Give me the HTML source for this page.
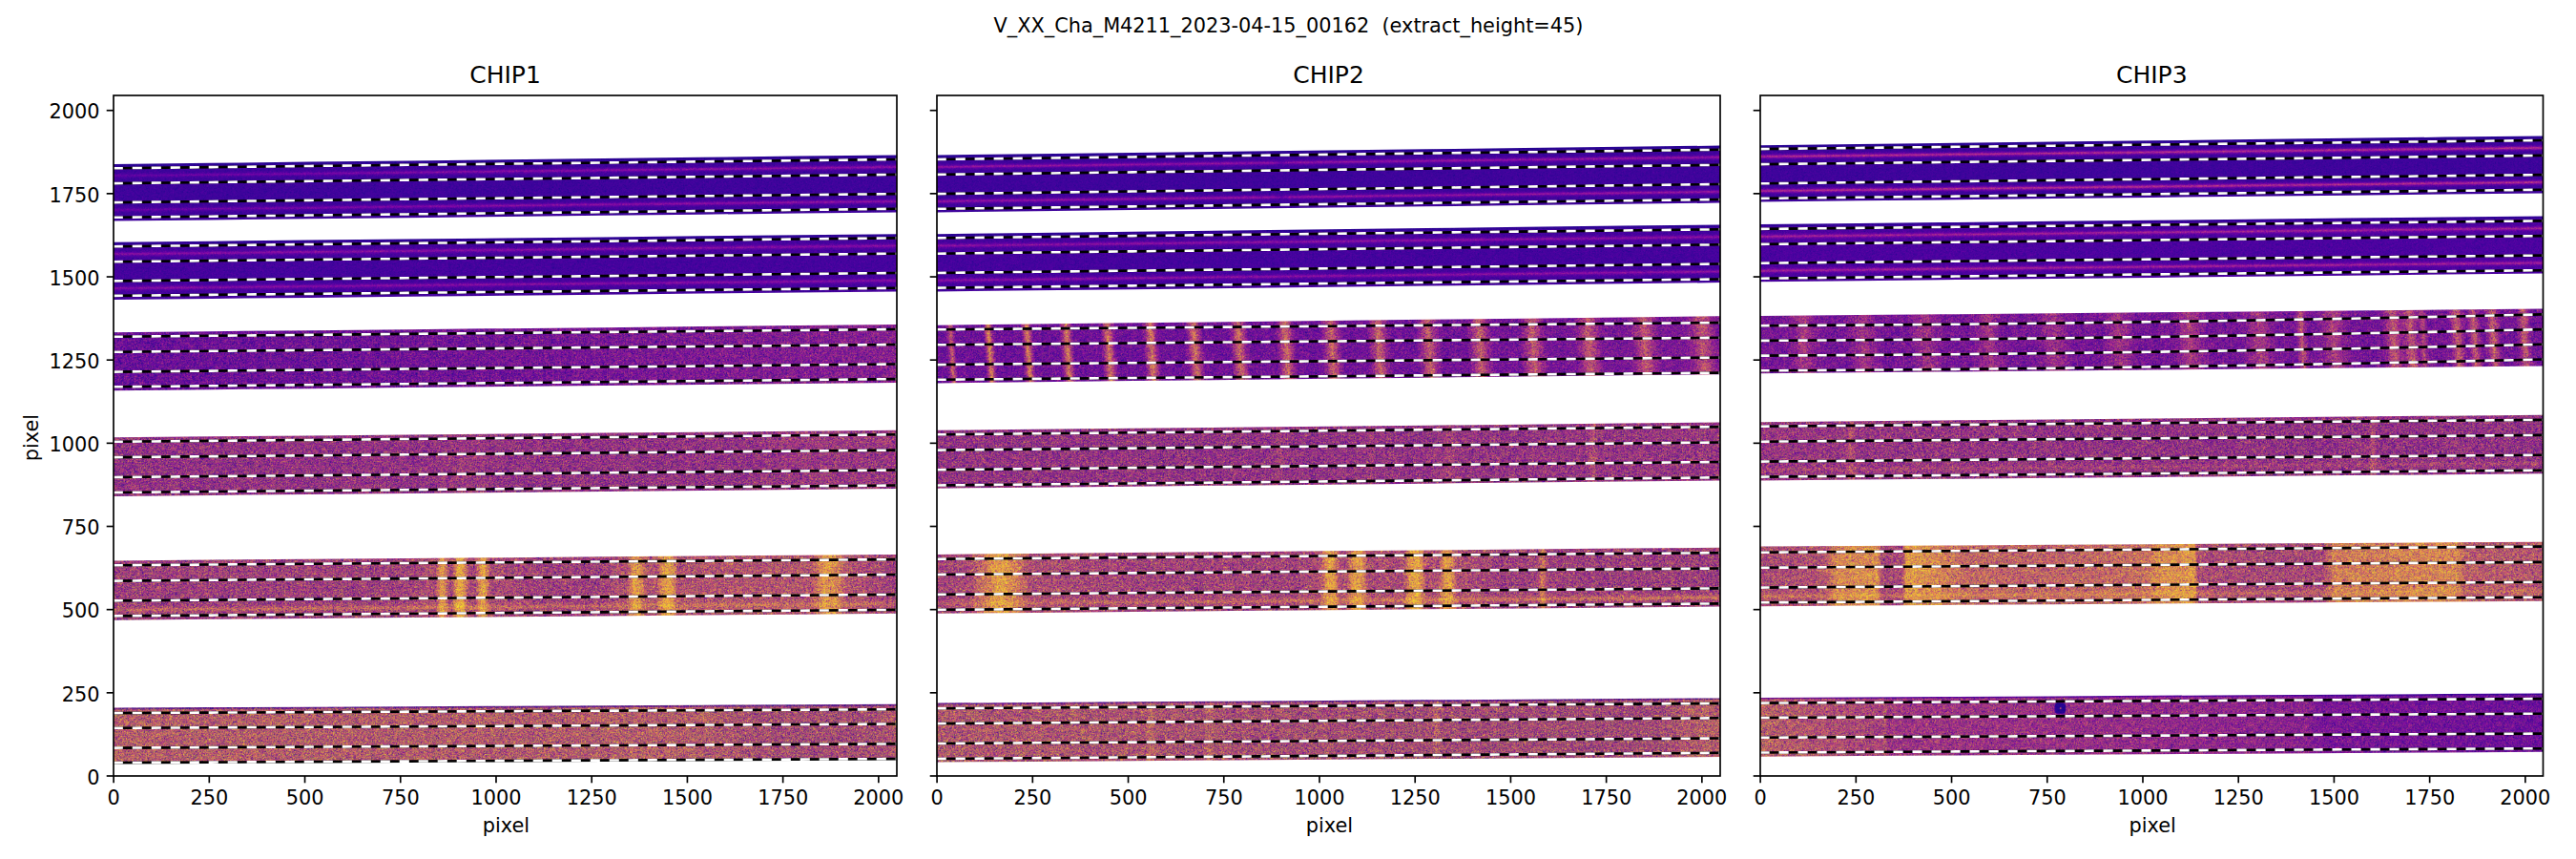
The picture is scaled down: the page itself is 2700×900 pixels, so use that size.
<!DOCTYPE html>
<html><head><meta charset="utf-8"><title>V_XX_Cha_M4211_2023-04-15_00162</title>
<style>html,body{margin:0;padding:0;background:#fff}svg{display:block}text{font-family:"DejaVu Sans","Liberation Sans",sans-serif;fill:#000}</style></head><body>
<svg width="2700" height="900" viewBox="0 0 2700 900">
<rect width="2700" height="900" fill="#fff"/>
<defs>
<linearGradient id="sg" x1="0" y1="0" x2="1" y2="0"><stop offset="0" stop-color="#fff" stop-opacity="0"/><stop offset="0.2" stop-color="#fff" stop-opacity="0.3"/><stop offset="0.5" stop-color="#fff" stop-opacity="1"/><stop offset="0.8" stop-color="#fff" stop-opacity="0.3"/><stop offset="1" stop-color="#fff" stop-opacity="0"/></linearGradient>
<clipPath id="ca0"><rect x="119.0" y="100.0" width="821.0" height="713.0"/></clipPath>
<clipPath id="ca1"><rect x="982.0" y="100.0" width="821.0" height="713.0"/></clipPath>
<clipPath id="ca2"><rect x="1845.0" y="100.0" width="820.5" height="713.0"/></clipPath>
</defs>
<g clip-path="url(#ca0)">
<clipPath id="cb00"><path d="M119.0,172.00 L221.6,170.80 L324.2,169.60 L426.9,168.40 L529.5,167.20 L632.1,166.00 L734.8,164.80 L837.4,163.60 L940.0,162.40 L940.0,222.40 L837.4,223.55 L734.8,224.70 L632.1,225.85 L529.5,227.00 L426.9,228.15 L324.2,229.30 L221.6,230.45 L119.0,231.60Z"/></clipPath>
<filter id="f00" filterUnits="userSpaceOnUse" x="117.0" y="159.4" width="825.0" height="75.2" color-interpolation-filters="sRGB">
<feTurbulence type="fractalNoise" baseFrequency="2.37 2.71" numOctaves="1" seed="3" result="t0"/>
<feTurbulence type="fractalNoise" baseFrequency="2.53 2.29" numOctaves="1" seed="14" result="t1"/>
<feColorMatrix in="t0" type="matrix" values="1 0 0 0 0 1 0 0 0 0 1 0 0 0 0 0 0 0 0 1" result="n0"/>
<feComposite in="SourceGraphic" in2="n0" operator="arithmetic" k1="2.3364" k2="-0.1682" k3="0.2056" k4="-0.1028" result="v0"/>
<feComponentTransfer in="v0" result="c0"><feFuncR type="table" tableValues="0.050 0.132 0.193 0.248 0.300 0.350 0.399 0.448 0.495 0.541 0.584 0.626 0.665 0.702 0.736 0.768 0.798 0.827 0.853 0.878 0.902 0.923 0.943 0.959 0.973 0.984 0.991 0.994 0.993 0.987 0.974 0.957 0.940"/><feFuncG type="table" tableValues="0.030 0.022 0.018 0.014 0.010 0.004 0.001 0.002 0.012 0.035 0.069 0.103 0.139 0.174 0.209 0.245 0.280 0.316 0.352 0.388 0.425 0.463 0.503 0.543 0.586 0.630 0.675 0.723 0.772 0.822 0.875 0.928 0.975"/><feFuncB type="table" tableValues="0.528 0.563 0.590 0.613 0.632 0.646 0.656 0.660 0.658 0.649 0.633 0.611 0.586 0.557 0.528 0.498 0.470 0.441 0.414 0.387 0.360 0.333 0.306 0.279 0.252 0.225 0.198 0.174 0.155 0.144 0.144 0.152 0.131"/><feFuncA type="linear" slope="0" intercept="1"/></feComponentTransfer>
<feColorMatrix in="t0" type="matrix" values="0 1 0 0 0 0 1 0 0 0 0 1 0 0 0 0 0 0 0 1" result="n1"/>
<feComposite in="SourceGraphic" in2="n1" operator="arithmetic" k1="2.3364" k2="-0.1682" k3="0.2056" k4="-0.1028" result="v1"/>
<feComponentTransfer in="v1" result="c1"><feFuncR type="table" tableValues="0.050 0.132 0.193 0.248 0.300 0.350 0.399 0.448 0.495 0.541 0.584 0.626 0.665 0.702 0.736 0.768 0.798 0.827 0.853 0.878 0.902 0.923 0.943 0.959 0.973 0.984 0.991 0.994 0.993 0.987 0.974 0.957 0.940"/><feFuncG type="table" tableValues="0.030 0.022 0.018 0.014 0.010 0.004 0.001 0.002 0.012 0.035 0.069 0.103 0.139 0.174 0.209 0.245 0.280 0.316 0.352 0.388 0.425 0.463 0.503 0.543 0.586 0.630 0.675 0.723 0.772 0.822 0.875 0.928 0.975"/><feFuncB type="table" tableValues="0.528 0.563 0.590 0.613 0.632 0.646 0.656 0.660 0.658 0.649 0.633 0.611 0.586 0.557 0.528 0.498 0.470 0.441 0.414 0.387 0.360 0.333 0.306 0.279 0.252 0.225 0.198 0.174 0.155 0.144 0.144 0.152 0.131"/><feFuncA type="linear" slope="0" intercept="1"/></feComponentTransfer>
<feColorMatrix in="t0" type="matrix" values="0 0 1 0 0 0 0 1 0 0 0 0 1 0 0 0 0 0 0 1" result="n2"/>
<feComposite in="SourceGraphic" in2="n2" operator="arithmetic" k1="2.3364" k2="-0.1682" k3="0.2056" k4="-0.1028" result="v2"/>
<feComponentTransfer in="v2" result="c2"><feFuncR type="table" tableValues="0.050 0.132 0.193 0.248 0.300 0.350 0.399 0.448 0.495 0.541 0.584 0.626 0.665 0.702 0.736 0.768 0.798 0.827 0.853 0.878 0.902 0.923 0.943 0.959 0.973 0.984 0.991 0.994 0.993 0.987 0.974 0.957 0.940"/><feFuncG type="table" tableValues="0.030 0.022 0.018 0.014 0.010 0.004 0.001 0.002 0.012 0.035 0.069 0.103 0.139 0.174 0.209 0.245 0.280 0.316 0.352 0.388 0.425 0.463 0.503 0.543 0.586 0.630 0.675 0.723 0.772 0.822 0.875 0.928 0.975"/><feFuncB type="table" tableValues="0.528 0.563 0.590 0.613 0.632 0.646 0.656 0.660 0.658 0.649 0.633 0.611 0.586 0.557 0.528 0.498 0.470 0.441 0.414 0.387 0.360 0.333 0.306 0.279 0.252 0.225 0.198 0.174 0.155 0.144 0.144 0.152 0.131"/><feFuncA type="linear" slope="0" intercept="1"/></feComponentTransfer>
<feColorMatrix in="t1" type="matrix" values="1 0 0 0 0 1 0 0 0 0 1 0 0 0 0 0 0 0 0 1" result="n3"/>
<feComposite in="SourceGraphic" in2="n3" operator="arithmetic" k1="2.3364" k2="-0.1682" k3="0.2056" k4="-0.1028" result="v3"/>
<feComponentTransfer in="v3" result="c3"><feFuncR type="table" tableValues="0.050 0.132 0.193 0.248 0.300 0.350 0.399 0.448 0.495 0.541 0.584 0.626 0.665 0.702 0.736 0.768 0.798 0.827 0.853 0.878 0.902 0.923 0.943 0.959 0.973 0.984 0.991 0.994 0.993 0.987 0.974 0.957 0.940"/><feFuncG type="table" tableValues="0.030 0.022 0.018 0.014 0.010 0.004 0.001 0.002 0.012 0.035 0.069 0.103 0.139 0.174 0.209 0.245 0.280 0.316 0.352 0.388 0.425 0.463 0.503 0.543 0.586 0.630 0.675 0.723 0.772 0.822 0.875 0.928 0.975"/><feFuncB type="table" tableValues="0.528 0.563 0.590 0.613 0.632 0.646 0.656 0.660 0.658 0.649 0.633 0.611 0.586 0.557 0.528 0.498 0.470 0.441 0.414 0.387 0.360 0.333 0.306 0.279 0.252 0.225 0.198 0.174 0.155 0.144 0.144 0.152 0.131"/><feFuncA type="linear" slope="0" intercept="1"/></feComponentTransfer>
<feColorMatrix in="t1" type="matrix" values="0 1 0 0 0 0 1 0 0 0 0 1 0 0 0 0 0 0 0 1" result="n4"/>
<feComposite in="SourceGraphic" in2="n4" operator="arithmetic" k1="2.3364" k2="-0.1682" k3="0.2056" k4="-0.1028" result="v4"/>
<feComponentTransfer in="v4" result="c4"><feFuncR type="table" tableValues="0.050 0.132 0.193 0.248 0.300 0.350 0.399 0.448 0.495 0.541 0.584 0.626 0.665 0.702 0.736 0.768 0.798 0.827 0.853 0.878 0.902 0.923 0.943 0.959 0.973 0.984 0.991 0.994 0.993 0.987 0.974 0.957 0.940"/><feFuncG type="table" tableValues="0.030 0.022 0.018 0.014 0.010 0.004 0.001 0.002 0.012 0.035 0.069 0.103 0.139 0.174 0.209 0.245 0.280 0.316 0.352 0.388 0.425 0.463 0.503 0.543 0.586 0.630 0.675 0.723 0.772 0.822 0.875 0.928 0.975"/><feFuncB type="table" tableValues="0.528 0.563 0.590 0.613 0.632 0.646 0.656 0.660 0.658 0.649 0.633 0.611 0.586 0.557 0.528 0.498 0.470 0.441 0.414 0.387 0.360 0.333 0.306 0.279 0.252 0.225 0.198 0.174 0.155 0.144 0.144 0.152 0.131"/><feFuncA type="linear" slope="0" intercept="1"/></feComponentTransfer>
<feColorMatrix in="t1" type="matrix" values="0 0 1 0 0 0 0 1 0 0 0 0 1 0 0 0 0 0 0 1" result="n5"/>
<feComposite in="SourceGraphic" in2="n5" operator="arithmetic" k1="2.3364" k2="-0.1682" k3="0.2056" k4="-0.1028" result="v5"/>
<feComponentTransfer in="v5" result="c5"><feFuncR type="table" tableValues="0.050 0.132 0.193 0.248 0.300 0.350 0.399 0.448 0.495 0.541 0.584 0.626 0.665 0.702 0.736 0.768 0.798 0.827 0.853 0.878 0.902 0.923 0.943 0.959 0.973 0.984 0.991 0.994 0.993 0.987 0.974 0.957 0.940"/><feFuncG type="table" tableValues="0.030 0.022 0.018 0.014 0.010 0.004 0.001 0.002 0.012 0.035 0.069 0.103 0.139 0.174 0.209 0.245 0.280 0.316 0.352 0.388 0.425 0.463 0.503 0.543 0.586 0.630 0.675 0.723 0.772 0.822 0.875 0.928 0.975"/><feFuncB type="table" tableValues="0.528 0.563 0.590 0.613 0.632 0.646 0.656 0.660 0.658 0.649 0.633 0.611 0.586 0.557 0.528 0.498 0.470 0.441 0.414 0.387 0.360 0.333 0.306 0.279 0.252 0.225 0.198 0.174 0.155 0.144 0.144 0.152 0.131"/><feFuncA type="linear" slope="0" intercept="1"/></feComponentTransfer>
<feComposite in="c0" in2="c1" operator="arithmetic" k2="0.5" k3="0.5" result="m0"/>
<feComposite in="m0" in2="c2" operator="arithmetic" k2="0.6667" k3="0.3333" result="ma"/>
<feComposite in="c3" in2="c4" operator="arithmetic" k2="0.5" k3="0.5" result="m1"/>
<feComposite in="m1" in2="c5" operator="arithmetic" k2="0.6667" k3="0.3333" result="mb"/>
<feComposite in="ma" in2="mb" operator="arithmetic" k2="0.5" k3="0.5" result="m"/>
<feConvolveMatrix in="m" order="3" kernelMatrix="0.00903 0.07695 0.00903 0.07695 0.65610 0.07695 0.00903 0.07695 0.00903" divisor="1" edgeMode="duplicate" preserveAlpha="true" result="bl"/>

<feComposite in="bl" in2="SourceGraphic" operator="in"/>
</filter>
<g clip-path="url(#cb00)" filter="url(#f00)">
<linearGradient id="g00" gradientUnits="userSpaceOnUse" x1="119.0" y1="0" x2="940.0" y2="0"><stop offset="0" stop-color="rgb(24,24,24)"/><stop offset="1" stop-color="rgb(24,24,24)"/></linearGradient>
<rect x="117.0" y="159.4" width="825.0" height="75.2" fill="url(#g00)"/>
<linearGradient id="ht00_12_50" gradientUnits="userSpaceOnUse" x1="119.0" y1="0" x2="940.0" y2="0"><stop offset="0.000" stop-color="#fff" stop-opacity="0.100"/><stop offset="0.250" stop-color="#fff" stop-opacity="0.160"/><stop offset="0.500" stop-color="#fff" stop-opacity="0.220"/><stop offset="1.000" stop-color="#fff" stop-opacity="0.240"/></linearGradient><path d="M119.0,184.20 L221.6,183.04 L324.2,181.89 L426.9,180.73 L529.5,179.57 L632.1,178.42 L734.8,177.26 L837.4,176.11 L940.0,174.95" fill="none" stroke="url(#ht00_12_50)" stroke-width="6.72" stroke-opacity="0.12"/><path d="M119.0,184.20 L221.6,183.04 L324.2,181.89 L426.9,180.73 L529.5,179.57 L632.1,178.42 L734.8,177.26 L837.4,176.11 L940.0,174.95" fill="none" stroke="url(#ht00_12_50)" stroke-width="4.20" stroke-opacity="0.2"/><path d="M119.0,184.20 L221.6,183.04 L324.2,181.89 L426.9,180.73 L529.5,179.57 L632.1,178.42 L734.8,177.26 L837.4,176.11 L940.0,174.95" fill="none" stroke="url(#ht00_12_50)" stroke-width="2.52" stroke-opacity="0.3"/><path d="M119.0,184.20 L221.6,183.04 L324.2,181.89 L426.9,180.73 L529.5,179.57 L632.1,178.42 L734.8,177.26 L837.4,176.11 L940.0,174.95" fill="none" stroke="url(#ht00_12_50)" stroke-width="1.40" stroke-opacity="0.38"/>
<linearGradient id="ht00_34_50" gradientUnits="userSpaceOnUse" x1="119.0" y1="0" x2="940.0" y2="0"><stop offset="0.000" stop-color="#fff" stop-opacity="0.100"/><stop offset="0.250" stop-color="#fff" stop-opacity="0.160"/><stop offset="0.500" stop-color="#fff" stop-opacity="0.220"/><stop offset="1.000" stop-color="#fff" stop-opacity="0.240"/></linearGradient><path d="M119.0,219.95 L221.6,218.82 L324.2,217.70 L426.9,216.57 L529.5,215.45 L632.1,214.32 L734.8,213.20 L837.4,212.07 L940.0,210.95" fill="none" stroke="url(#ht00_34_50)" stroke-width="6.72" stroke-opacity="0.12"/><path d="M119.0,219.95 L221.6,218.82 L324.2,217.70 L426.9,216.57 L529.5,215.45 L632.1,214.32 L734.8,213.20 L837.4,212.07 L940.0,210.95" fill="none" stroke="url(#ht00_34_50)" stroke-width="4.20" stroke-opacity="0.2"/><path d="M119.0,219.95 L221.6,218.82 L324.2,217.70 L426.9,216.57 L529.5,215.45 L632.1,214.32 L734.8,213.20 L837.4,212.07 L940.0,210.95" fill="none" stroke="url(#ht00_34_50)" stroke-width="2.52" stroke-opacity="0.3"/><path d="M119.0,219.95 L221.6,218.82 L324.2,217.70 L426.9,216.57 L529.5,215.45 L632.1,214.32 L734.8,213.20 L837.4,212.07 L940.0,210.95" fill="none" stroke="url(#ht00_34_50)" stroke-width="1.40" stroke-opacity="0.38"/>
<path d="M119.0,173.00 L221.6,171.80 L324.2,170.60 L426.9,169.40 L529.5,168.20 L632.1,167.00 L734.8,165.80 L837.4,164.60 L940.0,163.40" fill="none" stroke="#000" stroke-width="3.0" stroke-opacity="0.45"/>
</g>
<clipPath id="cb01"><path d="M119.0,253.70 L221.6,252.64 L324.2,251.57 L426.9,250.51 L529.5,249.45 L632.1,248.39 L734.8,247.32 L837.4,246.26 L940.0,245.20 L940.0,305.50 L837.4,306.56 L734.8,307.62 L632.1,308.69 L529.5,309.75 L426.9,310.81 L324.2,311.88 L221.6,312.94 L119.0,314.00Z"/></clipPath>
<filter id="f01" filterUnits="userSpaceOnUse" x="117.0" y="242.2" width="825.0" height="74.8" color-interpolation-filters="sRGB">
<feTurbulence type="fractalNoise" baseFrequency="2.37 2.71" numOctaves="1" seed="16" result="t0"/>
<feTurbulence type="fractalNoise" baseFrequency="2.53 2.29" numOctaves="1" seed="27" result="t1"/>
<feColorMatrix in="t0" type="matrix" values="1 0 0 0 0 1 0 0 0 0 1 0 0 0 0 0 0 0 0 1" result="n0"/>
<feComposite in="SourceGraphic" in2="n0" operator="arithmetic" k1="2.3364" k2="-0.1682" k3="0.2617" k4="-0.1308" result="v0"/>
<feComponentTransfer in="v0" result="c0"><feFuncR type="table" tableValues="0.050 0.132 0.193 0.248 0.300 0.350 0.399 0.448 0.495 0.541 0.584 0.626 0.665 0.702 0.736 0.768 0.798 0.827 0.853 0.878 0.902 0.923 0.943 0.959 0.973 0.984 0.991 0.994 0.993 0.987 0.974 0.957 0.940"/><feFuncG type="table" tableValues="0.030 0.022 0.018 0.014 0.010 0.004 0.001 0.002 0.012 0.035 0.069 0.103 0.139 0.174 0.209 0.245 0.280 0.316 0.352 0.388 0.425 0.463 0.503 0.543 0.586 0.630 0.675 0.723 0.772 0.822 0.875 0.928 0.975"/><feFuncB type="table" tableValues="0.528 0.563 0.590 0.613 0.632 0.646 0.656 0.660 0.658 0.649 0.633 0.611 0.586 0.557 0.528 0.498 0.470 0.441 0.414 0.387 0.360 0.333 0.306 0.279 0.252 0.225 0.198 0.174 0.155 0.144 0.144 0.152 0.131"/><feFuncA type="linear" slope="0" intercept="1"/></feComponentTransfer>
<feColorMatrix in="t0" type="matrix" values="0 1 0 0 0 0 1 0 0 0 0 1 0 0 0 0 0 0 0 1" result="n1"/>
<feComposite in="SourceGraphic" in2="n1" operator="arithmetic" k1="2.3364" k2="-0.1682" k3="0.2617" k4="-0.1308" result="v1"/>
<feComponentTransfer in="v1" result="c1"><feFuncR type="table" tableValues="0.050 0.132 0.193 0.248 0.300 0.350 0.399 0.448 0.495 0.541 0.584 0.626 0.665 0.702 0.736 0.768 0.798 0.827 0.853 0.878 0.902 0.923 0.943 0.959 0.973 0.984 0.991 0.994 0.993 0.987 0.974 0.957 0.940"/><feFuncG type="table" tableValues="0.030 0.022 0.018 0.014 0.010 0.004 0.001 0.002 0.012 0.035 0.069 0.103 0.139 0.174 0.209 0.245 0.280 0.316 0.352 0.388 0.425 0.463 0.503 0.543 0.586 0.630 0.675 0.723 0.772 0.822 0.875 0.928 0.975"/><feFuncB type="table" tableValues="0.528 0.563 0.590 0.613 0.632 0.646 0.656 0.660 0.658 0.649 0.633 0.611 0.586 0.557 0.528 0.498 0.470 0.441 0.414 0.387 0.360 0.333 0.306 0.279 0.252 0.225 0.198 0.174 0.155 0.144 0.144 0.152 0.131"/><feFuncA type="linear" slope="0" intercept="1"/></feComponentTransfer>
<feColorMatrix in="t0" type="matrix" values="0 0 1 0 0 0 0 1 0 0 0 0 1 0 0 0 0 0 0 1" result="n2"/>
<feComposite in="SourceGraphic" in2="n2" operator="arithmetic" k1="2.3364" k2="-0.1682" k3="0.2617" k4="-0.1308" result="v2"/>
<feComponentTransfer in="v2" result="c2"><feFuncR type="table" tableValues="0.050 0.132 0.193 0.248 0.300 0.350 0.399 0.448 0.495 0.541 0.584 0.626 0.665 0.702 0.736 0.768 0.798 0.827 0.853 0.878 0.902 0.923 0.943 0.959 0.973 0.984 0.991 0.994 0.993 0.987 0.974 0.957 0.940"/><feFuncG type="table" tableValues="0.030 0.022 0.018 0.014 0.010 0.004 0.001 0.002 0.012 0.035 0.069 0.103 0.139 0.174 0.209 0.245 0.280 0.316 0.352 0.388 0.425 0.463 0.503 0.543 0.586 0.630 0.675 0.723 0.772 0.822 0.875 0.928 0.975"/><feFuncB type="table" tableValues="0.528 0.563 0.590 0.613 0.632 0.646 0.656 0.660 0.658 0.649 0.633 0.611 0.586 0.557 0.528 0.498 0.470 0.441 0.414 0.387 0.360 0.333 0.306 0.279 0.252 0.225 0.198 0.174 0.155 0.144 0.144 0.152 0.131"/><feFuncA type="linear" slope="0" intercept="1"/></feComponentTransfer>
<feColorMatrix in="t1" type="matrix" values="1 0 0 0 0 1 0 0 0 0 1 0 0 0 0 0 0 0 0 1" result="n3"/>
<feComposite in="SourceGraphic" in2="n3" operator="arithmetic" k1="2.3364" k2="-0.1682" k3="0.2617" k4="-0.1308" result="v3"/>
<feComponentTransfer in="v3" result="c3"><feFuncR type="table" tableValues="0.050 0.132 0.193 0.248 0.300 0.350 0.399 0.448 0.495 0.541 0.584 0.626 0.665 0.702 0.736 0.768 0.798 0.827 0.853 0.878 0.902 0.923 0.943 0.959 0.973 0.984 0.991 0.994 0.993 0.987 0.974 0.957 0.940"/><feFuncG type="table" tableValues="0.030 0.022 0.018 0.014 0.010 0.004 0.001 0.002 0.012 0.035 0.069 0.103 0.139 0.174 0.209 0.245 0.280 0.316 0.352 0.388 0.425 0.463 0.503 0.543 0.586 0.630 0.675 0.723 0.772 0.822 0.875 0.928 0.975"/><feFuncB type="table" tableValues="0.528 0.563 0.590 0.613 0.632 0.646 0.656 0.660 0.658 0.649 0.633 0.611 0.586 0.557 0.528 0.498 0.470 0.441 0.414 0.387 0.360 0.333 0.306 0.279 0.252 0.225 0.198 0.174 0.155 0.144 0.144 0.152 0.131"/><feFuncA type="linear" slope="0" intercept="1"/></feComponentTransfer>
<feColorMatrix in="t1" type="matrix" values="0 1 0 0 0 0 1 0 0 0 0 1 0 0 0 0 0 0 0 1" result="n4"/>
<feComposite in="SourceGraphic" in2="n4" operator="arithmetic" k1="2.3364" k2="-0.1682" k3="0.2617" k4="-0.1308" result="v4"/>
<feComponentTransfer in="v4" result="c4"><feFuncR type="table" tableValues="0.050 0.132 0.193 0.248 0.300 0.350 0.399 0.448 0.495 0.541 0.584 0.626 0.665 0.702 0.736 0.768 0.798 0.827 0.853 0.878 0.902 0.923 0.943 0.959 0.973 0.984 0.991 0.994 0.993 0.987 0.974 0.957 0.940"/><feFuncG type="table" tableValues="0.030 0.022 0.018 0.014 0.010 0.004 0.001 0.002 0.012 0.035 0.069 0.103 0.139 0.174 0.209 0.245 0.280 0.316 0.352 0.388 0.425 0.463 0.503 0.543 0.586 0.630 0.675 0.723 0.772 0.822 0.875 0.928 0.975"/><feFuncB type="table" tableValues="0.528 0.563 0.590 0.613 0.632 0.646 0.656 0.660 0.658 0.649 0.633 0.611 0.586 0.557 0.528 0.498 0.470 0.441 0.414 0.387 0.360 0.333 0.306 0.279 0.252 0.225 0.198 0.174 0.155 0.144 0.144 0.152 0.131"/><feFuncA type="linear" slope="0" intercept="1"/></feComponentTransfer>
<feColorMatrix in="t1" type="matrix" values="0 0 1 0 0 0 0 1 0 0 0 0 1 0 0 0 0 0 0 1" result="n5"/>
<feComposite in="SourceGraphic" in2="n5" operator="arithmetic" k1="2.3364" k2="-0.1682" k3="0.2617" k4="-0.1308" result="v5"/>
<feComponentTransfer in="v5" result="c5"><feFuncR type="table" tableValues="0.050 0.132 0.193 0.248 0.300 0.350 0.399 0.448 0.495 0.541 0.584 0.626 0.665 0.702 0.736 0.768 0.798 0.827 0.853 0.878 0.902 0.923 0.943 0.959 0.973 0.984 0.991 0.994 0.993 0.987 0.974 0.957 0.940"/><feFuncG type="table" tableValues="0.030 0.022 0.018 0.014 0.010 0.004 0.001 0.002 0.012 0.035 0.069 0.103 0.139 0.174 0.209 0.245 0.280 0.316 0.352 0.388 0.425 0.463 0.503 0.543 0.586 0.630 0.675 0.723 0.772 0.822 0.875 0.928 0.975"/><feFuncB type="table" tableValues="0.528 0.563 0.590 0.613 0.632 0.646 0.656 0.660 0.658 0.649 0.633 0.611 0.586 0.557 0.528 0.498 0.470 0.441 0.414 0.387 0.360 0.333 0.306 0.279 0.252 0.225 0.198 0.174 0.155 0.144 0.144 0.152 0.131"/><feFuncA type="linear" slope="0" intercept="1"/></feComponentTransfer>
<feComposite in="c0" in2="c1" operator="arithmetic" k2="0.5" k3="0.5" result="m0"/>
<feComposite in="m0" in2="c2" operator="arithmetic" k2="0.6667" k3="0.3333" result="ma"/>
<feComposite in="c3" in2="c4" operator="arithmetic" k2="0.5" k3="0.5" result="m1"/>
<feComposite in="m1" in2="c5" operator="arithmetic" k2="0.6667" k3="0.3333" result="mb"/>
<feComposite in="ma" in2="mb" operator="arithmetic" k2="0.5" k3="0.5" result="m"/>
<feConvolveMatrix in="m" order="3" kernelMatrix="0.00903 0.07695 0.00903 0.07695 0.65610 0.07695 0.00903 0.07695 0.00903" divisor="1" edgeMode="duplicate" preserveAlpha="true" result="bl"/>

<feComposite in="bl" in2="SourceGraphic" operator="in"/>
</filter>
<g clip-path="url(#cb01)" filter="url(#f01)">
<linearGradient id="g01" gradientUnits="userSpaceOnUse" x1="119.0" y1="0" x2="940.0" y2="0"><stop offset="0" stop-color="rgb(28,28,28)"/><stop offset="1" stop-color="rgb(28,28,28)"/></linearGradient>
<rect x="117.0" y="242.2" width="825.0" height="74.8" fill="url(#g01)"/>
<linearGradient id="ht01_12_50" gradientUnits="userSpaceOnUse" x1="119.0" y1="0" x2="940.0" y2="0"><stop offset="0.000" stop-color="#fff" stop-opacity="0.200"/><stop offset="1.000" stop-color="#fff" stop-opacity="0.200"/></linearGradient><path d="M119.0,266.20 L221.6,265.12 L324.2,264.04 L426.9,262.96 L529.5,261.88 L632.1,260.79 L734.8,259.71 L837.4,258.63 L940.0,257.55" fill="none" stroke="url(#ht01_12_50)" stroke-width="6.72" stroke-opacity="0.12"/><path d="M119.0,266.20 L221.6,265.12 L324.2,264.04 L426.9,262.96 L529.5,261.88 L632.1,260.79 L734.8,259.71 L837.4,258.63 L940.0,257.55" fill="none" stroke="url(#ht01_12_50)" stroke-width="4.20" stroke-opacity="0.2"/><path d="M119.0,266.20 L221.6,265.12 L324.2,264.04 L426.9,262.96 L529.5,261.88 L632.1,260.79 L734.8,259.71 L837.4,258.63 L940.0,257.55" fill="none" stroke="url(#ht01_12_50)" stroke-width="2.52" stroke-opacity="0.3"/><path d="M119.0,266.20 L221.6,265.12 L324.2,264.04 L426.9,262.96 L529.5,261.88 L632.1,260.79 L734.8,259.71 L837.4,258.63 L940.0,257.55" fill="none" stroke="url(#ht01_12_50)" stroke-width="1.40" stroke-opacity="0.38"/>
<linearGradient id="ht01_34_50" gradientUnits="userSpaceOnUse" x1="119.0" y1="0" x2="940.0" y2="0"><stop offset="0.000" stop-color="#fff" stop-opacity="0.200"/><stop offset="1.000" stop-color="#fff" stop-opacity="0.200"/></linearGradient><path d="M119.0,302.15 L221.6,301.12 L324.2,300.09 L426.9,299.06 L529.5,298.02 L632.1,296.99 L734.8,295.96 L837.4,294.93 L940.0,293.90" fill="none" stroke="url(#ht01_34_50)" stroke-width="6.72" stroke-opacity="0.12"/><path d="M119.0,302.15 L221.6,301.12 L324.2,300.09 L426.9,299.06 L529.5,298.02 L632.1,296.99 L734.8,295.96 L837.4,294.93 L940.0,293.90" fill="none" stroke="url(#ht01_34_50)" stroke-width="4.20" stroke-opacity="0.2"/><path d="M119.0,302.15 L221.6,301.12 L324.2,300.09 L426.9,299.06 L529.5,298.02 L632.1,296.99 L734.8,295.96 L837.4,294.93 L940.0,293.90" fill="none" stroke="url(#ht01_34_50)" stroke-width="2.52" stroke-opacity="0.3"/><path d="M119.0,302.15 L221.6,301.12 L324.2,300.09 L426.9,299.06 L529.5,298.02 L632.1,296.99 L734.8,295.96 L837.4,294.93 L940.0,293.90" fill="none" stroke="url(#ht01_34_50)" stroke-width="1.40" stroke-opacity="0.38"/>
<path d="M119.0,254.70 L221.6,253.64 L324.2,252.57 L426.9,251.51 L529.5,250.45 L632.1,249.39 L734.8,248.32 L837.4,247.26 L940.0,246.20" fill="none" stroke="#000" stroke-width="3.0" stroke-opacity="0.45"/>
</g>
<clipPath id="cb02"><path d="M119.0,348.20 L221.6,347.19 L324.2,346.18 L426.9,345.16 L529.5,344.15 L632.1,343.14 L734.8,342.12 L837.4,341.11 L940.0,340.10 L940.0,401.00 L837.4,402.02 L734.8,403.05 L632.1,404.07 L529.5,405.10 L426.9,406.12 L324.2,407.15 L221.6,408.18 L119.0,409.20Z"/></clipPath>
<filter id="f02" filterUnits="userSpaceOnUse" x="117.0" y="337.1" width="825.0" height="75.1" color-interpolation-filters="sRGB">
<feTurbulence type="fractalNoise" baseFrequency="2.37 2.71" numOctaves="1" seed="29" result="t0"/>
<feTurbulence type="fractalNoise" baseFrequency="2.53 2.29" numOctaves="1" seed="40" result="t1"/>
<feColorMatrix in="t0" type="matrix" values="1 0 0 0 0 1 0 0 0 0 1 0 0 0 0 0 0 0 0 1" result="n0"/>
<feComposite in="SourceGraphic" in2="n0" operator="arithmetic" k1="3.9252" k2="-0.9626" k3="0.9346" k4="-0.4673" result="v0"/>
<feComponentTransfer in="v0" result="c0"><feFuncR type="table" tableValues="0.050 0.132 0.193 0.248 0.300 0.350 0.399 0.448 0.495 0.541 0.584 0.626 0.665 0.702 0.736 0.768 0.798 0.827 0.853 0.878 0.902 0.923 0.943 0.959 0.973 0.984 0.991 0.994 0.993 0.987 0.974 0.957 0.940"/><feFuncG type="table" tableValues="0.030 0.022 0.018 0.014 0.010 0.004 0.001 0.002 0.012 0.035 0.069 0.103 0.139 0.174 0.209 0.245 0.280 0.316 0.352 0.388 0.425 0.463 0.503 0.543 0.586 0.630 0.675 0.723 0.772 0.822 0.875 0.928 0.975"/><feFuncB type="table" tableValues="0.528 0.563 0.590 0.613 0.632 0.646 0.656 0.660 0.658 0.649 0.633 0.611 0.586 0.557 0.528 0.498 0.470 0.441 0.414 0.387 0.360 0.333 0.306 0.279 0.252 0.225 0.198 0.174 0.155 0.144 0.144 0.152 0.131"/><feFuncA type="linear" slope="0" intercept="1"/></feComponentTransfer>
<feColorMatrix in="t0" type="matrix" values="0 1 0 0 0 0 1 0 0 0 0 1 0 0 0 0 0 0 0 1" result="n1"/>
<feComposite in="SourceGraphic" in2="n1" operator="arithmetic" k1="3.9252" k2="-0.9626" k3="0.9346" k4="-0.4673" result="v1"/>
<feComponentTransfer in="v1" result="c1"><feFuncR type="table" tableValues="0.050 0.132 0.193 0.248 0.300 0.350 0.399 0.448 0.495 0.541 0.584 0.626 0.665 0.702 0.736 0.768 0.798 0.827 0.853 0.878 0.902 0.923 0.943 0.959 0.973 0.984 0.991 0.994 0.993 0.987 0.974 0.957 0.940"/><feFuncG type="table" tableValues="0.030 0.022 0.018 0.014 0.010 0.004 0.001 0.002 0.012 0.035 0.069 0.103 0.139 0.174 0.209 0.245 0.280 0.316 0.352 0.388 0.425 0.463 0.503 0.543 0.586 0.630 0.675 0.723 0.772 0.822 0.875 0.928 0.975"/><feFuncB type="table" tableValues="0.528 0.563 0.590 0.613 0.632 0.646 0.656 0.660 0.658 0.649 0.633 0.611 0.586 0.557 0.528 0.498 0.470 0.441 0.414 0.387 0.360 0.333 0.306 0.279 0.252 0.225 0.198 0.174 0.155 0.144 0.144 0.152 0.131"/><feFuncA type="linear" slope="0" intercept="1"/></feComponentTransfer>
<feColorMatrix in="t0" type="matrix" values="0 0 1 0 0 0 0 1 0 0 0 0 1 0 0 0 0 0 0 1" result="n2"/>
<feComposite in="SourceGraphic" in2="n2" operator="arithmetic" k1="3.9252" k2="-0.9626" k3="0.9346" k4="-0.4673" result="v2"/>
<feComponentTransfer in="v2" result="c2"><feFuncR type="table" tableValues="0.050 0.132 0.193 0.248 0.300 0.350 0.399 0.448 0.495 0.541 0.584 0.626 0.665 0.702 0.736 0.768 0.798 0.827 0.853 0.878 0.902 0.923 0.943 0.959 0.973 0.984 0.991 0.994 0.993 0.987 0.974 0.957 0.940"/><feFuncG type="table" tableValues="0.030 0.022 0.018 0.014 0.010 0.004 0.001 0.002 0.012 0.035 0.069 0.103 0.139 0.174 0.209 0.245 0.280 0.316 0.352 0.388 0.425 0.463 0.503 0.543 0.586 0.630 0.675 0.723 0.772 0.822 0.875 0.928 0.975"/><feFuncB type="table" tableValues="0.528 0.563 0.590 0.613 0.632 0.646 0.656 0.660 0.658 0.649 0.633 0.611 0.586 0.557 0.528 0.498 0.470 0.441 0.414 0.387 0.360 0.333 0.306 0.279 0.252 0.225 0.198 0.174 0.155 0.144 0.144 0.152 0.131"/><feFuncA type="linear" slope="0" intercept="1"/></feComponentTransfer>
<feColorMatrix in="t1" type="matrix" values="1 0 0 0 0 1 0 0 0 0 1 0 0 0 0 0 0 0 0 1" result="n3"/>
<feComposite in="SourceGraphic" in2="n3" operator="arithmetic" k1="3.9252" k2="-0.9626" k3="0.9346" k4="-0.4673" result="v3"/>
<feComponentTransfer in="v3" result="c3"><feFuncR type="table" tableValues="0.050 0.132 0.193 0.248 0.300 0.350 0.399 0.448 0.495 0.541 0.584 0.626 0.665 0.702 0.736 0.768 0.798 0.827 0.853 0.878 0.902 0.923 0.943 0.959 0.973 0.984 0.991 0.994 0.993 0.987 0.974 0.957 0.940"/><feFuncG type="table" tableValues="0.030 0.022 0.018 0.014 0.010 0.004 0.001 0.002 0.012 0.035 0.069 0.103 0.139 0.174 0.209 0.245 0.280 0.316 0.352 0.388 0.425 0.463 0.503 0.543 0.586 0.630 0.675 0.723 0.772 0.822 0.875 0.928 0.975"/><feFuncB type="table" tableValues="0.528 0.563 0.590 0.613 0.632 0.646 0.656 0.660 0.658 0.649 0.633 0.611 0.586 0.557 0.528 0.498 0.470 0.441 0.414 0.387 0.360 0.333 0.306 0.279 0.252 0.225 0.198 0.174 0.155 0.144 0.144 0.152 0.131"/><feFuncA type="linear" slope="0" intercept="1"/></feComponentTransfer>
<feColorMatrix in="t1" type="matrix" values="0 1 0 0 0 0 1 0 0 0 0 1 0 0 0 0 0 0 0 1" result="n4"/>
<feComposite in="SourceGraphic" in2="n4" operator="arithmetic" k1="3.9252" k2="-0.9626" k3="0.9346" k4="-0.4673" result="v4"/>
<feComponentTransfer in="v4" result="c4"><feFuncR type="table" tableValues="0.050 0.132 0.193 0.248 0.300 0.350 0.399 0.448 0.495 0.541 0.584 0.626 0.665 0.702 0.736 0.768 0.798 0.827 0.853 0.878 0.902 0.923 0.943 0.959 0.973 0.984 0.991 0.994 0.993 0.987 0.974 0.957 0.940"/><feFuncG type="table" tableValues="0.030 0.022 0.018 0.014 0.010 0.004 0.001 0.002 0.012 0.035 0.069 0.103 0.139 0.174 0.209 0.245 0.280 0.316 0.352 0.388 0.425 0.463 0.503 0.543 0.586 0.630 0.675 0.723 0.772 0.822 0.875 0.928 0.975"/><feFuncB type="table" tableValues="0.528 0.563 0.590 0.613 0.632 0.646 0.656 0.660 0.658 0.649 0.633 0.611 0.586 0.557 0.528 0.498 0.470 0.441 0.414 0.387 0.360 0.333 0.306 0.279 0.252 0.225 0.198 0.174 0.155 0.144 0.144 0.152 0.131"/><feFuncA type="linear" slope="0" intercept="1"/></feComponentTransfer>
<feColorMatrix in="t1" type="matrix" values="0 0 1 0 0 0 0 1 0 0 0 0 1 0 0 0 0 0 0 1" result="n5"/>
<feComposite in="SourceGraphic" in2="n5" operator="arithmetic" k1="3.9252" k2="-0.9626" k3="0.9346" k4="-0.4673" result="v5"/>
<feComponentTransfer in="v5" result="c5"><feFuncR type="table" tableValues="0.050 0.132 0.193 0.248 0.300 0.350 0.399 0.448 0.495 0.541 0.584 0.626 0.665 0.702 0.736 0.768 0.798 0.827 0.853 0.878 0.902 0.923 0.943 0.959 0.973 0.984 0.991 0.994 0.993 0.987 0.974 0.957 0.940"/><feFuncG type="table" tableValues="0.030 0.022 0.018 0.014 0.010 0.004 0.001 0.002 0.012 0.035 0.069 0.103 0.139 0.174 0.209 0.245 0.280 0.316 0.352 0.388 0.425 0.463 0.503 0.543 0.586 0.630 0.675 0.723 0.772 0.822 0.875 0.928 0.975"/><feFuncB type="table" tableValues="0.528 0.563 0.590 0.613 0.632 0.646 0.656 0.660 0.658 0.649 0.633 0.611 0.586 0.557 0.528 0.498 0.470 0.441 0.414 0.387 0.360 0.333 0.306 0.279 0.252 0.225 0.198 0.174 0.155 0.144 0.144 0.152 0.131"/><feFuncA type="linear" slope="0" intercept="1"/></feComponentTransfer>
<feComposite in="c0" in2="c1" operator="arithmetic" k2="0.5" k3="0.5" result="m0"/>
<feComposite in="m0" in2="c2" operator="arithmetic" k2="0.6667" k3="0.3333" result="ma"/>
<feComposite in="c3" in2="c4" operator="arithmetic" k2="0.5" k3="0.5" result="m1"/>
<feComposite in="m1" in2="c5" operator="arithmetic" k2="0.6667" k3="0.3333" result="mb"/>
<feComposite in="ma" in2="mb" operator="arithmetic" k2="0.5" k3="0.5" result="m"/>
<feConvolveMatrix in="m" order="3" kernelMatrix="0.00903 0.07695 0.00903 0.07695 0.65610 0.07695 0.00903 0.07695 0.00903" divisor="1" edgeMode="duplicate" preserveAlpha="true" result="bl"/>

<feComposite in="bl" in2="SourceGraphic" operator="in"/>
</filter>
<g clip-path="url(#cb02)" filter="url(#f02)">
<linearGradient id="g02" gradientUnits="userSpaceOnUse" x1="119.0" y1="0" x2="940.0" y2="0"><stop offset="0" stop-color="rgb(51,51,51)"/><stop offset="0.5" stop-color="rgb(59,59,59)"/><stop offset="1" stop-color="rgb(74,74,74)"/></linearGradient>
<rect x="117.0" y="337.1" width="825.0" height="75.1" fill="url(#g02)"/>
</g>
<clipPath id="cb03"><path d="M119.0,458.30 L221.6,457.36 L324.2,456.43 L426.9,455.49 L529.5,454.55 L632.1,453.61 L734.8,452.68 L837.4,451.74 L940.0,450.80 L940.0,512.10 L837.4,513.08 L734.8,514.05 L632.1,515.02 L529.5,516.00 L426.9,516.98 L324.2,517.95 L221.6,518.92 L119.0,519.90Z"/></clipPath>
<filter id="f03" filterUnits="userSpaceOnUse" x="117.0" y="447.8" width="825.0" height="75.1" color-interpolation-filters="sRGB">
<feTurbulence type="fractalNoise" baseFrequency="2.37 2.71" numOctaves="1" seed="42" result="t0"/>
<feTurbulence type="fractalNoise" baseFrequency="2.53 2.29" numOctaves="1" seed="53" result="t1"/>
<feColorMatrix in="t0" type="matrix" values="1 0 0 0 0 1 0 0 0 0 1 0 0 0 0 0 0 0 0 1" result="n0"/>
<feComposite in="SourceGraphic" in2="n0" operator="arithmetic" k1="0.0000" k2="1.0000" k3="2.8037" k4="-1.4019" result="v0"/>
<feComponentTransfer in="v0" result="c0"><feFuncR type="table" tableValues="0.050 0.132 0.193 0.248 0.300 0.350 0.399 0.448 0.495 0.541 0.584 0.626 0.665 0.702 0.736 0.768 0.798 0.827 0.853 0.878 0.902 0.923 0.943 0.959 0.973 0.984 0.991 0.994 0.993 0.987 0.974 0.957 0.940"/><feFuncG type="table" tableValues="0.030 0.022 0.018 0.014 0.010 0.004 0.001 0.002 0.012 0.035 0.069 0.103 0.139 0.174 0.209 0.245 0.280 0.316 0.352 0.388 0.425 0.463 0.503 0.543 0.586 0.630 0.675 0.723 0.772 0.822 0.875 0.928 0.975"/><feFuncB type="table" tableValues="0.528 0.563 0.590 0.613 0.632 0.646 0.656 0.660 0.658 0.649 0.633 0.611 0.586 0.557 0.528 0.498 0.470 0.441 0.414 0.387 0.360 0.333 0.306 0.279 0.252 0.225 0.198 0.174 0.155 0.144 0.144 0.152 0.131"/><feFuncA type="linear" slope="0" intercept="1"/></feComponentTransfer>
<feColorMatrix in="t0" type="matrix" values="0 1 0 0 0 0 1 0 0 0 0 1 0 0 0 0 0 0 0 1" result="n1"/>
<feComposite in="SourceGraphic" in2="n1" operator="arithmetic" k1="0.0000" k2="1.0000" k3="2.8037" k4="-1.4019" result="v1"/>
<feComponentTransfer in="v1" result="c1"><feFuncR type="table" tableValues="0.050 0.132 0.193 0.248 0.300 0.350 0.399 0.448 0.495 0.541 0.584 0.626 0.665 0.702 0.736 0.768 0.798 0.827 0.853 0.878 0.902 0.923 0.943 0.959 0.973 0.984 0.991 0.994 0.993 0.987 0.974 0.957 0.940"/><feFuncG type="table" tableValues="0.030 0.022 0.018 0.014 0.010 0.004 0.001 0.002 0.012 0.035 0.069 0.103 0.139 0.174 0.209 0.245 0.280 0.316 0.352 0.388 0.425 0.463 0.503 0.543 0.586 0.630 0.675 0.723 0.772 0.822 0.875 0.928 0.975"/><feFuncB type="table" tableValues="0.528 0.563 0.590 0.613 0.632 0.646 0.656 0.660 0.658 0.649 0.633 0.611 0.586 0.557 0.528 0.498 0.470 0.441 0.414 0.387 0.360 0.333 0.306 0.279 0.252 0.225 0.198 0.174 0.155 0.144 0.144 0.152 0.131"/><feFuncA type="linear" slope="0" intercept="1"/></feComponentTransfer>
<feColorMatrix in="t0" type="matrix" values="0 0 1 0 0 0 0 1 0 0 0 0 1 0 0 0 0 0 0 1" result="n2"/>
<feComposite in="SourceGraphic" in2="n2" operator="arithmetic" k1="0.0000" k2="1.0000" k3="2.8037" k4="-1.4019" result="v2"/>
<feComponentTransfer in="v2" result="c2"><feFuncR type="table" tableValues="0.050 0.132 0.193 0.248 0.300 0.350 0.399 0.448 0.495 0.541 0.584 0.626 0.665 0.702 0.736 0.768 0.798 0.827 0.853 0.878 0.902 0.923 0.943 0.959 0.973 0.984 0.991 0.994 0.993 0.987 0.974 0.957 0.940"/><feFuncG type="table" tableValues="0.030 0.022 0.018 0.014 0.010 0.004 0.001 0.002 0.012 0.035 0.069 0.103 0.139 0.174 0.209 0.245 0.280 0.316 0.352 0.388 0.425 0.463 0.503 0.543 0.586 0.630 0.675 0.723 0.772 0.822 0.875 0.928 0.975"/><feFuncB type="table" tableValues="0.528 0.563 0.590 0.613 0.632 0.646 0.656 0.660 0.658 0.649 0.633 0.611 0.586 0.557 0.528 0.498 0.470 0.441 0.414 0.387 0.360 0.333 0.306 0.279 0.252 0.225 0.198 0.174 0.155 0.144 0.144 0.152 0.131"/><feFuncA type="linear" slope="0" intercept="1"/></feComponentTransfer>
<feColorMatrix in="t1" type="matrix" values="1 0 0 0 0 1 0 0 0 0 1 0 0 0 0 0 0 0 0 1" result="n3"/>
<feComposite in="SourceGraphic" in2="n3" operator="arithmetic" k1="0.0000" k2="1.0000" k3="2.8037" k4="-1.4019" result="v3"/>
<feComponentTransfer in="v3" result="c3"><feFuncR type="table" tableValues="0.050 0.132 0.193 0.248 0.300 0.350 0.399 0.448 0.495 0.541 0.584 0.626 0.665 0.702 0.736 0.768 0.798 0.827 0.853 0.878 0.902 0.923 0.943 0.959 0.973 0.984 0.991 0.994 0.993 0.987 0.974 0.957 0.940"/><feFuncG type="table" tableValues="0.030 0.022 0.018 0.014 0.010 0.004 0.001 0.002 0.012 0.035 0.069 0.103 0.139 0.174 0.209 0.245 0.280 0.316 0.352 0.388 0.425 0.463 0.503 0.543 0.586 0.630 0.675 0.723 0.772 0.822 0.875 0.928 0.975"/><feFuncB type="table" tableValues="0.528 0.563 0.590 0.613 0.632 0.646 0.656 0.660 0.658 0.649 0.633 0.611 0.586 0.557 0.528 0.498 0.470 0.441 0.414 0.387 0.360 0.333 0.306 0.279 0.252 0.225 0.198 0.174 0.155 0.144 0.144 0.152 0.131"/><feFuncA type="linear" slope="0" intercept="1"/></feComponentTransfer>
<feColorMatrix in="t1" type="matrix" values="0 1 0 0 0 0 1 0 0 0 0 1 0 0 0 0 0 0 0 1" result="n4"/>
<feComposite in="SourceGraphic" in2="n4" operator="arithmetic" k1="0.0000" k2="1.0000" k3="2.8037" k4="-1.4019" result="v4"/>
<feComponentTransfer in="v4" result="c4"><feFuncR type="table" tableValues="0.050 0.132 0.193 0.248 0.300 0.350 0.399 0.448 0.495 0.541 0.584 0.626 0.665 0.702 0.736 0.768 0.798 0.827 0.853 0.878 0.902 0.923 0.943 0.959 0.973 0.984 0.991 0.994 0.993 0.987 0.974 0.957 0.940"/><feFuncG type="table" tableValues="0.030 0.022 0.018 0.014 0.010 0.004 0.001 0.002 0.012 0.035 0.069 0.103 0.139 0.174 0.209 0.245 0.280 0.316 0.352 0.388 0.425 0.463 0.503 0.543 0.586 0.630 0.675 0.723 0.772 0.822 0.875 0.928 0.975"/><feFuncB type="table" tableValues="0.528 0.563 0.590 0.613 0.632 0.646 0.656 0.660 0.658 0.649 0.633 0.611 0.586 0.557 0.528 0.498 0.470 0.441 0.414 0.387 0.360 0.333 0.306 0.279 0.252 0.225 0.198 0.174 0.155 0.144 0.144 0.152 0.131"/><feFuncA type="linear" slope="0" intercept="1"/></feComponentTransfer>
<feColorMatrix in="t1" type="matrix" values="0 0 1 0 0 0 0 1 0 0 0 0 1 0 0 0 0 0 0 1" result="n5"/>
<feComposite in="SourceGraphic" in2="n5" operator="arithmetic" k1="0.0000" k2="1.0000" k3="2.8037" k4="-1.4019" result="v5"/>
<feComponentTransfer in="v5" result="c5"><feFuncR type="table" tableValues="0.050 0.132 0.193 0.248 0.300 0.350 0.399 0.448 0.495 0.541 0.584 0.626 0.665 0.702 0.736 0.768 0.798 0.827 0.853 0.878 0.902 0.923 0.943 0.959 0.973 0.984 0.991 0.994 0.993 0.987 0.974 0.957 0.940"/><feFuncG type="table" tableValues="0.030 0.022 0.018 0.014 0.010 0.004 0.001 0.002 0.012 0.035 0.069 0.103 0.139 0.174 0.209 0.245 0.280 0.316 0.352 0.388 0.425 0.463 0.503 0.543 0.586 0.630 0.675 0.723 0.772 0.822 0.875 0.928 0.975"/><feFuncB type="table" tableValues="0.528 0.563 0.590 0.613 0.632 0.646 0.656 0.660 0.658 0.649 0.633 0.611 0.586 0.557 0.528 0.498 0.470 0.441 0.414 0.387 0.360 0.333 0.306 0.279 0.252 0.225 0.198 0.174 0.155 0.144 0.144 0.152 0.131"/><feFuncA type="linear" slope="0" intercept="1"/></feComponentTransfer>
<feComposite in="c0" in2="c1" operator="arithmetic" k2="0.5" k3="0.5" result="m0"/>
<feComposite in="m0" in2="c2" operator="arithmetic" k2="0.6667" k3="0.3333" result="ma"/>
<feComposite in="c3" in2="c4" operator="arithmetic" k2="0.5" k3="0.5" result="m1"/>
<feComposite in="m1" in2="c5" operator="arithmetic" k2="0.6667" k3="0.3333" result="mb"/>
<feComposite in="ma" in2="mb" operator="arithmetic" k2="0.5" k3="0.5" result="m"/>
<feConvolveMatrix in="m" order="3" kernelMatrix="0.00903 0.07695 0.00903 0.07695 0.65610 0.07695 0.00903 0.07695 0.00903" divisor="1" edgeMode="duplicate" preserveAlpha="true" result="bl"/>

<feComposite in="bl" in2="SourceGraphic" operator="in"/>
</filter>
<g clip-path="url(#cb03)" filter="url(#f03)">
<linearGradient id="g03" gradientUnits="userSpaceOnUse" x1="119.0" y1="0" x2="940.0" y2="0"><stop offset="0" stop-color="rgb(87,87,87)"/><stop offset="0.4" stop-color="rgb(87,87,87)"/><stop offset="0.45" stop-color="rgb(97,97,97)"/><stop offset="0.5" stop-color="rgb(87,87,87)"/><stop offset="0.8" stop-color="rgb(87,87,87)"/><stop offset="0.9" stop-color="rgb(97,97,97)"/><stop offset="1" stop-color="rgb(92,92,92)"/></linearGradient>
<rect x="117.0" y="447.8" width="825.0" height="75.1" fill="url(#g03)"/>
</g>
<clipPath id="cb04"><path d="M119.0,587.40 L221.6,586.59 L324.2,585.77 L426.9,584.96 L529.5,584.15 L632.1,583.34 L734.8,582.52 L837.4,581.71 L940.0,580.90 L940.0,642.80 L837.4,643.66 L734.8,644.52 L632.1,645.39 L529.5,646.25 L426.9,647.11 L324.2,647.98 L221.6,648.84 L119.0,649.70Z"/></clipPath>
<filter id="f04" filterUnits="userSpaceOnUse" x="117.0" y="577.9" width="825.0" height="74.8" color-interpolation-filters="sRGB">
<feTurbulence type="fractalNoise" baseFrequency="2.37 2.71" numOctaves="1" seed="55" result="t0"/>
<feTurbulence type="fractalNoise" baseFrequency="2.53 2.29" numOctaves="1" seed="66" result="t1"/>
<feColorMatrix in="t0" type="matrix" values="1 0 0 0 0 1 0 0 0 0 1 0 0 0 0 0 0 0 0 1" result="n0"/>
<feComposite in="SourceGraphic" in2="n0" operator="arithmetic" k1="0.0000" k2="1.0000" k3="3.0841" k4="-1.5421" result="v0"/>
<feComponentTransfer in="v0" result="c0"><feFuncR type="table" tableValues="0.050 0.132 0.193 0.248 0.300 0.350 0.399 0.448 0.495 0.541 0.584 0.626 0.665 0.702 0.736 0.768 0.798 0.827 0.853 0.878 0.902 0.923 0.943 0.959 0.973 0.984 0.991 0.994 0.993 0.987 0.974 0.957 0.940"/><feFuncG type="table" tableValues="0.030 0.022 0.018 0.014 0.010 0.004 0.001 0.002 0.012 0.035 0.069 0.103 0.139 0.174 0.209 0.245 0.280 0.316 0.352 0.388 0.425 0.463 0.503 0.543 0.586 0.630 0.675 0.723 0.772 0.822 0.875 0.928 0.975"/><feFuncB type="table" tableValues="0.528 0.563 0.590 0.613 0.632 0.646 0.656 0.660 0.658 0.649 0.633 0.611 0.586 0.557 0.528 0.498 0.470 0.441 0.414 0.387 0.360 0.333 0.306 0.279 0.252 0.225 0.198 0.174 0.155 0.144 0.144 0.152 0.131"/><feFuncA type="linear" slope="0" intercept="1"/></feComponentTransfer>
<feColorMatrix in="t0" type="matrix" values="0 1 0 0 0 0 1 0 0 0 0 1 0 0 0 0 0 0 0 1" result="n1"/>
<feComposite in="SourceGraphic" in2="n1" operator="arithmetic" k1="0.0000" k2="1.0000" k3="3.0841" k4="-1.5421" result="v1"/>
<feComponentTransfer in="v1" result="c1"><feFuncR type="table" tableValues="0.050 0.132 0.193 0.248 0.300 0.350 0.399 0.448 0.495 0.541 0.584 0.626 0.665 0.702 0.736 0.768 0.798 0.827 0.853 0.878 0.902 0.923 0.943 0.959 0.973 0.984 0.991 0.994 0.993 0.987 0.974 0.957 0.940"/><feFuncG type="table" tableValues="0.030 0.022 0.018 0.014 0.010 0.004 0.001 0.002 0.012 0.035 0.069 0.103 0.139 0.174 0.209 0.245 0.280 0.316 0.352 0.388 0.425 0.463 0.503 0.543 0.586 0.630 0.675 0.723 0.772 0.822 0.875 0.928 0.975"/><feFuncB type="table" tableValues="0.528 0.563 0.590 0.613 0.632 0.646 0.656 0.660 0.658 0.649 0.633 0.611 0.586 0.557 0.528 0.498 0.470 0.441 0.414 0.387 0.360 0.333 0.306 0.279 0.252 0.225 0.198 0.174 0.155 0.144 0.144 0.152 0.131"/><feFuncA type="linear" slope="0" intercept="1"/></feComponentTransfer>
<feColorMatrix in="t0" type="matrix" values="0 0 1 0 0 0 0 1 0 0 0 0 1 0 0 0 0 0 0 1" result="n2"/>
<feComposite in="SourceGraphic" in2="n2" operator="arithmetic" k1="0.0000" k2="1.0000" k3="3.0841" k4="-1.5421" result="v2"/>
<feComponentTransfer in="v2" result="c2"><feFuncR type="table" tableValues="0.050 0.132 0.193 0.248 0.300 0.350 0.399 0.448 0.495 0.541 0.584 0.626 0.665 0.702 0.736 0.768 0.798 0.827 0.853 0.878 0.902 0.923 0.943 0.959 0.973 0.984 0.991 0.994 0.993 0.987 0.974 0.957 0.940"/><feFuncG type="table" tableValues="0.030 0.022 0.018 0.014 0.010 0.004 0.001 0.002 0.012 0.035 0.069 0.103 0.139 0.174 0.209 0.245 0.280 0.316 0.352 0.388 0.425 0.463 0.503 0.543 0.586 0.630 0.675 0.723 0.772 0.822 0.875 0.928 0.975"/><feFuncB type="table" tableValues="0.528 0.563 0.590 0.613 0.632 0.646 0.656 0.660 0.658 0.649 0.633 0.611 0.586 0.557 0.528 0.498 0.470 0.441 0.414 0.387 0.360 0.333 0.306 0.279 0.252 0.225 0.198 0.174 0.155 0.144 0.144 0.152 0.131"/><feFuncA type="linear" slope="0" intercept="1"/></feComponentTransfer>
<feColorMatrix in="t1" type="matrix" values="1 0 0 0 0 1 0 0 0 0 1 0 0 0 0 0 0 0 0 1" result="n3"/>
<feComposite in="SourceGraphic" in2="n3" operator="arithmetic" k1="0.0000" k2="1.0000" k3="3.0841" k4="-1.5421" result="v3"/>
<feComponentTransfer in="v3" result="c3"><feFuncR type="table" tableValues="0.050 0.132 0.193 0.248 0.300 0.350 0.399 0.448 0.495 0.541 0.584 0.626 0.665 0.702 0.736 0.768 0.798 0.827 0.853 0.878 0.902 0.923 0.943 0.959 0.973 0.984 0.991 0.994 0.993 0.987 0.974 0.957 0.940"/><feFuncG type="table" tableValues="0.030 0.022 0.018 0.014 0.010 0.004 0.001 0.002 0.012 0.035 0.069 0.103 0.139 0.174 0.209 0.245 0.280 0.316 0.352 0.388 0.425 0.463 0.503 0.543 0.586 0.630 0.675 0.723 0.772 0.822 0.875 0.928 0.975"/><feFuncB type="table" tableValues="0.528 0.563 0.590 0.613 0.632 0.646 0.656 0.660 0.658 0.649 0.633 0.611 0.586 0.557 0.528 0.498 0.470 0.441 0.414 0.387 0.360 0.333 0.306 0.279 0.252 0.225 0.198 0.174 0.155 0.144 0.144 0.152 0.131"/><feFuncA type="linear" slope="0" intercept="1"/></feComponentTransfer>
<feColorMatrix in="t1" type="matrix" values="0 1 0 0 0 0 1 0 0 0 0 1 0 0 0 0 0 0 0 1" result="n4"/>
<feComposite in="SourceGraphic" in2="n4" operator="arithmetic" k1="0.0000" k2="1.0000" k3="3.0841" k4="-1.5421" result="v4"/>
<feComponentTransfer in="v4" result="c4"><feFuncR type="table" tableValues="0.050 0.132 0.193 0.248 0.300 0.350 0.399 0.448 0.495 0.541 0.584 0.626 0.665 0.702 0.736 0.768 0.798 0.827 0.853 0.878 0.902 0.923 0.943 0.959 0.973 0.984 0.991 0.994 0.993 0.987 0.974 0.957 0.940"/><feFuncG type="table" tableValues="0.030 0.022 0.018 0.014 0.010 0.004 0.001 0.002 0.012 0.035 0.069 0.103 0.139 0.174 0.209 0.245 0.280 0.316 0.352 0.388 0.425 0.463 0.503 0.543 0.586 0.630 0.675 0.723 0.772 0.822 0.875 0.928 0.975"/><feFuncB type="table" tableValues="0.528 0.563 0.590 0.613 0.632 0.646 0.656 0.660 0.658 0.649 0.633 0.611 0.586 0.557 0.528 0.498 0.470 0.441 0.414 0.387 0.360 0.333 0.306 0.279 0.252 0.225 0.198 0.174 0.155 0.144 0.144 0.152 0.131"/><feFuncA type="linear" slope="0" intercept="1"/></feComponentTransfer>
<feColorMatrix in="t1" type="matrix" values="0 0 1 0 0 0 0 1 0 0 0 0 1 0 0 0 0 0 0 1" result="n5"/>
<feComposite in="SourceGraphic" in2="n5" operator="arithmetic" k1="0.0000" k2="1.0000" k3="3.0841" k4="-1.5421" result="v5"/>
<feComponentTransfer in="v5" result="c5"><feFuncR type="table" tableValues="0.050 0.132 0.193 0.248 0.300 0.350 0.399 0.448 0.495 0.541 0.584 0.626 0.665 0.702 0.736 0.768 0.798 0.827 0.853 0.878 0.902 0.923 0.943 0.959 0.973 0.984 0.991 0.994 0.993 0.987 0.974 0.957 0.940"/><feFuncG type="table" tableValues="0.030 0.022 0.018 0.014 0.010 0.004 0.001 0.002 0.012 0.035 0.069 0.103 0.139 0.174 0.209 0.245 0.280 0.316 0.352 0.388 0.425 0.463 0.503 0.543 0.586 0.630 0.675 0.723 0.772 0.822 0.875 0.928 0.975"/><feFuncB type="table" tableValues="0.528 0.563 0.590 0.613 0.632 0.646 0.656 0.660 0.658 0.649 0.633 0.611 0.586 0.557 0.528 0.498 0.470 0.441 0.414 0.387 0.360 0.333 0.306 0.279 0.252 0.225 0.198 0.174 0.155 0.144 0.144 0.152 0.131"/><feFuncA type="linear" slope="0" intercept="1"/></feComponentTransfer>
<feComposite in="c0" in2="c1" operator="arithmetic" k2="0.5" k3="0.5" result="m0"/>
<feComposite in="m0" in2="c2" operator="arithmetic" k2="0.6667" k3="0.3333" result="ma"/>
<feComposite in="c3" in2="c4" operator="arithmetic" k2="0.5" k3="0.5" result="m1"/>
<feComposite in="m1" in2="c5" operator="arithmetic" k2="0.6667" k3="0.3333" result="mb"/>
<feComposite in="ma" in2="mb" operator="arithmetic" k2="0.5" k3="0.5" result="m"/>
<feConvolveMatrix in="m" order="3" kernelMatrix="0.00903 0.07695 0.00903 0.07695 0.65610 0.07695 0.00903 0.07695 0.00903" divisor="1" edgeMode="duplicate" preserveAlpha="true" result="bl"/>

<feComposite in="bl" in2="SourceGraphic" operator="in"/>
</filter>
<g clip-path="url(#cb04)" filter="url(#f04)">
<linearGradient id="g04" gradientUnits="userSpaceOnUse" x1="119.0" y1="0" x2="940.0" y2="0"><stop offset="0.0" stop-color="rgb(99,99,99)"/><stop offset="0.3666" stop-color="rgb(102,102,102)"/><stop offset="0.4032" stop-color="rgb(115,115,115)"/><stop offset="0.4884" stop-color="rgb(115,115,115)"/><stop offset="0.5371" stop-color="rgb(102,102,102)"/><stop offset="0.6224" stop-color="rgb(102,102,102)"/><stop offset="0.6529" stop-color="rgb(122,122,122)"/><stop offset="0.9391" stop-color="rgb(128,128,128)"/><stop offset="0.9695" stop-color="rgb(112,112,112)"/><stop offset="1.0" stop-color="rgb(107,107,107)"/></linearGradient>
<rect x="117.0" y="577.9" width="825.0" height="74.8" fill="url(#g04)"/>
<linearGradient id="vb04_459" x1="0" y1="0" x2="1" y2="0"><stop offset="0" stop-color="#fff" stop-opacity="0"/><stop offset="0.429" stop-color="#fff" stop-opacity="1"/><stop offset="0.571" stop-color="#fff" stop-opacity="1"/><stop offset="1" stop-color="#fff" stop-opacity="0"/></linearGradient><rect x="456.5" y="576.7" width="14.0" height="78.1" fill="url(#vb04_459)" opacity="0.6"/>
<linearGradient id="vb04_476" x1="0" y1="0" x2="1" y2="0"><stop offset="0" stop-color="#fff" stop-opacity="0"/><stop offset="0.343" stop-color="#fff" stop-opacity="1"/><stop offset="0.657" stop-color="#fff" stop-opacity="1"/><stop offset="1" stop-color="#fff" stop-opacity="0"/></linearGradient><rect x="473.5" y="576.5" width="17.5" height="78.1" fill="url(#vb04_476)" opacity="0.66"/>
<linearGradient id="vb04_501" x1="0" y1="0" x2="1" y2="0"><stop offset="0" stop-color="#fff" stop-opacity="0"/><stop offset="0.387" stop-color="#fff" stop-opacity="1"/><stop offset="0.613" stop-color="#fff" stop-opacity="1"/><stop offset="1" stop-color="#fff" stop-opacity="0"/></linearGradient><rect x="498.5" y="576.3" width="15.5" height="78.1" fill="url(#vb04_501)" opacity="0.62"/>
<linearGradient id="vb04_661" x1="0" y1="0" x2="1" y2="0"><stop offset="0" stop-color="#fff" stop-opacity="0"/><stop offset="0.381" stop-color="#fff" stop-opacity="1"/><stop offset="0.619" stop-color="#fff" stop-opacity="1"/><stop offset="1" stop-color="#fff" stop-opacity="0"/></linearGradient><rect x="657.0" y="575.1" width="21.0" height="78.0" fill="url(#vb04_661)" opacity="0.55"/>
<linearGradient id="vb04_692" x1="0" y1="0" x2="1" y2="0"><stop offset="0" stop-color="#fff" stop-opacity="0"/><stop offset="0.348" stop-color="#fff" stop-opacity="1"/><stop offset="0.652" stop-color="#fff" stop-opacity="1"/><stop offset="1" stop-color="#fff" stop-opacity="0"/></linearGradient><rect x="688.0" y="574.8" width="23.0" height="78.0" fill="url(#vb04_692)" opacity="0.6"/>
<linearGradient id="vb04_857" x1="0" y1="0" x2="1" y2="0"><stop offset="0" stop-color="#fff" stop-opacity="0"/><stop offset="0.343" stop-color="#fff" stop-opacity="1"/><stop offset="0.657" stop-color="#fff" stop-opacity="1"/><stop offset="1" stop-color="#fff" stop-opacity="0"/></linearGradient><rect x="851.0" y="573.5" width="35.0" height="77.9" fill="url(#vb04_857)" opacity="0.5"/>
<linearGradient id="ht04_34_60" gradientUnits="userSpaceOnUse" x1="119.0" y1="0" x2="940.0" y2="0"><stop offset="0.000" stop-color="#fff" stop-opacity="0.300"/><stop offset="0.500" stop-color="#fff" stop-opacity="0.340"/><stop offset="1.000" stop-color="#fff" stop-opacity="0.300"/></linearGradient><path d="M119.0,639.00 L221.6,638.19 L324.2,637.38 L426.9,636.56 L529.5,635.75 L632.1,634.94 L734.8,634.12 L837.4,633.31 L940.0,632.50" fill="none" stroke="url(#ht04_34_60)" stroke-width="9.60" stroke-opacity="0.12"/><path d="M119.0,639.00 L221.6,638.19 L324.2,637.38 L426.9,636.56 L529.5,635.75 L632.1,634.94 L734.8,634.12 L837.4,633.31 L940.0,632.50" fill="none" stroke="url(#ht04_34_60)" stroke-width="6.00" stroke-opacity="0.2"/><path d="M119.0,639.00 L221.6,638.19 L324.2,637.38 L426.9,636.56 L529.5,635.75 L632.1,634.94 L734.8,634.12 L837.4,633.31 L940.0,632.50" fill="none" stroke="url(#ht04_34_60)" stroke-width="3.60" stroke-opacity="0.3"/><path d="M119.0,639.00 L221.6,638.19 L324.2,637.38 L426.9,636.56 L529.5,635.75 L632.1,634.94 L734.8,634.12 L837.4,633.31 L940.0,632.50" fill="none" stroke="url(#ht04_34_60)" stroke-width="2.00" stroke-opacity="0.38"/>
</g>
<clipPath id="cb05"><path d="M119.0,741.60 L221.6,741.12 L324.2,740.65 L426.9,740.17 L529.5,739.70 L632.1,739.23 L734.8,738.75 L837.4,738.27 L940.0,737.80 L940.0,795.60 L837.4,796.10 L734.8,796.60 L632.1,797.10 L529.5,797.60 L426.9,798.10 L324.2,798.60 L221.6,799.10 L119.0,799.60Z"/></clipPath>
<filter id="f05" filterUnits="userSpaceOnUse" x="117.0" y="734.8" width="825.0" height="67.8" color-interpolation-filters="sRGB">
<feTurbulence type="fractalNoise" baseFrequency="2.37 2.71" numOctaves="1" seed="68" result="t0"/>
<feTurbulence type="fractalNoise" baseFrequency="2.53 2.29" numOctaves="1" seed="79" result="t1"/>
<feColorMatrix in="t0" type="matrix" values="1 0 0 0 0 1 0 0 0 0 1 0 0 0 0 0 0 0 0 1" result="n0"/>
<feComposite in="SourceGraphic" in2="n0" operator="arithmetic" k1="0.0000" k2="1.0000" k3="3.5514" k4="-1.7757" result="v0"/>
<feComponentTransfer in="v0" result="c0"><feFuncR type="table" tableValues="0.050 0.132 0.193 0.248 0.300 0.350 0.399 0.448 0.495 0.541 0.584 0.626 0.665 0.702 0.736 0.768 0.798 0.827 0.853 0.878 0.902 0.923 0.943 0.959 0.973 0.984 0.991 0.994 0.993 0.987 0.974 0.957 0.940"/><feFuncG type="table" tableValues="0.030 0.022 0.018 0.014 0.010 0.004 0.001 0.002 0.012 0.035 0.069 0.103 0.139 0.174 0.209 0.245 0.280 0.316 0.352 0.388 0.425 0.463 0.503 0.543 0.586 0.630 0.675 0.723 0.772 0.822 0.875 0.928 0.975"/><feFuncB type="table" tableValues="0.528 0.563 0.590 0.613 0.632 0.646 0.656 0.660 0.658 0.649 0.633 0.611 0.586 0.557 0.528 0.498 0.470 0.441 0.414 0.387 0.360 0.333 0.306 0.279 0.252 0.225 0.198 0.174 0.155 0.144 0.144 0.152 0.131"/><feFuncA type="linear" slope="0" intercept="1"/></feComponentTransfer>
<feColorMatrix in="t0" type="matrix" values="0 1 0 0 0 0 1 0 0 0 0 1 0 0 0 0 0 0 0 1" result="n1"/>
<feComposite in="SourceGraphic" in2="n1" operator="arithmetic" k1="0.0000" k2="1.0000" k3="3.5514" k4="-1.7757" result="v1"/>
<feComponentTransfer in="v1" result="c1"><feFuncR type="table" tableValues="0.050 0.132 0.193 0.248 0.300 0.350 0.399 0.448 0.495 0.541 0.584 0.626 0.665 0.702 0.736 0.768 0.798 0.827 0.853 0.878 0.902 0.923 0.943 0.959 0.973 0.984 0.991 0.994 0.993 0.987 0.974 0.957 0.940"/><feFuncG type="table" tableValues="0.030 0.022 0.018 0.014 0.010 0.004 0.001 0.002 0.012 0.035 0.069 0.103 0.139 0.174 0.209 0.245 0.280 0.316 0.352 0.388 0.425 0.463 0.503 0.543 0.586 0.630 0.675 0.723 0.772 0.822 0.875 0.928 0.975"/><feFuncB type="table" tableValues="0.528 0.563 0.590 0.613 0.632 0.646 0.656 0.660 0.658 0.649 0.633 0.611 0.586 0.557 0.528 0.498 0.470 0.441 0.414 0.387 0.360 0.333 0.306 0.279 0.252 0.225 0.198 0.174 0.155 0.144 0.144 0.152 0.131"/><feFuncA type="linear" slope="0" intercept="1"/></feComponentTransfer>
<feColorMatrix in="t0" type="matrix" values="0 0 1 0 0 0 0 1 0 0 0 0 1 0 0 0 0 0 0 1" result="n2"/>
<feComposite in="SourceGraphic" in2="n2" operator="arithmetic" k1="0.0000" k2="1.0000" k3="3.5514" k4="-1.7757" result="v2"/>
<feComponentTransfer in="v2" result="c2"><feFuncR type="table" tableValues="0.050 0.132 0.193 0.248 0.300 0.350 0.399 0.448 0.495 0.541 0.584 0.626 0.665 0.702 0.736 0.768 0.798 0.827 0.853 0.878 0.902 0.923 0.943 0.959 0.973 0.984 0.991 0.994 0.993 0.987 0.974 0.957 0.940"/><feFuncG type="table" tableValues="0.030 0.022 0.018 0.014 0.010 0.004 0.001 0.002 0.012 0.035 0.069 0.103 0.139 0.174 0.209 0.245 0.280 0.316 0.352 0.388 0.425 0.463 0.503 0.543 0.586 0.630 0.675 0.723 0.772 0.822 0.875 0.928 0.975"/><feFuncB type="table" tableValues="0.528 0.563 0.590 0.613 0.632 0.646 0.656 0.660 0.658 0.649 0.633 0.611 0.586 0.557 0.528 0.498 0.470 0.441 0.414 0.387 0.360 0.333 0.306 0.279 0.252 0.225 0.198 0.174 0.155 0.144 0.144 0.152 0.131"/><feFuncA type="linear" slope="0" intercept="1"/></feComponentTransfer>
<feColorMatrix in="t1" type="matrix" values="1 0 0 0 0 1 0 0 0 0 1 0 0 0 0 0 0 0 0 1" result="n3"/>
<feComposite in="SourceGraphic" in2="n3" operator="arithmetic" k1="0.0000" k2="1.0000" k3="3.5514" k4="-1.7757" result="v3"/>
<feComponentTransfer in="v3" result="c3"><feFuncR type="table" tableValues="0.050 0.132 0.193 0.248 0.300 0.350 0.399 0.448 0.495 0.541 0.584 0.626 0.665 0.702 0.736 0.768 0.798 0.827 0.853 0.878 0.902 0.923 0.943 0.959 0.973 0.984 0.991 0.994 0.993 0.987 0.974 0.957 0.940"/><feFuncG type="table" tableValues="0.030 0.022 0.018 0.014 0.010 0.004 0.001 0.002 0.012 0.035 0.069 0.103 0.139 0.174 0.209 0.245 0.280 0.316 0.352 0.388 0.425 0.463 0.503 0.543 0.586 0.630 0.675 0.723 0.772 0.822 0.875 0.928 0.975"/><feFuncB type="table" tableValues="0.528 0.563 0.590 0.613 0.632 0.646 0.656 0.660 0.658 0.649 0.633 0.611 0.586 0.557 0.528 0.498 0.470 0.441 0.414 0.387 0.360 0.333 0.306 0.279 0.252 0.225 0.198 0.174 0.155 0.144 0.144 0.152 0.131"/><feFuncA type="linear" slope="0" intercept="1"/></feComponentTransfer>
<feColorMatrix in="t1" type="matrix" values="0 1 0 0 0 0 1 0 0 0 0 1 0 0 0 0 0 0 0 1" result="n4"/>
<feComposite in="SourceGraphic" in2="n4" operator="arithmetic" k1="0.0000" k2="1.0000" k3="3.5514" k4="-1.7757" result="v4"/>
<feComponentTransfer in="v4" result="c4"><feFuncR type="table" tableValues="0.050 0.132 0.193 0.248 0.300 0.350 0.399 0.448 0.495 0.541 0.584 0.626 0.665 0.702 0.736 0.768 0.798 0.827 0.853 0.878 0.902 0.923 0.943 0.959 0.973 0.984 0.991 0.994 0.993 0.987 0.974 0.957 0.940"/><feFuncG type="table" tableValues="0.030 0.022 0.018 0.014 0.010 0.004 0.001 0.002 0.012 0.035 0.069 0.103 0.139 0.174 0.209 0.245 0.280 0.316 0.352 0.388 0.425 0.463 0.503 0.543 0.586 0.630 0.675 0.723 0.772 0.822 0.875 0.928 0.975"/><feFuncB type="table" tableValues="0.528 0.563 0.590 0.613 0.632 0.646 0.656 0.660 0.658 0.649 0.633 0.611 0.586 0.557 0.528 0.498 0.470 0.441 0.414 0.387 0.360 0.333 0.306 0.279 0.252 0.225 0.198 0.174 0.155 0.144 0.144 0.152 0.131"/><feFuncA type="linear" slope="0" intercept="1"/></feComponentTransfer>
<feColorMatrix in="t1" type="matrix" values="0 0 1 0 0 0 0 1 0 0 0 0 1 0 0 0 0 0 0 1" result="n5"/>
<feComposite in="SourceGraphic" in2="n5" operator="arithmetic" k1="0.0000" k2="1.0000" k3="3.5514" k4="-1.7757" result="v5"/>
<feComponentTransfer in="v5" result="c5"><feFuncR type="table" tableValues="0.050 0.132 0.193 0.248 0.300 0.350 0.399 0.448 0.495 0.541 0.584 0.626 0.665 0.702 0.736 0.768 0.798 0.827 0.853 0.878 0.902 0.923 0.943 0.959 0.973 0.984 0.991 0.994 0.993 0.987 0.974 0.957 0.940"/><feFuncG type="table" tableValues="0.030 0.022 0.018 0.014 0.010 0.004 0.001 0.002 0.012 0.035 0.069 0.103 0.139 0.174 0.209 0.245 0.280 0.316 0.352 0.388 0.425 0.463 0.503 0.543 0.586 0.630 0.675 0.723 0.772 0.822 0.875 0.928 0.975"/><feFuncB type="table" tableValues="0.528 0.563 0.590 0.613 0.632 0.646 0.656 0.660 0.658 0.649 0.633 0.611 0.586 0.557 0.528 0.498 0.470 0.441 0.414 0.387 0.360 0.333 0.306 0.279 0.252 0.225 0.198 0.174 0.155 0.144 0.144 0.152 0.131"/><feFuncA type="linear" slope="0" intercept="1"/></feComponentTransfer>
<feComposite in="c0" in2="c1" operator="arithmetic" k2="0.5" k3="0.5" result="m0"/>
<feComposite in="m0" in2="c2" operator="arithmetic" k2="0.6667" k3="0.3333" result="ma"/>
<feComposite in="c3" in2="c4" operator="arithmetic" k2="0.5" k3="0.5" result="m1"/>
<feComposite in="m1" in2="c5" operator="arithmetic" k2="0.6667" k3="0.3333" result="mb"/>
<feComposite in="ma" in2="mb" operator="arithmetic" k2="0.5" k3="0.5" result="m"/>
<feConvolveMatrix in="m" order="3" kernelMatrix="0.00903 0.07695 0.00903 0.07695 0.65610 0.07695 0.00903 0.07695 0.00903" divisor="1" edgeMode="duplicate" preserveAlpha="true" result="bl"/>

<feComposite in="bl" in2="SourceGraphic" operator="in"/>
</filter>
<g clip-path="url(#cb05)" filter="url(#f05)">
<linearGradient id="g05" gradientUnits="userSpaceOnUse" x1="119.0" y1="0" x2="940.0" y2="0"><stop offset="0.0" stop-color="rgb(133,133,133)"/><stop offset="0.3423" stop-color="rgb(130,130,130)"/><stop offset="0.5859" stop-color="rgb(130,130,130)"/><stop offset="0.6833" stop-color="rgb(135,135,135)"/><stop offset="0.7564" stop-color="rgb(130,130,130)"/><stop offset="0.8295" stop-color="rgb(112,112,112)"/><stop offset="0.9513" stop-color="rgb(110,110,110)"/><stop offset="0.9817" stop-color="rgb(117,117,117)"/><stop offset="1.0" stop-color="rgb(125,125,125)"/></linearGradient>
<rect x="117.0" y="734.8" width="825.0" height="67.8" fill="url(#g05)"/>
<path d="M119.0,742.20 L221.6,741.73 L324.2,741.25 L426.9,740.77 L529.5,740.30 L632.1,739.83 L734.8,739.35 L837.4,738.88 L940.0,738.40" fill="none" stroke="#000" stroke-width="2.2" stroke-opacity="0.8"/>
</g>
<path d="M118.7,176.30 L221.4,175.14 L324.0,173.98 L426.7,172.81 L529.4,171.65 L632.0,170.49 L734.7,169.32 L837.3,168.16 L940.0,167.00" fill="none" stroke="#000" stroke-width="2.6"/>
<path d="M118.7,176.30 L221.4,175.14 L324.0,173.98 L426.7,172.81 L529.4,171.65 L632.0,170.49 L734.7,169.32 L837.3,168.16 L940.0,167.00" fill="none" stroke="#fff" stroke-width="2.6" stroke-dasharray="10.15 9.85"/>
<path d="M118.7,192.10 L221.4,190.95 L324.0,189.80 L426.7,188.65 L529.4,187.50 L632.0,186.35 L734.7,185.20 L837.3,184.05 L940.0,182.90" fill="none" stroke="#000" stroke-width="2.6"/>
<path d="M118.7,192.10 L221.4,190.95 L324.0,189.80 L426.7,188.65 L529.4,187.50 L632.0,186.35 L734.7,185.20 L837.3,184.05 L940.0,182.90" fill="none" stroke="#fff" stroke-width="2.6" stroke-dasharray="10.15 9.85"/>
<path d="M118.7,212.10 L221.4,210.97 L324.0,209.85 L426.7,208.72 L529.4,207.60 L632.0,206.47 L734.7,205.35 L837.3,204.22 L940.0,203.10" fill="none" stroke="#000" stroke-width="2.6"/>
<path d="M118.7,212.10 L221.4,210.97 L324.0,209.85 L426.7,208.72 L529.4,207.60 L632.0,206.47 L734.7,205.35 L837.3,204.22 L940.0,203.10" fill="none" stroke="#fff" stroke-width="2.6" stroke-dasharray="10.15 9.85"/>
<path d="M118.7,227.80 L221.4,226.68 L324.0,225.55 L426.7,224.43 L529.4,223.30 L632.0,222.18 L734.7,221.05 L837.3,219.93 L940.0,218.80" fill="none" stroke="#000" stroke-width="2.6"/>
<path d="M118.7,227.80 L221.4,226.68 L324.0,225.55 L426.7,224.43 L529.4,223.30 L632.0,222.18 L734.7,221.05 L837.3,219.93 L940.0,218.80" fill="none" stroke="#fff" stroke-width="2.6" stroke-dasharray="10.15 9.85"/>
<path d="M118.7,258.20 L221.4,257.10 L324.0,256.00 L426.7,254.90 L529.4,253.80 L632.0,252.70 L734.7,251.60 L837.3,250.50 L940.0,249.40" fill="none" stroke="#000" stroke-width="2.6"/>
<path d="M118.7,258.20 L221.4,257.10 L324.0,256.00 L426.7,254.90 L529.4,253.80 L632.0,252.70 L734.7,251.60 L837.3,250.50 L940.0,249.40" fill="none" stroke="#fff" stroke-width="2.6" stroke-dasharray="10.15 9.85"/>
<path d="M118.7,274.20 L221.4,273.14 L324.0,272.07 L426.7,271.01 L529.4,269.95 L632.0,268.89 L734.7,267.82 L837.3,266.76 L940.0,265.70" fill="none" stroke="#000" stroke-width="2.6"/>
<path d="M118.7,274.20 L221.4,273.14 L324.0,272.07 L426.7,271.01 L529.4,269.95 L632.0,268.89 L734.7,267.82 L837.3,266.76 L940.0,265.70" fill="none" stroke="#fff" stroke-width="2.6" stroke-dasharray="10.15 9.85"/>
<path d="M118.7,294.40 L221.4,293.35 L324.0,292.30 L426.7,291.25 L529.4,290.20 L632.0,289.15 L734.7,288.10 L837.3,287.05 L940.0,286.00" fill="none" stroke="#000" stroke-width="2.6"/>
<path d="M118.7,294.40 L221.4,293.35 L324.0,292.30 L426.7,291.25 L529.4,290.20 L632.0,289.15 L734.7,288.10 L837.3,287.05 L940.0,286.00" fill="none" stroke="#fff" stroke-width="2.6" stroke-dasharray="10.15 9.85"/>
<path d="M118.7,309.90 L221.4,308.89 L324.0,307.88 L426.7,306.86 L529.4,305.85 L632.0,304.84 L734.7,303.82 L837.3,302.81 L940.0,301.80" fill="none" stroke="#000" stroke-width="2.6"/>
<path d="M118.7,309.90 L221.4,308.89 L324.0,307.88 L426.7,306.86 L529.4,305.85 L632.0,304.84 L734.7,303.82 L837.3,302.81 L940.0,301.80" fill="none" stroke="#fff" stroke-width="2.6" stroke-dasharray="10.15 9.85"/>
<path d="M118.7,352.80 L221.4,351.82 L324.0,350.85 L426.7,349.88 L529.4,348.90 L632.0,347.93 L734.7,346.95 L837.3,345.98 L940.0,345.00" fill="none" stroke="#000" stroke-width="2.6"/>
<path d="M118.7,352.80 L221.4,351.82 L324.0,350.85 L426.7,349.88 L529.4,348.90 L632.0,347.93 L734.7,346.95 L837.3,345.98 L940.0,345.00" fill="none" stroke="#fff" stroke-width="2.6" stroke-dasharray="10.15 9.85"/>
<path d="M118.7,368.80 L221.4,367.82 L324.0,366.85 L426.7,365.88 L529.4,364.90 L632.0,363.93 L734.7,362.95 L837.3,361.98 L940.0,361.00" fill="none" stroke="#000" stroke-width="2.6"/>
<path d="M118.7,368.80 L221.4,367.82 L324.0,366.85 L426.7,365.88 L529.4,364.90 L632.0,363.93 L734.7,362.95 L837.3,361.98 L940.0,361.00" fill="none" stroke="#fff" stroke-width="2.6" stroke-dasharray="10.15 9.85"/>
<path d="M118.7,389.60 L221.4,388.59 L324.0,387.58 L426.7,386.56 L529.4,385.55 L632.0,384.54 L734.7,383.52 L837.3,382.51 L940.0,381.50" fill="none" stroke="#000" stroke-width="2.6"/>
<path d="M118.7,389.60 L221.4,388.59 L324.0,387.58 L426.7,386.56 L529.4,385.55 L632.0,384.54 L734.7,383.52 L837.3,382.51 L940.0,381.50" fill="none" stroke="#fff" stroke-width="2.6" stroke-dasharray="10.15 9.85"/>
<path d="M118.7,405.30 L221.4,404.28 L324.0,403.25 L426.7,402.23 L529.4,401.20 L632.0,400.18 L734.7,399.15 L837.3,398.12 L940.0,397.10" fill="none" stroke="#000" stroke-width="2.6"/>
<path d="M118.7,405.30 L221.4,404.28 L324.0,403.25 L426.7,402.23 L529.4,401.20 L632.0,400.18 L734.7,399.15 L837.3,398.12 L940.0,397.10" fill="none" stroke="#fff" stroke-width="2.6" stroke-dasharray="10.15 9.85"/>
<path d="M118.7,462.80 L221.4,461.86 L324.0,460.93 L426.7,459.99 L529.4,459.05 L632.0,458.11 L734.7,457.18 L837.3,456.24 L940.0,455.30" fill="none" stroke="#000" stroke-width="2.6"/>
<path d="M118.7,462.80 L221.4,461.86 L324.0,460.93 L426.7,459.99 L529.4,459.05 L632.0,458.11 L734.7,457.18 L837.3,456.24 L940.0,455.30" fill="none" stroke="#fff" stroke-width="2.6" stroke-dasharray="10.15 9.85"/>
<path d="M118.7,479.10 L221.4,478.16 L324.0,477.23 L426.7,476.29 L529.4,475.35 L632.0,474.41 L734.7,473.48 L837.3,472.54 L940.0,471.60" fill="none" stroke="#000" stroke-width="2.6"/>
<path d="M118.7,479.10 L221.4,478.16 L324.0,477.23 L426.7,476.29 L529.4,475.35 L632.0,474.41 L734.7,473.48 L837.3,472.54 L940.0,471.60" fill="none" stroke="#fff" stroke-width="2.6" stroke-dasharray="10.15 9.85"/>
<path d="M118.7,500.00 L221.4,499.06 L324.0,498.12 L426.7,497.19 L529.4,496.25 L632.0,495.31 L734.7,494.38 L837.3,493.44 L940.0,492.50" fill="none" stroke="#000" stroke-width="2.6"/>
<path d="M118.7,500.00 L221.4,499.06 L324.0,498.12 L426.7,497.19 L529.4,496.25 L632.0,495.31 L734.7,494.38 L837.3,493.44 L940.0,492.50" fill="none" stroke="#fff" stroke-width="2.6" stroke-dasharray="10.15 9.85"/>
<path d="M118.7,516.00 L221.4,515.06 L324.0,514.12 L426.7,513.19 L529.4,512.25 L632.0,511.31 L734.7,510.38 L837.3,509.44 L940.0,508.50" fill="none" stroke="#000" stroke-width="2.6"/>
<path d="M118.7,516.00 L221.4,515.06 L324.0,514.12 L426.7,513.19 L529.4,512.25 L632.0,511.31 L734.7,510.38 L837.3,509.44 L940.0,508.50" fill="none" stroke="#fff" stroke-width="2.6" stroke-dasharray="10.15 9.85"/>
<path d="M118.7,592.30 L221.4,591.52 L324.0,590.75 L426.7,589.98 L529.4,589.20 L632.0,588.42 L734.7,587.65 L837.3,586.88 L940.0,586.10" fill="none" stroke="#000" stroke-width="2.6"/>
<path d="M118.7,592.30 L221.4,591.52 L324.0,590.75 L426.7,589.98 L529.4,589.20 L632.0,588.42 L734.7,587.65 L837.3,586.88 L940.0,586.10" fill="none" stroke="#fff" stroke-width="2.6" stroke-dasharray="10.15 9.85"/>
<path d="M118.7,608.60 L221.4,607.77 L324.0,606.95 L426.7,606.12 L529.4,605.30 L632.0,604.48 L734.7,603.65 L837.3,602.83 L940.0,602.00" fill="none" stroke="#000" stroke-width="2.6"/>
<path d="M118.7,608.60 L221.4,607.77 L324.0,606.95 L426.7,606.12 L529.4,605.30 L632.0,604.48 L734.7,603.65 L837.3,602.83 L940.0,602.00" fill="none" stroke="#fff" stroke-width="2.6" stroke-dasharray="10.15 9.85"/>
<path d="M118.7,629.40 L221.4,628.59 L324.0,627.77 L426.7,626.96 L529.4,626.15 L632.0,625.34 L734.7,624.52 L837.3,623.71 L940.0,622.90" fill="none" stroke="#000" stroke-width="2.6"/>
<path d="M118.7,629.40 L221.4,628.59 L324.0,627.77 L426.7,626.96 L529.4,626.15 L632.0,625.34 L734.7,624.52 L837.3,623.71 L940.0,622.90" fill="none" stroke="#fff" stroke-width="2.6" stroke-dasharray="10.15 9.85"/>
<path d="M118.7,645.40 L221.4,644.59 L324.0,643.77 L426.7,642.96 L529.4,642.15 L632.0,641.34 L734.7,640.52 L837.3,639.71 L940.0,638.90" fill="none" stroke="#000" stroke-width="2.6"/>
<path d="M118.7,645.40 L221.4,644.59 L324.0,643.77 L426.7,642.96 L529.4,642.15 L632.0,641.34 L734.7,640.52 L837.3,639.71 L940.0,638.90" fill="none" stroke="#fff" stroke-width="2.6" stroke-dasharray="10.15 9.85"/>
<path d="M118.7,747.10 L221.4,746.61 L324.0,746.12 L426.7,745.64 L529.4,745.15 L632.0,744.66 L734.7,744.18 L837.3,743.69 L940.0,743.20" fill="none" stroke="#000" stroke-width="2.6"/>
<path d="M118.7,747.10 L221.4,746.61 L324.0,746.12 L426.7,745.64 L529.4,745.15 L632.0,744.66 L734.7,744.18 L837.3,743.69 L940.0,743.20" fill="none" stroke="#fff" stroke-width="2.6" stroke-dasharray="10.15 9.85"/>
<path d="M118.7,762.80 L221.4,762.26 L324.0,761.72 L426.7,761.19 L529.4,760.65 L632.0,760.11 L734.7,759.58 L837.3,759.04 L940.0,758.50" fill="none" stroke="#000" stroke-width="2.6"/>
<path d="M118.7,762.80 L221.4,762.26 L324.0,761.72 L426.7,761.19 L529.4,760.65 L632.0,760.11 L734.7,759.58 L837.3,759.04 L940.0,758.50" fill="none" stroke="#fff" stroke-width="2.6" stroke-dasharray="10.15 9.85"/>
<path d="M118.7,783.60 L221.4,783.08 L324.0,782.55 L426.7,782.02 L529.4,781.50 L632.0,780.98 L734.7,780.45 L837.3,779.92 L940.0,779.40" fill="none" stroke="#000" stroke-width="2.6"/>
<path d="M118.7,783.60 L221.4,783.08 L324.0,782.55 L426.7,782.02 L529.4,781.50 L632.0,780.98 L734.7,780.45 L837.3,779.92 L940.0,779.40" fill="none" stroke="#fff" stroke-width="2.6" stroke-dasharray="10.15 9.85"/>
<path d="M118.7,799.10 L221.4,798.60 L324.0,798.10 L426.7,797.60 L529.4,797.10 L632.0,796.60 L734.7,796.10 L837.3,795.60 L940.0,795.10" fill="none" stroke="#000" stroke-width="2.6"/>
<path d="M118.7,799.10 L221.4,798.60 L324.0,798.10 L426.7,797.60 L529.4,797.10 L632.0,796.60 L734.7,796.10 L837.3,795.60 L940.0,795.10" fill="none" stroke="#fff" stroke-width="2.6" stroke-dasharray="10.15 9.85"/>
</g>
<g clip-path="url(#ca1)">
<clipPath id="cb10"><path d="M982.0,162.40 L1084.6,161.18 L1187.2,159.95 L1289.9,158.72 L1392.5,157.50 L1495.1,156.28 L1597.8,155.05 L1700.4,153.82 L1803.0,152.60 L1803.0,212.60 L1700.4,213.82 L1597.8,215.05 L1495.1,216.28 L1392.5,217.50 L1289.9,218.72 L1187.2,219.95 L1084.6,221.18 L982.0,222.40Z"/></clipPath>
<filter id="f10" filterUnits="userSpaceOnUse" x="980.0" y="149.6" width="825.0" height="75.8" color-interpolation-filters="sRGB">
<feTurbulence type="fractalNoise" baseFrequency="2.37 2.71" numOctaves="1" seed="10" result="t0"/>
<feTurbulence type="fractalNoise" baseFrequency="2.53 2.29" numOctaves="1" seed="21" result="t1"/>
<feColorMatrix in="t0" type="matrix" values="1 0 0 0 0 1 0 0 0 0 1 0 0 0 0 0 0 0 0 1" result="n0"/>
<feComposite in="SourceGraphic" in2="n0" operator="arithmetic" k1="2.3364" k2="-0.1682" k3="0.2056" k4="-0.1028" result="v0"/>
<feComponentTransfer in="v0" result="c0"><feFuncR type="table" tableValues="0.050 0.132 0.193 0.248 0.300 0.350 0.399 0.448 0.495 0.541 0.584 0.626 0.665 0.702 0.736 0.768 0.798 0.827 0.853 0.878 0.902 0.923 0.943 0.959 0.973 0.984 0.991 0.994 0.993 0.987 0.974 0.957 0.940"/><feFuncG type="table" tableValues="0.030 0.022 0.018 0.014 0.010 0.004 0.001 0.002 0.012 0.035 0.069 0.103 0.139 0.174 0.209 0.245 0.280 0.316 0.352 0.388 0.425 0.463 0.503 0.543 0.586 0.630 0.675 0.723 0.772 0.822 0.875 0.928 0.975"/><feFuncB type="table" tableValues="0.528 0.563 0.590 0.613 0.632 0.646 0.656 0.660 0.658 0.649 0.633 0.611 0.586 0.557 0.528 0.498 0.470 0.441 0.414 0.387 0.360 0.333 0.306 0.279 0.252 0.225 0.198 0.174 0.155 0.144 0.144 0.152 0.131"/><feFuncA type="linear" slope="0" intercept="1"/></feComponentTransfer>
<feColorMatrix in="t0" type="matrix" values="0 1 0 0 0 0 1 0 0 0 0 1 0 0 0 0 0 0 0 1" result="n1"/>
<feComposite in="SourceGraphic" in2="n1" operator="arithmetic" k1="2.3364" k2="-0.1682" k3="0.2056" k4="-0.1028" result="v1"/>
<feComponentTransfer in="v1" result="c1"><feFuncR type="table" tableValues="0.050 0.132 0.193 0.248 0.300 0.350 0.399 0.448 0.495 0.541 0.584 0.626 0.665 0.702 0.736 0.768 0.798 0.827 0.853 0.878 0.902 0.923 0.943 0.959 0.973 0.984 0.991 0.994 0.993 0.987 0.974 0.957 0.940"/><feFuncG type="table" tableValues="0.030 0.022 0.018 0.014 0.010 0.004 0.001 0.002 0.012 0.035 0.069 0.103 0.139 0.174 0.209 0.245 0.280 0.316 0.352 0.388 0.425 0.463 0.503 0.543 0.586 0.630 0.675 0.723 0.772 0.822 0.875 0.928 0.975"/><feFuncB type="table" tableValues="0.528 0.563 0.590 0.613 0.632 0.646 0.656 0.660 0.658 0.649 0.633 0.611 0.586 0.557 0.528 0.498 0.470 0.441 0.414 0.387 0.360 0.333 0.306 0.279 0.252 0.225 0.198 0.174 0.155 0.144 0.144 0.152 0.131"/><feFuncA type="linear" slope="0" intercept="1"/></feComponentTransfer>
<feColorMatrix in="t0" type="matrix" values="0 0 1 0 0 0 0 1 0 0 0 0 1 0 0 0 0 0 0 1" result="n2"/>
<feComposite in="SourceGraphic" in2="n2" operator="arithmetic" k1="2.3364" k2="-0.1682" k3="0.2056" k4="-0.1028" result="v2"/>
<feComponentTransfer in="v2" result="c2"><feFuncR type="table" tableValues="0.050 0.132 0.193 0.248 0.300 0.350 0.399 0.448 0.495 0.541 0.584 0.626 0.665 0.702 0.736 0.768 0.798 0.827 0.853 0.878 0.902 0.923 0.943 0.959 0.973 0.984 0.991 0.994 0.993 0.987 0.974 0.957 0.940"/><feFuncG type="table" tableValues="0.030 0.022 0.018 0.014 0.010 0.004 0.001 0.002 0.012 0.035 0.069 0.103 0.139 0.174 0.209 0.245 0.280 0.316 0.352 0.388 0.425 0.463 0.503 0.543 0.586 0.630 0.675 0.723 0.772 0.822 0.875 0.928 0.975"/><feFuncB type="table" tableValues="0.528 0.563 0.590 0.613 0.632 0.646 0.656 0.660 0.658 0.649 0.633 0.611 0.586 0.557 0.528 0.498 0.470 0.441 0.414 0.387 0.360 0.333 0.306 0.279 0.252 0.225 0.198 0.174 0.155 0.144 0.144 0.152 0.131"/><feFuncA type="linear" slope="0" intercept="1"/></feComponentTransfer>
<feColorMatrix in="t1" type="matrix" values="1 0 0 0 0 1 0 0 0 0 1 0 0 0 0 0 0 0 0 1" result="n3"/>
<feComposite in="SourceGraphic" in2="n3" operator="arithmetic" k1="2.3364" k2="-0.1682" k3="0.2056" k4="-0.1028" result="v3"/>
<feComponentTransfer in="v3" result="c3"><feFuncR type="table" tableValues="0.050 0.132 0.193 0.248 0.300 0.350 0.399 0.448 0.495 0.541 0.584 0.626 0.665 0.702 0.736 0.768 0.798 0.827 0.853 0.878 0.902 0.923 0.943 0.959 0.973 0.984 0.991 0.994 0.993 0.987 0.974 0.957 0.940"/><feFuncG type="table" tableValues="0.030 0.022 0.018 0.014 0.010 0.004 0.001 0.002 0.012 0.035 0.069 0.103 0.139 0.174 0.209 0.245 0.280 0.316 0.352 0.388 0.425 0.463 0.503 0.543 0.586 0.630 0.675 0.723 0.772 0.822 0.875 0.928 0.975"/><feFuncB type="table" tableValues="0.528 0.563 0.590 0.613 0.632 0.646 0.656 0.660 0.658 0.649 0.633 0.611 0.586 0.557 0.528 0.498 0.470 0.441 0.414 0.387 0.360 0.333 0.306 0.279 0.252 0.225 0.198 0.174 0.155 0.144 0.144 0.152 0.131"/><feFuncA type="linear" slope="0" intercept="1"/></feComponentTransfer>
<feColorMatrix in="t1" type="matrix" values="0 1 0 0 0 0 1 0 0 0 0 1 0 0 0 0 0 0 0 1" result="n4"/>
<feComposite in="SourceGraphic" in2="n4" operator="arithmetic" k1="2.3364" k2="-0.1682" k3="0.2056" k4="-0.1028" result="v4"/>
<feComponentTransfer in="v4" result="c4"><feFuncR type="table" tableValues="0.050 0.132 0.193 0.248 0.300 0.350 0.399 0.448 0.495 0.541 0.584 0.626 0.665 0.702 0.736 0.768 0.798 0.827 0.853 0.878 0.902 0.923 0.943 0.959 0.973 0.984 0.991 0.994 0.993 0.987 0.974 0.957 0.940"/><feFuncG type="table" tableValues="0.030 0.022 0.018 0.014 0.010 0.004 0.001 0.002 0.012 0.035 0.069 0.103 0.139 0.174 0.209 0.245 0.280 0.316 0.352 0.388 0.425 0.463 0.503 0.543 0.586 0.630 0.675 0.723 0.772 0.822 0.875 0.928 0.975"/><feFuncB type="table" tableValues="0.528 0.563 0.590 0.613 0.632 0.646 0.656 0.660 0.658 0.649 0.633 0.611 0.586 0.557 0.528 0.498 0.470 0.441 0.414 0.387 0.360 0.333 0.306 0.279 0.252 0.225 0.198 0.174 0.155 0.144 0.144 0.152 0.131"/><feFuncA type="linear" slope="0" intercept="1"/></feComponentTransfer>
<feColorMatrix in="t1" type="matrix" values="0 0 1 0 0 0 0 1 0 0 0 0 1 0 0 0 0 0 0 1" result="n5"/>
<feComposite in="SourceGraphic" in2="n5" operator="arithmetic" k1="2.3364" k2="-0.1682" k3="0.2056" k4="-0.1028" result="v5"/>
<feComponentTransfer in="v5" result="c5"><feFuncR type="table" tableValues="0.050 0.132 0.193 0.248 0.300 0.350 0.399 0.448 0.495 0.541 0.584 0.626 0.665 0.702 0.736 0.768 0.798 0.827 0.853 0.878 0.902 0.923 0.943 0.959 0.973 0.984 0.991 0.994 0.993 0.987 0.974 0.957 0.940"/><feFuncG type="table" tableValues="0.030 0.022 0.018 0.014 0.010 0.004 0.001 0.002 0.012 0.035 0.069 0.103 0.139 0.174 0.209 0.245 0.280 0.316 0.352 0.388 0.425 0.463 0.503 0.543 0.586 0.630 0.675 0.723 0.772 0.822 0.875 0.928 0.975"/><feFuncB type="table" tableValues="0.528 0.563 0.590 0.613 0.632 0.646 0.656 0.660 0.658 0.649 0.633 0.611 0.586 0.557 0.528 0.498 0.470 0.441 0.414 0.387 0.360 0.333 0.306 0.279 0.252 0.225 0.198 0.174 0.155 0.144 0.144 0.152 0.131"/><feFuncA type="linear" slope="0" intercept="1"/></feComponentTransfer>
<feComposite in="c0" in2="c1" operator="arithmetic" k2="0.5" k3="0.5" result="m0"/>
<feComposite in="m0" in2="c2" operator="arithmetic" k2="0.6667" k3="0.3333" result="ma"/>
<feComposite in="c3" in2="c4" operator="arithmetic" k2="0.5" k3="0.5" result="m1"/>
<feComposite in="m1" in2="c5" operator="arithmetic" k2="0.6667" k3="0.3333" result="mb"/>
<feComposite in="ma" in2="mb" operator="arithmetic" k2="0.5" k3="0.5" result="m"/>
<feConvolveMatrix in="m" order="3" kernelMatrix="0.00903 0.07695 0.00903 0.07695 0.65610 0.07695 0.00903 0.07695 0.00903" divisor="1" edgeMode="duplicate" preserveAlpha="true" result="bl"/>

<feComposite in="bl" in2="SourceGraphic" operator="in"/>
</filter>
<g clip-path="url(#cb10)" filter="url(#f10)">
<linearGradient id="g10" gradientUnits="userSpaceOnUse" x1="982.0" y1="0" x2="1803.0" y2="0"><stop offset="0" stop-color="rgb(24,24,24)"/><stop offset="1" stop-color="rgb(24,24,24)"/></linearGradient>
<rect x="980.0" y="149.6" width="825.0" height="75.8" fill="url(#g10)"/>
<linearGradient id="ht10_12_50" gradientUnits="userSpaceOnUse" x1="982.0" y1="0" x2="1803.0" y2="0"><stop offset="0.000" stop-color="#fff" stop-opacity="0.250"/><stop offset="0.430" stop-color="#fff" stop-opacity="0.260"/><stop offset="0.440" stop-color="#fff" stop-opacity="0.120"/><stop offset="0.450" stop-color="#fff" stop-opacity="0.260"/><stop offset="1.000" stop-color="#fff" stop-opacity="0.270"/></linearGradient><path d="M982.0,174.95 L1084.6,173.68 L1187.2,172.41 L1289.9,171.14 L1392.5,169.88 L1495.1,168.61 L1597.8,167.34 L1700.4,166.07 L1803.0,164.80" fill="none" stroke="url(#ht10_12_50)" stroke-width="6.72" stroke-opacity="0.12"/><path d="M982.0,174.95 L1084.6,173.68 L1187.2,172.41 L1289.9,171.14 L1392.5,169.88 L1495.1,168.61 L1597.8,167.34 L1700.4,166.07 L1803.0,164.80" fill="none" stroke="url(#ht10_12_50)" stroke-width="4.20" stroke-opacity="0.2"/><path d="M982.0,174.95 L1084.6,173.68 L1187.2,172.41 L1289.9,171.14 L1392.5,169.88 L1495.1,168.61 L1597.8,167.34 L1700.4,166.07 L1803.0,164.80" fill="none" stroke="url(#ht10_12_50)" stroke-width="2.52" stroke-opacity="0.3"/><path d="M982.0,174.95 L1084.6,173.68 L1187.2,172.41 L1289.9,171.14 L1392.5,169.88 L1495.1,168.61 L1597.8,167.34 L1700.4,166.07 L1803.0,164.80" fill="none" stroke="url(#ht10_12_50)" stroke-width="1.40" stroke-opacity="0.38"/>
<linearGradient id="ht10_34_50" gradientUnits="userSpaceOnUse" x1="982.0" y1="0" x2="1803.0" y2="0"><stop offset="0.000" stop-color="#fff" stop-opacity="0.250"/><stop offset="0.430" stop-color="#fff" stop-opacity="0.260"/><stop offset="0.440" stop-color="#fff" stop-opacity="0.120"/><stop offset="0.450" stop-color="#fff" stop-opacity="0.260"/><stop offset="1.000" stop-color="#fff" stop-opacity="0.270"/></linearGradient><path d="M982.0,210.95 L1084.6,209.71 L1187.2,208.46 L1289.9,207.22 L1392.5,205.98 L1495.1,204.73 L1597.8,203.49 L1700.4,202.24 L1803.0,201.00" fill="none" stroke="url(#ht10_34_50)" stroke-width="6.72" stroke-opacity="0.12"/><path d="M982.0,210.95 L1084.6,209.71 L1187.2,208.46 L1289.9,207.22 L1392.5,205.98 L1495.1,204.73 L1597.8,203.49 L1700.4,202.24 L1803.0,201.00" fill="none" stroke="url(#ht10_34_50)" stroke-width="4.20" stroke-opacity="0.2"/><path d="M982.0,210.95 L1084.6,209.71 L1187.2,208.46 L1289.9,207.22 L1392.5,205.98 L1495.1,204.73 L1597.8,203.49 L1700.4,202.24 L1803.0,201.00" fill="none" stroke="url(#ht10_34_50)" stroke-width="2.52" stroke-opacity="0.3"/><path d="M982.0,210.95 L1084.6,209.71 L1187.2,208.46 L1289.9,207.22 L1392.5,205.98 L1495.1,204.73 L1597.8,203.49 L1700.4,202.24 L1803.0,201.00" fill="none" stroke="url(#ht10_34_50)" stroke-width="1.40" stroke-opacity="0.38"/>
<path d="M982.0,163.40 L1084.6,162.18 L1187.2,160.95 L1289.9,159.72 L1392.5,158.50 L1495.1,157.28 L1597.8,156.05 L1700.4,154.82 L1803.0,153.60" fill="none" stroke="#000" stroke-width="3.0" stroke-opacity="0.45"/>
</g>
<clipPath id="cb11"><path d="M982.0,245.20 L1084.6,243.97 L1187.2,242.75 L1289.9,241.53 L1392.5,240.30 L1495.1,239.07 L1597.8,237.85 L1700.4,236.62 L1803.0,235.40 L1803.0,296.10 L1700.4,297.28 L1597.8,298.45 L1495.1,299.62 L1392.5,300.80 L1289.9,301.98 L1187.2,303.15 L1084.6,304.32 L982.0,305.50Z"/></clipPath>
<filter id="f11" filterUnits="userSpaceOnUse" x="980.0" y="232.4" width="825.0" height="76.1" color-interpolation-filters="sRGB">
<feTurbulence type="fractalNoise" baseFrequency="2.37 2.71" numOctaves="1" seed="23" result="t0"/>
<feTurbulence type="fractalNoise" baseFrequency="2.53 2.29" numOctaves="1" seed="34" result="t1"/>
<feColorMatrix in="t0" type="matrix" values="1 0 0 0 0 1 0 0 0 0 1 0 0 0 0 0 0 0 0 1" result="n0"/>
<feComposite in="SourceGraphic" in2="n0" operator="arithmetic" k1="2.3364" k2="-0.1682" k3="0.2617" k4="-0.1308" result="v0"/>
<feComponentTransfer in="v0" result="c0"><feFuncR type="table" tableValues="0.050 0.132 0.193 0.248 0.300 0.350 0.399 0.448 0.495 0.541 0.584 0.626 0.665 0.702 0.736 0.768 0.798 0.827 0.853 0.878 0.902 0.923 0.943 0.959 0.973 0.984 0.991 0.994 0.993 0.987 0.974 0.957 0.940"/><feFuncG type="table" tableValues="0.030 0.022 0.018 0.014 0.010 0.004 0.001 0.002 0.012 0.035 0.069 0.103 0.139 0.174 0.209 0.245 0.280 0.316 0.352 0.388 0.425 0.463 0.503 0.543 0.586 0.630 0.675 0.723 0.772 0.822 0.875 0.928 0.975"/><feFuncB type="table" tableValues="0.528 0.563 0.590 0.613 0.632 0.646 0.656 0.660 0.658 0.649 0.633 0.611 0.586 0.557 0.528 0.498 0.470 0.441 0.414 0.387 0.360 0.333 0.306 0.279 0.252 0.225 0.198 0.174 0.155 0.144 0.144 0.152 0.131"/><feFuncA type="linear" slope="0" intercept="1"/></feComponentTransfer>
<feColorMatrix in="t0" type="matrix" values="0 1 0 0 0 0 1 0 0 0 0 1 0 0 0 0 0 0 0 1" result="n1"/>
<feComposite in="SourceGraphic" in2="n1" operator="arithmetic" k1="2.3364" k2="-0.1682" k3="0.2617" k4="-0.1308" result="v1"/>
<feComponentTransfer in="v1" result="c1"><feFuncR type="table" tableValues="0.050 0.132 0.193 0.248 0.300 0.350 0.399 0.448 0.495 0.541 0.584 0.626 0.665 0.702 0.736 0.768 0.798 0.827 0.853 0.878 0.902 0.923 0.943 0.959 0.973 0.984 0.991 0.994 0.993 0.987 0.974 0.957 0.940"/><feFuncG type="table" tableValues="0.030 0.022 0.018 0.014 0.010 0.004 0.001 0.002 0.012 0.035 0.069 0.103 0.139 0.174 0.209 0.245 0.280 0.316 0.352 0.388 0.425 0.463 0.503 0.543 0.586 0.630 0.675 0.723 0.772 0.822 0.875 0.928 0.975"/><feFuncB type="table" tableValues="0.528 0.563 0.590 0.613 0.632 0.646 0.656 0.660 0.658 0.649 0.633 0.611 0.586 0.557 0.528 0.498 0.470 0.441 0.414 0.387 0.360 0.333 0.306 0.279 0.252 0.225 0.198 0.174 0.155 0.144 0.144 0.152 0.131"/><feFuncA type="linear" slope="0" intercept="1"/></feComponentTransfer>
<feColorMatrix in="t0" type="matrix" values="0 0 1 0 0 0 0 1 0 0 0 0 1 0 0 0 0 0 0 1" result="n2"/>
<feComposite in="SourceGraphic" in2="n2" operator="arithmetic" k1="2.3364" k2="-0.1682" k3="0.2617" k4="-0.1308" result="v2"/>
<feComponentTransfer in="v2" result="c2"><feFuncR type="table" tableValues="0.050 0.132 0.193 0.248 0.300 0.350 0.399 0.448 0.495 0.541 0.584 0.626 0.665 0.702 0.736 0.768 0.798 0.827 0.853 0.878 0.902 0.923 0.943 0.959 0.973 0.984 0.991 0.994 0.993 0.987 0.974 0.957 0.940"/><feFuncG type="table" tableValues="0.030 0.022 0.018 0.014 0.010 0.004 0.001 0.002 0.012 0.035 0.069 0.103 0.139 0.174 0.209 0.245 0.280 0.316 0.352 0.388 0.425 0.463 0.503 0.543 0.586 0.630 0.675 0.723 0.772 0.822 0.875 0.928 0.975"/><feFuncB type="table" tableValues="0.528 0.563 0.590 0.613 0.632 0.646 0.656 0.660 0.658 0.649 0.633 0.611 0.586 0.557 0.528 0.498 0.470 0.441 0.414 0.387 0.360 0.333 0.306 0.279 0.252 0.225 0.198 0.174 0.155 0.144 0.144 0.152 0.131"/><feFuncA type="linear" slope="0" intercept="1"/></feComponentTransfer>
<feColorMatrix in="t1" type="matrix" values="1 0 0 0 0 1 0 0 0 0 1 0 0 0 0 0 0 0 0 1" result="n3"/>
<feComposite in="SourceGraphic" in2="n3" operator="arithmetic" k1="2.3364" k2="-0.1682" k3="0.2617" k4="-0.1308" result="v3"/>
<feComponentTransfer in="v3" result="c3"><feFuncR type="table" tableValues="0.050 0.132 0.193 0.248 0.300 0.350 0.399 0.448 0.495 0.541 0.584 0.626 0.665 0.702 0.736 0.768 0.798 0.827 0.853 0.878 0.902 0.923 0.943 0.959 0.973 0.984 0.991 0.994 0.993 0.987 0.974 0.957 0.940"/><feFuncG type="table" tableValues="0.030 0.022 0.018 0.014 0.010 0.004 0.001 0.002 0.012 0.035 0.069 0.103 0.139 0.174 0.209 0.245 0.280 0.316 0.352 0.388 0.425 0.463 0.503 0.543 0.586 0.630 0.675 0.723 0.772 0.822 0.875 0.928 0.975"/><feFuncB type="table" tableValues="0.528 0.563 0.590 0.613 0.632 0.646 0.656 0.660 0.658 0.649 0.633 0.611 0.586 0.557 0.528 0.498 0.470 0.441 0.414 0.387 0.360 0.333 0.306 0.279 0.252 0.225 0.198 0.174 0.155 0.144 0.144 0.152 0.131"/><feFuncA type="linear" slope="0" intercept="1"/></feComponentTransfer>
<feColorMatrix in="t1" type="matrix" values="0 1 0 0 0 0 1 0 0 0 0 1 0 0 0 0 0 0 0 1" result="n4"/>
<feComposite in="SourceGraphic" in2="n4" operator="arithmetic" k1="2.3364" k2="-0.1682" k3="0.2617" k4="-0.1308" result="v4"/>
<feComponentTransfer in="v4" result="c4"><feFuncR type="table" tableValues="0.050 0.132 0.193 0.248 0.300 0.350 0.399 0.448 0.495 0.541 0.584 0.626 0.665 0.702 0.736 0.768 0.798 0.827 0.853 0.878 0.902 0.923 0.943 0.959 0.973 0.984 0.991 0.994 0.993 0.987 0.974 0.957 0.940"/><feFuncG type="table" tableValues="0.030 0.022 0.018 0.014 0.010 0.004 0.001 0.002 0.012 0.035 0.069 0.103 0.139 0.174 0.209 0.245 0.280 0.316 0.352 0.388 0.425 0.463 0.503 0.543 0.586 0.630 0.675 0.723 0.772 0.822 0.875 0.928 0.975"/><feFuncB type="table" tableValues="0.528 0.563 0.590 0.613 0.632 0.646 0.656 0.660 0.658 0.649 0.633 0.611 0.586 0.557 0.528 0.498 0.470 0.441 0.414 0.387 0.360 0.333 0.306 0.279 0.252 0.225 0.198 0.174 0.155 0.144 0.144 0.152 0.131"/><feFuncA type="linear" slope="0" intercept="1"/></feComponentTransfer>
<feColorMatrix in="t1" type="matrix" values="0 0 1 0 0 0 0 1 0 0 0 0 1 0 0 0 0 0 0 1" result="n5"/>
<feComposite in="SourceGraphic" in2="n5" operator="arithmetic" k1="2.3364" k2="-0.1682" k3="0.2617" k4="-0.1308" result="v5"/>
<feComponentTransfer in="v5" result="c5"><feFuncR type="table" tableValues="0.050 0.132 0.193 0.248 0.300 0.350 0.399 0.448 0.495 0.541 0.584 0.626 0.665 0.702 0.736 0.768 0.798 0.827 0.853 0.878 0.902 0.923 0.943 0.959 0.973 0.984 0.991 0.994 0.993 0.987 0.974 0.957 0.940"/><feFuncG type="table" tableValues="0.030 0.022 0.018 0.014 0.010 0.004 0.001 0.002 0.012 0.035 0.069 0.103 0.139 0.174 0.209 0.245 0.280 0.316 0.352 0.388 0.425 0.463 0.503 0.543 0.586 0.630 0.675 0.723 0.772 0.822 0.875 0.928 0.975"/><feFuncB type="table" tableValues="0.528 0.563 0.590 0.613 0.632 0.646 0.656 0.660 0.658 0.649 0.633 0.611 0.586 0.557 0.528 0.498 0.470 0.441 0.414 0.387 0.360 0.333 0.306 0.279 0.252 0.225 0.198 0.174 0.155 0.144 0.144 0.152 0.131"/><feFuncA type="linear" slope="0" intercept="1"/></feComponentTransfer>
<feComposite in="c0" in2="c1" operator="arithmetic" k2="0.5" k3="0.5" result="m0"/>
<feComposite in="m0" in2="c2" operator="arithmetic" k2="0.6667" k3="0.3333" result="ma"/>
<feComposite in="c3" in2="c4" operator="arithmetic" k2="0.5" k3="0.5" result="m1"/>
<feComposite in="m1" in2="c5" operator="arithmetic" k2="0.6667" k3="0.3333" result="mb"/>
<feComposite in="ma" in2="mb" operator="arithmetic" k2="0.5" k3="0.5" result="m"/>
<feConvolveMatrix in="m" order="3" kernelMatrix="0.00903 0.07695 0.00903 0.07695 0.65610 0.07695 0.00903 0.07695 0.00903" divisor="1" edgeMode="duplicate" preserveAlpha="true" result="bl"/>

<feComposite in="bl" in2="SourceGraphic" operator="in"/>
</filter>
<g clip-path="url(#cb11)" filter="url(#f11)">
<linearGradient id="g11" gradientUnits="userSpaceOnUse" x1="982.0" y1="0" x2="1803.0" y2="0"><stop offset="0" stop-color="rgb(28,28,28)"/><stop offset="1" stop-color="rgb(28,28,28)"/></linearGradient>
<rect x="980.0" y="232.4" width="825.0" height="76.1" fill="url(#g11)"/>
<linearGradient id="ht11_12_50" gradientUnits="userSpaceOnUse" x1="982.0" y1="0" x2="1803.0" y2="0"><stop offset="0.000" stop-color="#fff" stop-opacity="0.220"/><stop offset="1.000" stop-color="#fff" stop-opacity="0.220"/></linearGradient><path d="M982.0,257.55 L1084.6,256.39 L1187.2,255.24 L1289.9,254.08 L1392.5,252.93 L1495.1,251.77 L1597.8,250.61 L1700.4,249.46 L1803.0,248.30" fill="none" stroke="url(#ht11_12_50)" stroke-width="6.72" stroke-opacity="0.12"/><path d="M982.0,257.55 L1084.6,256.39 L1187.2,255.24 L1289.9,254.08 L1392.5,252.93 L1495.1,251.77 L1597.8,250.61 L1700.4,249.46 L1803.0,248.30" fill="none" stroke="url(#ht11_12_50)" stroke-width="4.20" stroke-opacity="0.2"/><path d="M982.0,257.55 L1084.6,256.39 L1187.2,255.24 L1289.9,254.08 L1392.5,252.93 L1495.1,251.77 L1597.8,250.61 L1700.4,249.46 L1803.0,248.30" fill="none" stroke="url(#ht11_12_50)" stroke-width="2.52" stroke-opacity="0.3"/><path d="M982.0,257.55 L1084.6,256.39 L1187.2,255.24 L1289.9,254.08 L1392.5,252.93 L1495.1,251.77 L1597.8,250.61 L1700.4,249.46 L1803.0,248.30" fill="none" stroke="url(#ht11_12_50)" stroke-width="1.40" stroke-opacity="0.38"/>
<linearGradient id="ht11_34_50" gradientUnits="userSpaceOnUse" x1="982.0" y1="0" x2="1803.0" y2="0"><stop offset="0.000" stop-color="#fff" stop-opacity="0.220"/><stop offset="1.000" stop-color="#fff" stop-opacity="0.220"/></linearGradient><path d="M982.0,293.80 L1084.6,292.64 L1187.2,291.48 L1289.9,290.31 L1392.5,289.15 L1495.1,287.99 L1597.8,286.82 L1700.4,285.66 L1803.0,284.50" fill="none" stroke="url(#ht11_34_50)" stroke-width="6.72" stroke-opacity="0.12"/><path d="M982.0,293.80 L1084.6,292.64 L1187.2,291.48 L1289.9,290.31 L1392.5,289.15 L1495.1,287.99 L1597.8,286.82 L1700.4,285.66 L1803.0,284.50" fill="none" stroke="url(#ht11_34_50)" stroke-width="4.20" stroke-opacity="0.2"/><path d="M982.0,293.80 L1084.6,292.64 L1187.2,291.48 L1289.9,290.31 L1392.5,289.15 L1495.1,287.99 L1597.8,286.82 L1700.4,285.66 L1803.0,284.50" fill="none" stroke="url(#ht11_34_50)" stroke-width="2.52" stroke-opacity="0.3"/><path d="M982.0,293.80 L1084.6,292.64 L1187.2,291.48 L1289.9,290.31 L1392.5,289.15 L1495.1,287.99 L1597.8,286.82 L1700.4,285.66 L1803.0,284.50" fill="none" stroke="url(#ht11_34_50)" stroke-width="1.40" stroke-opacity="0.38"/>
<path d="M982.0,246.20 L1084.6,244.97 L1187.2,243.75 L1289.9,242.53 L1392.5,241.30 L1495.1,240.07 L1597.8,238.85 L1700.4,237.62 L1803.0,236.40" fill="none" stroke="#000" stroke-width="3.0" stroke-opacity="0.45"/>
</g>
<clipPath id="cb12"><path d="M982.0,340.70 L1084.6,339.52 L1187.2,338.35 L1289.9,337.18 L1392.5,336.00 L1495.1,334.82 L1597.8,333.65 L1700.4,332.48 L1803.0,331.30 L1803.0,392.20 L1700.4,393.35 L1597.8,394.50 L1495.1,395.65 L1392.5,396.80 L1289.9,397.95 L1187.2,399.10 L1084.6,400.25 L982.0,401.40Z"/></clipPath>
<filter id="f12" filterUnits="userSpaceOnUse" x="980.0" y="328.3" width="825.0" height="76.1" color-interpolation-filters="sRGB">
<feTurbulence type="fractalNoise" baseFrequency="2.37 2.71" numOctaves="1" seed="36" result="t0"/>
<feTurbulence type="fractalNoise" baseFrequency="2.53 2.29" numOctaves="1" seed="47" result="t1"/>
<feColorMatrix in="t0" type="matrix" values="1 0 0 0 0 1 0 0 0 0 1 0 0 0 0 0 0 0 0 1" result="n0"/>
<feComposite in="SourceGraphic" in2="n0" operator="arithmetic" k1="2.7103" k2="-0.3551" k3="1.1776" k4="-0.5888" result="v0"/>
<feComponentTransfer in="v0" result="c0"><feFuncR type="table" tableValues="0.050 0.132 0.193 0.248 0.300 0.350 0.399 0.448 0.495 0.541 0.584 0.626 0.665 0.702 0.736 0.768 0.798 0.827 0.853 0.878 0.902 0.923 0.943 0.959 0.973 0.984 0.991 0.994 0.993 0.987 0.974 0.957 0.940"/><feFuncG type="table" tableValues="0.030 0.022 0.018 0.014 0.010 0.004 0.001 0.002 0.012 0.035 0.069 0.103 0.139 0.174 0.209 0.245 0.280 0.316 0.352 0.388 0.425 0.463 0.503 0.543 0.586 0.630 0.675 0.723 0.772 0.822 0.875 0.928 0.975"/><feFuncB type="table" tableValues="0.528 0.563 0.590 0.613 0.632 0.646 0.656 0.660 0.658 0.649 0.633 0.611 0.586 0.557 0.528 0.498 0.470 0.441 0.414 0.387 0.360 0.333 0.306 0.279 0.252 0.225 0.198 0.174 0.155 0.144 0.144 0.152 0.131"/><feFuncA type="linear" slope="0" intercept="1"/></feComponentTransfer>
<feColorMatrix in="t0" type="matrix" values="0 1 0 0 0 0 1 0 0 0 0 1 0 0 0 0 0 0 0 1" result="n1"/>
<feComposite in="SourceGraphic" in2="n1" operator="arithmetic" k1="2.7103" k2="-0.3551" k3="1.1776" k4="-0.5888" result="v1"/>
<feComponentTransfer in="v1" result="c1"><feFuncR type="table" tableValues="0.050 0.132 0.193 0.248 0.300 0.350 0.399 0.448 0.495 0.541 0.584 0.626 0.665 0.702 0.736 0.768 0.798 0.827 0.853 0.878 0.902 0.923 0.943 0.959 0.973 0.984 0.991 0.994 0.993 0.987 0.974 0.957 0.940"/><feFuncG type="table" tableValues="0.030 0.022 0.018 0.014 0.010 0.004 0.001 0.002 0.012 0.035 0.069 0.103 0.139 0.174 0.209 0.245 0.280 0.316 0.352 0.388 0.425 0.463 0.503 0.543 0.586 0.630 0.675 0.723 0.772 0.822 0.875 0.928 0.975"/><feFuncB type="table" tableValues="0.528 0.563 0.590 0.613 0.632 0.646 0.656 0.660 0.658 0.649 0.633 0.611 0.586 0.557 0.528 0.498 0.470 0.441 0.414 0.387 0.360 0.333 0.306 0.279 0.252 0.225 0.198 0.174 0.155 0.144 0.144 0.152 0.131"/><feFuncA type="linear" slope="0" intercept="1"/></feComponentTransfer>
<feColorMatrix in="t0" type="matrix" values="0 0 1 0 0 0 0 1 0 0 0 0 1 0 0 0 0 0 0 1" result="n2"/>
<feComposite in="SourceGraphic" in2="n2" operator="arithmetic" k1="2.7103" k2="-0.3551" k3="1.1776" k4="-0.5888" result="v2"/>
<feComponentTransfer in="v2" result="c2"><feFuncR type="table" tableValues="0.050 0.132 0.193 0.248 0.300 0.350 0.399 0.448 0.495 0.541 0.584 0.626 0.665 0.702 0.736 0.768 0.798 0.827 0.853 0.878 0.902 0.923 0.943 0.959 0.973 0.984 0.991 0.994 0.993 0.987 0.974 0.957 0.940"/><feFuncG type="table" tableValues="0.030 0.022 0.018 0.014 0.010 0.004 0.001 0.002 0.012 0.035 0.069 0.103 0.139 0.174 0.209 0.245 0.280 0.316 0.352 0.388 0.425 0.463 0.503 0.543 0.586 0.630 0.675 0.723 0.772 0.822 0.875 0.928 0.975"/><feFuncB type="table" tableValues="0.528 0.563 0.590 0.613 0.632 0.646 0.656 0.660 0.658 0.649 0.633 0.611 0.586 0.557 0.528 0.498 0.470 0.441 0.414 0.387 0.360 0.333 0.306 0.279 0.252 0.225 0.198 0.174 0.155 0.144 0.144 0.152 0.131"/><feFuncA type="linear" slope="0" intercept="1"/></feComponentTransfer>
<feColorMatrix in="t1" type="matrix" values="1 0 0 0 0 1 0 0 0 0 1 0 0 0 0 0 0 0 0 1" result="n3"/>
<feComposite in="SourceGraphic" in2="n3" operator="arithmetic" k1="2.7103" k2="-0.3551" k3="1.1776" k4="-0.5888" result="v3"/>
<feComponentTransfer in="v3" result="c3"><feFuncR type="table" tableValues="0.050 0.132 0.193 0.248 0.300 0.350 0.399 0.448 0.495 0.541 0.584 0.626 0.665 0.702 0.736 0.768 0.798 0.827 0.853 0.878 0.902 0.923 0.943 0.959 0.973 0.984 0.991 0.994 0.993 0.987 0.974 0.957 0.940"/><feFuncG type="table" tableValues="0.030 0.022 0.018 0.014 0.010 0.004 0.001 0.002 0.012 0.035 0.069 0.103 0.139 0.174 0.209 0.245 0.280 0.316 0.352 0.388 0.425 0.463 0.503 0.543 0.586 0.630 0.675 0.723 0.772 0.822 0.875 0.928 0.975"/><feFuncB type="table" tableValues="0.528 0.563 0.590 0.613 0.632 0.646 0.656 0.660 0.658 0.649 0.633 0.611 0.586 0.557 0.528 0.498 0.470 0.441 0.414 0.387 0.360 0.333 0.306 0.279 0.252 0.225 0.198 0.174 0.155 0.144 0.144 0.152 0.131"/><feFuncA type="linear" slope="0" intercept="1"/></feComponentTransfer>
<feColorMatrix in="t1" type="matrix" values="0 1 0 0 0 0 1 0 0 0 0 1 0 0 0 0 0 0 0 1" result="n4"/>
<feComposite in="SourceGraphic" in2="n4" operator="arithmetic" k1="2.7103" k2="-0.3551" k3="1.1776" k4="-0.5888" result="v4"/>
<feComponentTransfer in="v4" result="c4"><feFuncR type="table" tableValues="0.050 0.132 0.193 0.248 0.300 0.350 0.399 0.448 0.495 0.541 0.584 0.626 0.665 0.702 0.736 0.768 0.798 0.827 0.853 0.878 0.902 0.923 0.943 0.959 0.973 0.984 0.991 0.994 0.993 0.987 0.974 0.957 0.940"/><feFuncG type="table" tableValues="0.030 0.022 0.018 0.014 0.010 0.004 0.001 0.002 0.012 0.035 0.069 0.103 0.139 0.174 0.209 0.245 0.280 0.316 0.352 0.388 0.425 0.463 0.503 0.543 0.586 0.630 0.675 0.723 0.772 0.822 0.875 0.928 0.975"/><feFuncB type="table" tableValues="0.528 0.563 0.590 0.613 0.632 0.646 0.656 0.660 0.658 0.649 0.633 0.611 0.586 0.557 0.528 0.498 0.470 0.441 0.414 0.387 0.360 0.333 0.306 0.279 0.252 0.225 0.198 0.174 0.155 0.144 0.144 0.152 0.131"/><feFuncA type="linear" slope="0" intercept="1"/></feComponentTransfer>
<feColorMatrix in="t1" type="matrix" values="0 0 1 0 0 0 0 1 0 0 0 0 1 0 0 0 0 0 0 1" result="n5"/>
<feComposite in="SourceGraphic" in2="n5" operator="arithmetic" k1="2.7103" k2="-0.3551" k3="1.1776" k4="-0.5888" result="v5"/>
<feComponentTransfer in="v5" result="c5"><feFuncR type="table" tableValues="0.050 0.132 0.193 0.248 0.300 0.350 0.399 0.448 0.495 0.541 0.584 0.626 0.665 0.702 0.736 0.768 0.798 0.827 0.853 0.878 0.902 0.923 0.943 0.959 0.973 0.984 0.991 0.994 0.993 0.987 0.974 0.957 0.940"/><feFuncG type="table" tableValues="0.030 0.022 0.018 0.014 0.010 0.004 0.001 0.002 0.012 0.035 0.069 0.103 0.139 0.174 0.209 0.245 0.280 0.316 0.352 0.388 0.425 0.463 0.503 0.543 0.586 0.630 0.675 0.723 0.772 0.822 0.875 0.928 0.975"/><feFuncB type="table" tableValues="0.528 0.563 0.590 0.613 0.632 0.646 0.656 0.660 0.658 0.649 0.633 0.611 0.586 0.557 0.528 0.498 0.470 0.441 0.414 0.387 0.360 0.333 0.306 0.279 0.252 0.225 0.198 0.174 0.155 0.144 0.144 0.152 0.131"/><feFuncA type="linear" slope="0" intercept="1"/></feComponentTransfer>
<feComposite in="c0" in2="c1" operator="arithmetic" k2="0.5" k3="0.5" result="m0"/>
<feComposite in="m0" in2="c2" operator="arithmetic" k2="0.6667" k3="0.3333" result="ma"/>
<feComposite in="c3" in2="c4" operator="arithmetic" k2="0.5" k3="0.5" result="m1"/>
<feComposite in="m1" in2="c5" operator="arithmetic" k2="0.6667" k3="0.3333" result="mb"/>
<feComposite in="ma" in2="mb" operator="arithmetic" k2="0.5" k3="0.5" result="m"/>
<feConvolveMatrix in="m" order="3" kernelMatrix="0.00903 0.07695 0.00903 0.07695 0.65610 0.07695 0.00903 0.07695 0.00903" divisor="1" edgeMode="duplicate" preserveAlpha="true" result="bl"/>

<feComposite in="bl" in2="SourceGraphic" operator="in"/>
</filter>
<g clip-path="url(#cb12)" filter="url(#f12)">
<linearGradient id="g12" gradientUnits="userSpaceOnUse" x1="982.0" y1="0" x2="1803.0" y2="0"><stop offset="0" stop-color="rgb(54,54,54)"/><stop offset="0.6" stop-color="rgb(56,56,56)"/><stop offset="1" stop-color="rgb(66,66,66)"/></linearGradient>
<rect x="980.0" y="328.3" width="825.0" height="76.1" fill="url(#g12)"/>
<rect x="992.8" y="338.5" width="10.0" height="64.7" fill="url(#sg)" opacity="0.45" transform="translate(997.8,370.9) skewX(4) translate(-997.8,-370.9)"/>
<rect x="1032.0" y="338.1" width="11.5" height="64.7" fill="url(#sg)" opacity="0.603125" transform="translate(1037.8,370.4) skewX(4) translate(-1037.8,-370.4)"/>
<rect x="1071.5" y="337.6" width="13.0" height="64.7" fill="url(#sg)" opacity="0.5862499999999999" transform="translate(1078.0,370.0) skewX(4) translate(-1078.0,-370.0)"/>
<rect x="1112.0" y="337.1" width="14.5" height="64.7" fill="url(#sg)" opacity="0.569375" transform="translate(1119.3,369.5) skewX(4) translate(-1119.3,-369.5)"/>
<rect x="1154.5" y="336.6" width="16.0" height="64.7" fill="url(#sg)" opacity="0.5525" transform="translate(1162.5,369.0) skewX(4) translate(-1162.5,-369.0)"/>
<rect x="1198.5" y="336.1" width="17.5" height="64.8" fill="url(#sg)" opacity="0.535625" transform="translate(1207.3,368.5) skewX(4) translate(-1207.3,-368.5)"/>
<rect x="1243.5" y="335.6" width="19.0" height="64.8" fill="url(#sg)" opacity="0.51875" transform="translate(1253.0,368.0) skewX(4) translate(-1253.0,-368.0)"/>
<rect x="1289.2" y="335.1" width="20.5" height="64.8" fill="url(#sg)" opacity="0.501875" transform="translate(1299.5,367.5) skewX(4) translate(-1299.5,-367.5)"/>
<rect x="1337.4" y="334.5" width="22.0" height="64.8" fill="url(#sg)" opacity="0.485" transform="translate(1348.4,366.9) skewX(4) translate(-1348.4,-366.9)"/>
<rect x="1384.5" y="334.0" width="23.5" height="64.8" fill="url(#sg)" opacity="0.468125" transform="translate(1396.2,366.4) skewX(4) translate(-1396.2,-366.4)"/>
<rect x="1433.3" y="333.4" width="25.0" height="64.8" fill="url(#sg)" opacity="0.45125" transform="translate(1445.8,365.8) skewX(4) translate(-1445.8,-365.8)"/>
<rect x="1484.8" y="332.8" width="26.5" height="64.8" fill="url(#sg)" opacity="0.43437499999999996" transform="translate(1498.0,365.2) skewX(4) translate(-1498.0,-365.2)"/>
<rect x="1537.8" y="332.2" width="28.0" height="64.8" fill="url(#sg)" opacity="0.4175" transform="translate(1551.8,364.6) skewX(4) translate(-1551.8,-364.6)"/>
<rect x="1592.5" y="331.5" width="29.5" height="64.9" fill="url(#sg)" opacity="0.400625" transform="translate(1607.2,364.0) skewX(4) translate(-1607.2,-364.0)"/>
<rect x="1650.4" y="330.9" width="31.0" height="64.9" fill="url(#sg)" opacity="0.38375" transform="translate(1665.9,363.3) skewX(4) translate(-1665.9,-363.3)"/>
<rect x="1708.3" y="330.2" width="32.5" height="64.9" fill="url(#sg)" opacity="0.36687499999999995" transform="translate(1724.6,362.6) skewX(4) translate(-1724.6,-362.6)"/>
<rect x="1767.9" y="329.5" width="34.0" height="64.9" fill="url(#sg)" opacity="0.35" transform="translate(1784.9,362.0) skewX(4) translate(-1784.9,-362.0)"/>
</g>
<clipPath id="cb13"><path d="M982.0,450.80 L1084.6,449.78 L1187.2,448.75 L1289.9,447.73 L1392.5,446.70 L1495.1,445.68 L1597.8,444.65 L1700.4,443.62 L1803.0,442.60 L1803.0,503.60 L1700.4,504.61 L1597.8,505.62 L1495.1,506.64 L1392.5,507.65 L1289.9,508.66 L1187.2,509.68 L1084.6,510.69 L982.0,511.70Z"/></clipPath>
<filter id="f13" filterUnits="userSpaceOnUse" x="980.0" y="439.6" width="825.0" height="75.1" color-interpolation-filters="sRGB">
<feTurbulence type="fractalNoise" baseFrequency="2.37 2.71" numOctaves="1" seed="49" result="t0"/>
<feTurbulence type="fractalNoise" baseFrequency="2.53 2.29" numOctaves="1" seed="60" result="t1"/>
<feColorMatrix in="t0" type="matrix" values="1 0 0 0 0 1 0 0 0 0 1 0 0 0 0 0 0 0 0 1" result="n0"/>
<feComposite in="SourceGraphic" in2="n0" operator="arithmetic" k1="0.0000" k2="1.0000" k3="2.8037" k4="-1.4019" result="v0"/>
<feComponentTransfer in="v0" result="c0"><feFuncR type="table" tableValues="0.050 0.132 0.193 0.248 0.300 0.350 0.399 0.448 0.495 0.541 0.584 0.626 0.665 0.702 0.736 0.768 0.798 0.827 0.853 0.878 0.902 0.923 0.943 0.959 0.973 0.984 0.991 0.994 0.993 0.987 0.974 0.957 0.940"/><feFuncG type="table" tableValues="0.030 0.022 0.018 0.014 0.010 0.004 0.001 0.002 0.012 0.035 0.069 0.103 0.139 0.174 0.209 0.245 0.280 0.316 0.352 0.388 0.425 0.463 0.503 0.543 0.586 0.630 0.675 0.723 0.772 0.822 0.875 0.928 0.975"/><feFuncB type="table" tableValues="0.528 0.563 0.590 0.613 0.632 0.646 0.656 0.660 0.658 0.649 0.633 0.611 0.586 0.557 0.528 0.498 0.470 0.441 0.414 0.387 0.360 0.333 0.306 0.279 0.252 0.225 0.198 0.174 0.155 0.144 0.144 0.152 0.131"/><feFuncA type="linear" slope="0" intercept="1"/></feComponentTransfer>
<feColorMatrix in="t0" type="matrix" values="0 1 0 0 0 0 1 0 0 0 0 1 0 0 0 0 0 0 0 1" result="n1"/>
<feComposite in="SourceGraphic" in2="n1" operator="arithmetic" k1="0.0000" k2="1.0000" k3="2.8037" k4="-1.4019" result="v1"/>
<feComponentTransfer in="v1" result="c1"><feFuncR type="table" tableValues="0.050 0.132 0.193 0.248 0.300 0.350 0.399 0.448 0.495 0.541 0.584 0.626 0.665 0.702 0.736 0.768 0.798 0.827 0.853 0.878 0.902 0.923 0.943 0.959 0.973 0.984 0.991 0.994 0.993 0.987 0.974 0.957 0.940"/><feFuncG type="table" tableValues="0.030 0.022 0.018 0.014 0.010 0.004 0.001 0.002 0.012 0.035 0.069 0.103 0.139 0.174 0.209 0.245 0.280 0.316 0.352 0.388 0.425 0.463 0.503 0.543 0.586 0.630 0.675 0.723 0.772 0.822 0.875 0.928 0.975"/><feFuncB type="table" tableValues="0.528 0.563 0.590 0.613 0.632 0.646 0.656 0.660 0.658 0.649 0.633 0.611 0.586 0.557 0.528 0.498 0.470 0.441 0.414 0.387 0.360 0.333 0.306 0.279 0.252 0.225 0.198 0.174 0.155 0.144 0.144 0.152 0.131"/><feFuncA type="linear" slope="0" intercept="1"/></feComponentTransfer>
<feColorMatrix in="t0" type="matrix" values="0 0 1 0 0 0 0 1 0 0 0 0 1 0 0 0 0 0 0 1" result="n2"/>
<feComposite in="SourceGraphic" in2="n2" operator="arithmetic" k1="0.0000" k2="1.0000" k3="2.8037" k4="-1.4019" result="v2"/>
<feComponentTransfer in="v2" result="c2"><feFuncR type="table" tableValues="0.050 0.132 0.193 0.248 0.300 0.350 0.399 0.448 0.495 0.541 0.584 0.626 0.665 0.702 0.736 0.768 0.798 0.827 0.853 0.878 0.902 0.923 0.943 0.959 0.973 0.984 0.991 0.994 0.993 0.987 0.974 0.957 0.940"/><feFuncG type="table" tableValues="0.030 0.022 0.018 0.014 0.010 0.004 0.001 0.002 0.012 0.035 0.069 0.103 0.139 0.174 0.209 0.245 0.280 0.316 0.352 0.388 0.425 0.463 0.503 0.543 0.586 0.630 0.675 0.723 0.772 0.822 0.875 0.928 0.975"/><feFuncB type="table" tableValues="0.528 0.563 0.590 0.613 0.632 0.646 0.656 0.660 0.658 0.649 0.633 0.611 0.586 0.557 0.528 0.498 0.470 0.441 0.414 0.387 0.360 0.333 0.306 0.279 0.252 0.225 0.198 0.174 0.155 0.144 0.144 0.152 0.131"/><feFuncA type="linear" slope="0" intercept="1"/></feComponentTransfer>
<feColorMatrix in="t1" type="matrix" values="1 0 0 0 0 1 0 0 0 0 1 0 0 0 0 0 0 0 0 1" result="n3"/>
<feComposite in="SourceGraphic" in2="n3" operator="arithmetic" k1="0.0000" k2="1.0000" k3="2.8037" k4="-1.4019" result="v3"/>
<feComponentTransfer in="v3" result="c3"><feFuncR type="table" tableValues="0.050 0.132 0.193 0.248 0.300 0.350 0.399 0.448 0.495 0.541 0.584 0.626 0.665 0.702 0.736 0.768 0.798 0.827 0.853 0.878 0.902 0.923 0.943 0.959 0.973 0.984 0.991 0.994 0.993 0.987 0.974 0.957 0.940"/><feFuncG type="table" tableValues="0.030 0.022 0.018 0.014 0.010 0.004 0.001 0.002 0.012 0.035 0.069 0.103 0.139 0.174 0.209 0.245 0.280 0.316 0.352 0.388 0.425 0.463 0.503 0.543 0.586 0.630 0.675 0.723 0.772 0.822 0.875 0.928 0.975"/><feFuncB type="table" tableValues="0.528 0.563 0.590 0.613 0.632 0.646 0.656 0.660 0.658 0.649 0.633 0.611 0.586 0.557 0.528 0.498 0.470 0.441 0.414 0.387 0.360 0.333 0.306 0.279 0.252 0.225 0.198 0.174 0.155 0.144 0.144 0.152 0.131"/><feFuncA type="linear" slope="0" intercept="1"/></feComponentTransfer>
<feColorMatrix in="t1" type="matrix" values="0 1 0 0 0 0 1 0 0 0 0 1 0 0 0 0 0 0 0 1" result="n4"/>
<feComposite in="SourceGraphic" in2="n4" operator="arithmetic" k1="0.0000" k2="1.0000" k3="2.8037" k4="-1.4019" result="v4"/>
<feComponentTransfer in="v4" result="c4"><feFuncR type="table" tableValues="0.050 0.132 0.193 0.248 0.300 0.350 0.399 0.448 0.495 0.541 0.584 0.626 0.665 0.702 0.736 0.768 0.798 0.827 0.853 0.878 0.902 0.923 0.943 0.959 0.973 0.984 0.991 0.994 0.993 0.987 0.974 0.957 0.940"/><feFuncG type="table" tableValues="0.030 0.022 0.018 0.014 0.010 0.004 0.001 0.002 0.012 0.035 0.069 0.103 0.139 0.174 0.209 0.245 0.280 0.316 0.352 0.388 0.425 0.463 0.503 0.543 0.586 0.630 0.675 0.723 0.772 0.822 0.875 0.928 0.975"/><feFuncB type="table" tableValues="0.528 0.563 0.590 0.613 0.632 0.646 0.656 0.660 0.658 0.649 0.633 0.611 0.586 0.557 0.528 0.498 0.470 0.441 0.414 0.387 0.360 0.333 0.306 0.279 0.252 0.225 0.198 0.174 0.155 0.144 0.144 0.152 0.131"/><feFuncA type="linear" slope="0" intercept="1"/></feComponentTransfer>
<feColorMatrix in="t1" type="matrix" values="0 0 1 0 0 0 0 1 0 0 0 0 1 0 0 0 0 0 0 1" result="n5"/>
<feComposite in="SourceGraphic" in2="n5" operator="arithmetic" k1="0.0000" k2="1.0000" k3="2.8037" k4="-1.4019" result="v5"/>
<feComponentTransfer in="v5" result="c5"><feFuncR type="table" tableValues="0.050 0.132 0.193 0.248 0.300 0.350 0.399 0.448 0.495 0.541 0.584 0.626 0.665 0.702 0.736 0.768 0.798 0.827 0.853 0.878 0.902 0.923 0.943 0.959 0.973 0.984 0.991 0.994 0.993 0.987 0.974 0.957 0.940"/><feFuncG type="table" tableValues="0.030 0.022 0.018 0.014 0.010 0.004 0.001 0.002 0.012 0.035 0.069 0.103 0.139 0.174 0.209 0.245 0.280 0.316 0.352 0.388 0.425 0.463 0.503 0.543 0.586 0.630 0.675 0.723 0.772 0.822 0.875 0.928 0.975"/><feFuncB type="table" tableValues="0.528 0.563 0.590 0.613 0.632 0.646 0.656 0.660 0.658 0.649 0.633 0.611 0.586 0.557 0.528 0.498 0.470 0.441 0.414 0.387 0.360 0.333 0.306 0.279 0.252 0.225 0.198 0.174 0.155 0.144 0.144 0.152 0.131"/><feFuncA type="linear" slope="0" intercept="1"/></feComponentTransfer>
<feComposite in="c0" in2="c1" operator="arithmetic" k2="0.5" k3="0.5" result="m0"/>
<feComposite in="m0" in2="c2" operator="arithmetic" k2="0.6667" k3="0.3333" result="ma"/>
<feComposite in="c3" in2="c4" operator="arithmetic" k2="0.5" k3="0.5" result="m1"/>
<feComposite in="m1" in2="c5" operator="arithmetic" k2="0.6667" k3="0.3333" result="mb"/>
<feComposite in="ma" in2="mb" operator="arithmetic" k2="0.5" k3="0.5" result="m"/>
<feConvolveMatrix in="m" order="3" kernelMatrix="0.00903 0.07695 0.00903 0.07695 0.65610 0.07695 0.00903 0.07695 0.00903" divisor="1" edgeMode="duplicate" preserveAlpha="true" result="bl"/>

<feComposite in="bl" in2="SourceGraphic" operator="in"/>
</filter>
<g clip-path="url(#cb13)" filter="url(#f13)">
<linearGradient id="g13" gradientUnits="userSpaceOnUse" x1="982.0" y1="0" x2="1803.0" y2="0"><stop offset="0" stop-color="rgb(87,87,87)"/><stop offset="0.5" stop-color="rgb(87,87,87)"/><stop offset="1" stop-color="rgb(92,92,92)"/></linearGradient>
<rect x="980.0" y="439.6" width="825.0" height="75.1" fill="url(#g13)"/>
<rect x="1332.0" y="445.2" width="16.0" height="64.9" fill="url(#sg)" opacity="0.12"/>
<rect x="1430.0" y="444.3" width="12.0" height="65.0" fill="url(#sg)" opacity="0.1"/>
<rect x="1508.0" y="443.4" width="22.0" height="65.0" fill="url(#sg)" opacity="0.12"/>
<rect x="1664.0" y="441.9" width="12.0" height="65.0" fill="url(#sg)" opacity="0.22"/>
</g>
<clipPath id="cb14"><path d="M982.0,580.90 L1084.6,580.00 L1187.2,579.10 L1289.9,578.20 L1392.5,577.30 L1495.1,576.40 L1597.8,575.50 L1700.4,574.60 L1803.0,573.70 L1803.0,635.60 L1700.4,636.50 L1597.8,637.40 L1495.1,638.30 L1392.5,639.20 L1289.9,640.10 L1187.2,641.00 L1084.6,641.90 L982.0,642.80Z"/></clipPath>
<filter id="f14" filterUnits="userSpaceOnUse" x="980.0" y="570.7" width="825.0" height="75.1" color-interpolation-filters="sRGB">
<feTurbulence type="fractalNoise" baseFrequency="2.37 2.71" numOctaves="1" seed="62" result="t0"/>
<feTurbulence type="fractalNoise" baseFrequency="2.53 2.29" numOctaves="1" seed="73" result="t1"/>
<feColorMatrix in="t0" type="matrix" values="1 0 0 0 0 1 0 0 0 0 1 0 0 0 0 0 0 0 0 1" result="n0"/>
<feComposite in="SourceGraphic" in2="n0" operator="arithmetic" k1="0.0000" k2="1.0000" k3="3.0841" k4="-1.5421" result="v0"/>
<feComponentTransfer in="v0" result="c0"><feFuncR type="table" tableValues="0.050 0.132 0.193 0.248 0.300 0.350 0.399 0.448 0.495 0.541 0.584 0.626 0.665 0.702 0.736 0.768 0.798 0.827 0.853 0.878 0.902 0.923 0.943 0.959 0.973 0.984 0.991 0.994 0.993 0.987 0.974 0.957 0.940"/><feFuncG type="table" tableValues="0.030 0.022 0.018 0.014 0.010 0.004 0.001 0.002 0.012 0.035 0.069 0.103 0.139 0.174 0.209 0.245 0.280 0.316 0.352 0.388 0.425 0.463 0.503 0.543 0.586 0.630 0.675 0.723 0.772 0.822 0.875 0.928 0.975"/><feFuncB type="table" tableValues="0.528 0.563 0.590 0.613 0.632 0.646 0.656 0.660 0.658 0.649 0.633 0.611 0.586 0.557 0.528 0.498 0.470 0.441 0.414 0.387 0.360 0.333 0.306 0.279 0.252 0.225 0.198 0.174 0.155 0.144 0.144 0.152 0.131"/><feFuncA type="linear" slope="0" intercept="1"/></feComponentTransfer>
<feColorMatrix in="t0" type="matrix" values="0 1 0 0 0 0 1 0 0 0 0 1 0 0 0 0 0 0 0 1" result="n1"/>
<feComposite in="SourceGraphic" in2="n1" operator="arithmetic" k1="0.0000" k2="1.0000" k3="3.0841" k4="-1.5421" result="v1"/>
<feComponentTransfer in="v1" result="c1"><feFuncR type="table" tableValues="0.050 0.132 0.193 0.248 0.300 0.350 0.399 0.448 0.495 0.541 0.584 0.626 0.665 0.702 0.736 0.768 0.798 0.827 0.853 0.878 0.902 0.923 0.943 0.959 0.973 0.984 0.991 0.994 0.993 0.987 0.974 0.957 0.940"/><feFuncG type="table" tableValues="0.030 0.022 0.018 0.014 0.010 0.004 0.001 0.002 0.012 0.035 0.069 0.103 0.139 0.174 0.209 0.245 0.280 0.316 0.352 0.388 0.425 0.463 0.503 0.543 0.586 0.630 0.675 0.723 0.772 0.822 0.875 0.928 0.975"/><feFuncB type="table" tableValues="0.528 0.563 0.590 0.613 0.632 0.646 0.656 0.660 0.658 0.649 0.633 0.611 0.586 0.557 0.528 0.498 0.470 0.441 0.414 0.387 0.360 0.333 0.306 0.279 0.252 0.225 0.198 0.174 0.155 0.144 0.144 0.152 0.131"/><feFuncA type="linear" slope="0" intercept="1"/></feComponentTransfer>
<feColorMatrix in="t0" type="matrix" values="0 0 1 0 0 0 0 1 0 0 0 0 1 0 0 0 0 0 0 1" result="n2"/>
<feComposite in="SourceGraphic" in2="n2" operator="arithmetic" k1="0.0000" k2="1.0000" k3="3.0841" k4="-1.5421" result="v2"/>
<feComponentTransfer in="v2" result="c2"><feFuncR type="table" tableValues="0.050 0.132 0.193 0.248 0.300 0.350 0.399 0.448 0.495 0.541 0.584 0.626 0.665 0.702 0.736 0.768 0.798 0.827 0.853 0.878 0.902 0.923 0.943 0.959 0.973 0.984 0.991 0.994 0.993 0.987 0.974 0.957 0.940"/><feFuncG type="table" tableValues="0.030 0.022 0.018 0.014 0.010 0.004 0.001 0.002 0.012 0.035 0.069 0.103 0.139 0.174 0.209 0.245 0.280 0.316 0.352 0.388 0.425 0.463 0.503 0.543 0.586 0.630 0.675 0.723 0.772 0.822 0.875 0.928 0.975"/><feFuncB type="table" tableValues="0.528 0.563 0.590 0.613 0.632 0.646 0.656 0.660 0.658 0.649 0.633 0.611 0.586 0.557 0.528 0.498 0.470 0.441 0.414 0.387 0.360 0.333 0.306 0.279 0.252 0.225 0.198 0.174 0.155 0.144 0.144 0.152 0.131"/><feFuncA type="linear" slope="0" intercept="1"/></feComponentTransfer>
<feColorMatrix in="t1" type="matrix" values="1 0 0 0 0 1 0 0 0 0 1 0 0 0 0 0 0 0 0 1" result="n3"/>
<feComposite in="SourceGraphic" in2="n3" operator="arithmetic" k1="0.0000" k2="1.0000" k3="3.0841" k4="-1.5421" result="v3"/>
<feComponentTransfer in="v3" result="c3"><feFuncR type="table" tableValues="0.050 0.132 0.193 0.248 0.300 0.350 0.399 0.448 0.495 0.541 0.584 0.626 0.665 0.702 0.736 0.768 0.798 0.827 0.853 0.878 0.902 0.923 0.943 0.959 0.973 0.984 0.991 0.994 0.993 0.987 0.974 0.957 0.940"/><feFuncG type="table" tableValues="0.030 0.022 0.018 0.014 0.010 0.004 0.001 0.002 0.012 0.035 0.069 0.103 0.139 0.174 0.209 0.245 0.280 0.316 0.352 0.388 0.425 0.463 0.503 0.543 0.586 0.630 0.675 0.723 0.772 0.822 0.875 0.928 0.975"/><feFuncB type="table" tableValues="0.528 0.563 0.590 0.613 0.632 0.646 0.656 0.660 0.658 0.649 0.633 0.611 0.586 0.557 0.528 0.498 0.470 0.441 0.414 0.387 0.360 0.333 0.306 0.279 0.252 0.225 0.198 0.174 0.155 0.144 0.144 0.152 0.131"/><feFuncA type="linear" slope="0" intercept="1"/></feComponentTransfer>
<feColorMatrix in="t1" type="matrix" values="0 1 0 0 0 0 1 0 0 0 0 1 0 0 0 0 0 0 0 1" result="n4"/>
<feComposite in="SourceGraphic" in2="n4" operator="arithmetic" k1="0.0000" k2="1.0000" k3="3.0841" k4="-1.5421" result="v4"/>
<feComponentTransfer in="v4" result="c4"><feFuncR type="table" tableValues="0.050 0.132 0.193 0.248 0.300 0.350 0.399 0.448 0.495 0.541 0.584 0.626 0.665 0.702 0.736 0.768 0.798 0.827 0.853 0.878 0.902 0.923 0.943 0.959 0.973 0.984 0.991 0.994 0.993 0.987 0.974 0.957 0.940"/><feFuncG type="table" tableValues="0.030 0.022 0.018 0.014 0.010 0.004 0.001 0.002 0.012 0.035 0.069 0.103 0.139 0.174 0.209 0.245 0.280 0.316 0.352 0.388 0.425 0.463 0.503 0.543 0.586 0.630 0.675 0.723 0.772 0.822 0.875 0.928 0.975"/><feFuncB type="table" tableValues="0.528 0.563 0.590 0.613 0.632 0.646 0.656 0.660 0.658 0.649 0.633 0.611 0.586 0.557 0.528 0.498 0.470 0.441 0.414 0.387 0.360 0.333 0.306 0.279 0.252 0.225 0.198 0.174 0.155 0.144 0.144 0.152 0.131"/><feFuncA type="linear" slope="0" intercept="1"/></feComponentTransfer>
<feColorMatrix in="t1" type="matrix" values="0 0 1 0 0 0 0 1 0 0 0 0 1 0 0 0 0 0 0 1" result="n5"/>
<feComposite in="SourceGraphic" in2="n5" operator="arithmetic" k1="0.0000" k2="1.0000" k3="3.0841" k4="-1.5421" result="v5"/>
<feComponentTransfer in="v5" result="c5"><feFuncR type="table" tableValues="0.050 0.132 0.193 0.248 0.300 0.350 0.399 0.448 0.495 0.541 0.584 0.626 0.665 0.702 0.736 0.768 0.798 0.827 0.853 0.878 0.902 0.923 0.943 0.959 0.973 0.984 0.991 0.994 0.993 0.987 0.974 0.957 0.940"/><feFuncG type="table" tableValues="0.030 0.022 0.018 0.014 0.010 0.004 0.001 0.002 0.012 0.035 0.069 0.103 0.139 0.174 0.209 0.245 0.280 0.316 0.352 0.388 0.425 0.463 0.503 0.543 0.586 0.630 0.675 0.723 0.772 0.822 0.875 0.928 0.975"/><feFuncB type="table" tableValues="0.528 0.563 0.590 0.613 0.632 0.646 0.656 0.660 0.658 0.649 0.633 0.611 0.586 0.557 0.528 0.498 0.470 0.441 0.414 0.387 0.360 0.333 0.306 0.279 0.252 0.225 0.198 0.174 0.155 0.144 0.144 0.152 0.131"/><feFuncA type="linear" slope="0" intercept="1"/></feComponentTransfer>
<feComposite in="c0" in2="c1" operator="arithmetic" k2="0.5" k3="0.5" result="m0"/>
<feComposite in="m0" in2="c2" operator="arithmetic" k2="0.6667" k3="0.3333" result="ma"/>
<feComposite in="c3" in2="c4" operator="arithmetic" k2="0.5" k3="0.5" result="m1"/>
<feComposite in="m1" in2="c5" operator="arithmetic" k2="0.6667" k3="0.3333" result="mb"/>
<feComposite in="ma" in2="mb" operator="arithmetic" k2="0.5" k3="0.5" result="m"/>
<feConvolveMatrix in="m" order="3" kernelMatrix="0.00903 0.07695 0.00903 0.07695 0.65610 0.07695 0.00903 0.07695 0.00903" divisor="1" edgeMode="duplicate" preserveAlpha="true" result="bl"/>

<feComposite in="bl" in2="SourceGraphic" operator="in"/>
</filter>
<g clip-path="url(#cb14)" filter="url(#f14)">
<linearGradient id="g14" gradientUnits="userSpaceOnUse" x1="982.0" y1="0" x2="1803.0" y2="0"><stop offset="0.0" stop-color="rgb(102,102,102)"/><stop offset="0.0341" stop-color="rgb(112,112,112)"/><stop offset="0.1437" stop-color="rgb(117,117,117)"/><stop offset="0.2412" stop-color="rgb(105,105,105)"/><stop offset="0.4482" stop-color="rgb(105,105,105)"/><stop offset="0.4848" stop-color="rgb(117,117,117)"/><stop offset="0.6797" stop-color="rgb(117,117,117)"/><stop offset="0.7162" stop-color="rgb(102,102,102)"/><stop offset="1.0" stop-color="rgb(99,99,99)"/></linearGradient>
<rect x="980.0" y="570.7" width="825.0" height="75.1" fill="url(#g14)"/>
<linearGradient id="vb14_1030" x1="0" y1="0" x2="1" y2="0"><stop offset="0" stop-color="#fff" stop-opacity="0"/><stop offset="0.424" stop-color="#fff" stop-opacity="1"/><stop offset="0.576" stop-color="#fff" stop-opacity="1"/><stop offset="1" stop-color="#fff" stop-opacity="0"/></linearGradient><rect x="1016.0" y="572.3" width="66.0" height="77.9" fill="url(#vb14_1030)" opacity="0.62"/>
<linearGradient id="vb14_1388" x1="0" y1="0" x2="1" y2="0"><stop offset="0" stop-color="#fff" stop-opacity="0"/><stop offset="0.381" stop-color="#fff" stop-opacity="1"/><stop offset="0.619" stop-color="#fff" stop-opacity="1"/><stop offset="1" stop-color="#fff" stop-opacity="0"/></linearGradient><rect x="1384.0" y="569.3" width="21.0" height="77.9" fill="url(#vb14_1388)" opacity="0.6"/>
<linearGradient id="vb14_1415" x1="0" y1="0" x2="1" y2="0"><stop offset="0" stop-color="#fff" stop-opacity="0"/><stop offset="0.348" stop-color="#fff" stop-opacity="1"/><stop offset="0.652" stop-color="#fff" stop-opacity="1"/><stop offset="1" stop-color="#fff" stop-opacity="0"/></linearGradient><rect x="1411.0" y="569.0" width="23.0" height="77.9" fill="url(#vb14_1415)" opacity="0.6"/>
<linearGradient id="vb14_1475" x1="0" y1="0" x2="1" y2="0"><stop offset="0" stop-color="#fff" stop-opacity="0"/><stop offset="0.333" stop-color="#fff" stop-opacity="1"/><stop offset="0.667" stop-color="#fff" stop-opacity="1"/><stop offset="1" stop-color="#fff" stop-opacity="0"/></linearGradient><rect x="1471.0" y="568.5" width="24.0" height="77.9" fill="url(#vb14_1475)" opacity="0.65"/>
<linearGradient id="vb14_1511" x1="0" y1="0" x2="1" y2="0"><stop offset="0" stop-color="#fff" stop-opacity="0"/><stop offset="0.381" stop-color="#fff" stop-opacity="1"/><stop offset="0.619" stop-color="#fff" stop-opacity="1"/><stop offset="1" stop-color="#fff" stop-opacity="0"/></linearGradient><rect x="1507.0" y="568.2" width="21.0" height="77.9" fill="url(#vb14_1511)" opacity="0.6"/>
<rect x="1611.0" y="573.3" width="12.0" height="65.9" fill="url(#sg)" opacity="0.5"/>
<linearGradient id="ht14_34_60" gradientUnits="userSpaceOnUse" x1="982.0" y1="0" x2="1803.0" y2="0"><stop offset="0.000" stop-color="#fff" stop-opacity="0.250"/><stop offset="0.300" stop-color="#fff" stop-opacity="0.300"/><stop offset="0.600" stop-color="#fff" stop-opacity="0.400"/><stop offset="1.000" stop-color="#fff" stop-opacity="0.420"/></linearGradient><path d="M982.0,632.50 L1084.6,631.69 L1187.2,630.88 L1289.9,630.06 L1392.5,629.25 L1495.1,628.44 L1597.8,627.62 L1700.4,626.81 L1803.0,626.00" fill="none" stroke="url(#ht14_34_60)" stroke-width="9.60" stroke-opacity="0.12"/><path d="M982.0,632.50 L1084.6,631.69 L1187.2,630.88 L1289.9,630.06 L1392.5,629.25 L1495.1,628.44 L1597.8,627.62 L1700.4,626.81 L1803.0,626.00" fill="none" stroke="url(#ht14_34_60)" stroke-width="6.00" stroke-opacity="0.2"/><path d="M982.0,632.50 L1084.6,631.69 L1187.2,630.88 L1289.9,630.06 L1392.5,629.25 L1495.1,628.44 L1597.8,627.62 L1700.4,626.81 L1803.0,626.00" fill="none" stroke="url(#ht14_34_60)" stroke-width="3.60" stroke-opacity="0.3"/><path d="M982.0,632.50 L1084.6,631.69 L1187.2,630.88 L1289.9,630.06 L1392.5,629.25 L1495.1,628.44 L1597.8,627.62 L1700.4,626.81 L1803.0,626.00" fill="none" stroke="url(#ht14_34_60)" stroke-width="2.00" stroke-opacity="0.38"/>
</g>
<clipPath id="cb15"><path d="M982.0,736.60 L1084.6,735.95 L1187.2,735.30 L1289.9,734.65 L1392.5,734.00 L1495.1,733.35 L1597.8,732.70 L1700.4,732.05 L1803.0,731.40 L1803.0,793.00 L1700.4,793.70 L1597.8,794.40 L1495.1,795.10 L1392.5,795.80 L1289.9,796.50 L1187.2,797.20 L1084.6,797.90 L982.0,798.60Z"/></clipPath>
<filter id="f15" filterUnits="userSpaceOnUse" x="980.0" y="728.4" width="825.0" height="73.2" color-interpolation-filters="sRGB">
<feTurbulence type="fractalNoise" baseFrequency="2.37 2.71" numOctaves="1" seed="75" result="t0"/>
<feTurbulence type="fractalNoise" baseFrequency="2.53 2.29" numOctaves="1" seed="86" result="t1"/>
<feColorMatrix in="t0" type="matrix" values="1 0 0 0 0 1 0 0 0 0 1 0 0 0 0 0 0 0 0 1" result="n0"/>
<feComposite in="SourceGraphic" in2="n0" operator="arithmetic" k1="0.0000" k2="1.0000" k3="3.4579" k4="-1.7290" result="v0"/>
<feComponentTransfer in="v0" result="c0"><feFuncR type="table" tableValues="0.050 0.132 0.193 0.248 0.300 0.350 0.399 0.448 0.495 0.541 0.584 0.626 0.665 0.702 0.736 0.768 0.798 0.827 0.853 0.878 0.902 0.923 0.943 0.959 0.973 0.984 0.991 0.994 0.993 0.987 0.974 0.957 0.940"/><feFuncG type="table" tableValues="0.030 0.022 0.018 0.014 0.010 0.004 0.001 0.002 0.012 0.035 0.069 0.103 0.139 0.174 0.209 0.245 0.280 0.316 0.352 0.388 0.425 0.463 0.503 0.543 0.586 0.630 0.675 0.723 0.772 0.822 0.875 0.928 0.975"/><feFuncB type="table" tableValues="0.528 0.563 0.590 0.613 0.632 0.646 0.656 0.660 0.658 0.649 0.633 0.611 0.586 0.557 0.528 0.498 0.470 0.441 0.414 0.387 0.360 0.333 0.306 0.279 0.252 0.225 0.198 0.174 0.155 0.144 0.144 0.152 0.131"/><feFuncA type="linear" slope="0" intercept="1"/></feComponentTransfer>
<feColorMatrix in="t0" type="matrix" values="0 1 0 0 0 0 1 0 0 0 0 1 0 0 0 0 0 0 0 1" result="n1"/>
<feComposite in="SourceGraphic" in2="n1" operator="arithmetic" k1="0.0000" k2="1.0000" k3="3.4579" k4="-1.7290" result="v1"/>
<feComponentTransfer in="v1" result="c1"><feFuncR type="table" tableValues="0.050 0.132 0.193 0.248 0.300 0.350 0.399 0.448 0.495 0.541 0.584 0.626 0.665 0.702 0.736 0.768 0.798 0.827 0.853 0.878 0.902 0.923 0.943 0.959 0.973 0.984 0.991 0.994 0.993 0.987 0.974 0.957 0.940"/><feFuncG type="table" tableValues="0.030 0.022 0.018 0.014 0.010 0.004 0.001 0.002 0.012 0.035 0.069 0.103 0.139 0.174 0.209 0.245 0.280 0.316 0.352 0.388 0.425 0.463 0.503 0.543 0.586 0.630 0.675 0.723 0.772 0.822 0.875 0.928 0.975"/><feFuncB type="table" tableValues="0.528 0.563 0.590 0.613 0.632 0.646 0.656 0.660 0.658 0.649 0.633 0.611 0.586 0.557 0.528 0.498 0.470 0.441 0.414 0.387 0.360 0.333 0.306 0.279 0.252 0.225 0.198 0.174 0.155 0.144 0.144 0.152 0.131"/><feFuncA type="linear" slope="0" intercept="1"/></feComponentTransfer>
<feColorMatrix in="t0" type="matrix" values="0 0 1 0 0 0 0 1 0 0 0 0 1 0 0 0 0 0 0 1" result="n2"/>
<feComposite in="SourceGraphic" in2="n2" operator="arithmetic" k1="0.0000" k2="1.0000" k3="3.4579" k4="-1.7290" result="v2"/>
<feComponentTransfer in="v2" result="c2"><feFuncR type="table" tableValues="0.050 0.132 0.193 0.248 0.300 0.350 0.399 0.448 0.495 0.541 0.584 0.626 0.665 0.702 0.736 0.768 0.798 0.827 0.853 0.878 0.902 0.923 0.943 0.959 0.973 0.984 0.991 0.994 0.993 0.987 0.974 0.957 0.940"/><feFuncG type="table" tableValues="0.030 0.022 0.018 0.014 0.010 0.004 0.001 0.002 0.012 0.035 0.069 0.103 0.139 0.174 0.209 0.245 0.280 0.316 0.352 0.388 0.425 0.463 0.503 0.543 0.586 0.630 0.675 0.723 0.772 0.822 0.875 0.928 0.975"/><feFuncB type="table" tableValues="0.528 0.563 0.590 0.613 0.632 0.646 0.656 0.660 0.658 0.649 0.633 0.611 0.586 0.557 0.528 0.498 0.470 0.441 0.414 0.387 0.360 0.333 0.306 0.279 0.252 0.225 0.198 0.174 0.155 0.144 0.144 0.152 0.131"/><feFuncA type="linear" slope="0" intercept="1"/></feComponentTransfer>
<feColorMatrix in="t1" type="matrix" values="1 0 0 0 0 1 0 0 0 0 1 0 0 0 0 0 0 0 0 1" result="n3"/>
<feComposite in="SourceGraphic" in2="n3" operator="arithmetic" k1="0.0000" k2="1.0000" k3="3.4579" k4="-1.7290" result="v3"/>
<feComponentTransfer in="v3" result="c3"><feFuncR type="table" tableValues="0.050 0.132 0.193 0.248 0.300 0.350 0.399 0.448 0.495 0.541 0.584 0.626 0.665 0.702 0.736 0.768 0.798 0.827 0.853 0.878 0.902 0.923 0.943 0.959 0.973 0.984 0.991 0.994 0.993 0.987 0.974 0.957 0.940"/><feFuncG type="table" tableValues="0.030 0.022 0.018 0.014 0.010 0.004 0.001 0.002 0.012 0.035 0.069 0.103 0.139 0.174 0.209 0.245 0.280 0.316 0.352 0.388 0.425 0.463 0.503 0.543 0.586 0.630 0.675 0.723 0.772 0.822 0.875 0.928 0.975"/><feFuncB type="table" tableValues="0.528 0.563 0.590 0.613 0.632 0.646 0.656 0.660 0.658 0.649 0.633 0.611 0.586 0.557 0.528 0.498 0.470 0.441 0.414 0.387 0.360 0.333 0.306 0.279 0.252 0.225 0.198 0.174 0.155 0.144 0.144 0.152 0.131"/><feFuncA type="linear" slope="0" intercept="1"/></feComponentTransfer>
<feColorMatrix in="t1" type="matrix" values="0 1 0 0 0 0 1 0 0 0 0 1 0 0 0 0 0 0 0 1" result="n4"/>
<feComposite in="SourceGraphic" in2="n4" operator="arithmetic" k1="0.0000" k2="1.0000" k3="3.4579" k4="-1.7290" result="v4"/>
<feComponentTransfer in="v4" result="c4"><feFuncR type="table" tableValues="0.050 0.132 0.193 0.248 0.300 0.350 0.399 0.448 0.495 0.541 0.584 0.626 0.665 0.702 0.736 0.768 0.798 0.827 0.853 0.878 0.902 0.923 0.943 0.959 0.973 0.984 0.991 0.994 0.993 0.987 0.974 0.957 0.940"/><feFuncG type="table" tableValues="0.030 0.022 0.018 0.014 0.010 0.004 0.001 0.002 0.012 0.035 0.069 0.103 0.139 0.174 0.209 0.245 0.280 0.316 0.352 0.388 0.425 0.463 0.503 0.543 0.586 0.630 0.675 0.723 0.772 0.822 0.875 0.928 0.975"/><feFuncB type="table" tableValues="0.528 0.563 0.590 0.613 0.632 0.646 0.656 0.660 0.658 0.649 0.633 0.611 0.586 0.557 0.528 0.498 0.470 0.441 0.414 0.387 0.360 0.333 0.306 0.279 0.252 0.225 0.198 0.174 0.155 0.144 0.144 0.152 0.131"/><feFuncA type="linear" slope="0" intercept="1"/></feComponentTransfer>
<feColorMatrix in="t1" type="matrix" values="0 0 1 0 0 0 0 1 0 0 0 0 1 0 0 0 0 0 0 1" result="n5"/>
<feComposite in="SourceGraphic" in2="n5" operator="arithmetic" k1="0.0000" k2="1.0000" k3="3.4579" k4="-1.7290" result="v5"/>
<feComponentTransfer in="v5" result="c5"><feFuncR type="table" tableValues="0.050 0.132 0.193 0.248 0.300 0.350 0.399 0.448 0.495 0.541 0.584 0.626 0.665 0.702 0.736 0.768 0.798 0.827 0.853 0.878 0.902 0.923 0.943 0.959 0.973 0.984 0.991 0.994 0.993 0.987 0.974 0.957 0.940"/><feFuncG type="table" tableValues="0.030 0.022 0.018 0.014 0.010 0.004 0.001 0.002 0.012 0.035 0.069 0.103 0.139 0.174 0.209 0.245 0.280 0.316 0.352 0.388 0.425 0.463 0.503 0.543 0.586 0.630 0.675 0.723 0.772 0.822 0.875 0.928 0.975"/><feFuncB type="table" tableValues="0.528 0.563 0.590 0.613 0.632 0.646 0.656 0.660 0.658 0.649 0.633 0.611 0.586 0.557 0.528 0.498 0.470 0.441 0.414 0.387 0.360 0.333 0.306 0.279 0.252 0.225 0.198 0.174 0.155 0.144 0.144 0.152 0.131"/><feFuncA type="linear" slope="0" intercept="1"/></feComponentTransfer>
<feComposite in="c0" in2="c1" operator="arithmetic" k2="0.5" k3="0.5" result="m0"/>
<feComposite in="m0" in2="c2" operator="arithmetic" k2="0.6667" k3="0.3333" result="ma"/>
<feComposite in="c3" in2="c4" operator="arithmetic" k2="0.5" k3="0.5" result="m1"/>
<feComposite in="m1" in2="c5" operator="arithmetic" k2="0.6667" k3="0.3333" result="mb"/>
<feComposite in="ma" in2="mb" operator="arithmetic" k2="0.5" k3="0.5" result="m"/>
<feConvolveMatrix in="m" order="3" kernelMatrix="0.00903 0.07695 0.00903 0.07695 0.65610 0.07695 0.00903 0.07695 0.00903" divisor="1" edgeMode="duplicate" preserveAlpha="true" result="bl"/>

<feComposite in="bl" in2="SourceGraphic" operator="in"/>
</filter>
<g clip-path="url(#cb15)" filter="url(#f15)">
<linearGradient id="g15" gradientUnits="userSpaceOnUse" x1="982.0" y1="0" x2="1803.0" y2="0"><stop offset="0.0" stop-color="rgb(125,125,125)"/><stop offset="0.2655" stop-color="rgb(122,122,122)"/><stop offset="0.3873" stop-color="rgb(115,115,115)"/><stop offset="0.6309" stop-color="rgb(110,110,110)"/><stop offset="0.9233" stop-color="rgb(107,107,107)"/><stop offset="0.9537" stop-color="rgb(128,128,128)"/><stop offset="1.0" stop-color="rgb(135,135,135)"/></linearGradient>
<rect x="980.0" y="728.4" width="825.0" height="73.2" fill="url(#g15)"/>
<rect x="1199.0" y="733.2" width="14.0" height="65.9" fill="url(#sg)" opacity="0.22"/>
<rect x="1261.0" y="732.8" width="14.0" height="65.9" fill="url(#sg)" opacity="0.22"/>
<rect x="1499.0" y="731.3" width="14.0" height="65.7" fill="url(#sg)" opacity="0.2"/>
<path d="M982.0,737.10 L1084.6,736.45 L1187.2,735.80 L1289.9,735.15 L1392.5,734.50 L1495.1,733.85 L1597.8,733.20 L1700.4,732.55 L1803.0,731.90" fill="none" stroke="#000" stroke-width="2.0" stroke-opacity="0.7"/>
</g>
<path d="M981.6,167.00 L1084.3,165.72 L1187.0,164.45 L1289.6,163.18 L1392.3,161.90 L1495.0,160.62 L1597.7,159.35 L1700.3,158.08 L1803.0,156.80" fill="none" stroke="#000" stroke-width="2.6"/>
<path d="M981.6,167.00 L1084.3,165.72 L1187.0,164.45 L1289.6,163.18 L1392.3,161.90 L1495.0,160.62 L1597.7,159.35 L1700.3,158.08 L1803.0,156.80" fill="none" stroke="#fff" stroke-width="2.6" stroke-dasharray="10.15 9.85"/>
<path d="M981.6,182.90 L1084.3,181.64 L1187.0,180.38 L1289.6,179.11 L1392.3,177.85 L1495.0,176.59 L1597.7,175.33 L1700.3,174.06 L1803.0,172.80" fill="none" stroke="#000" stroke-width="2.6"/>
<path d="M981.6,182.90 L1084.3,181.64 L1187.0,180.38 L1289.6,179.11 L1392.3,177.85 L1495.0,176.59 L1597.7,175.33 L1700.3,174.06 L1803.0,172.80" fill="none" stroke="#fff" stroke-width="2.6" stroke-dasharray="10.15 9.85"/>
<path d="M981.6,203.10 L1084.3,201.84 L1187.0,200.57 L1289.6,199.31 L1392.3,198.05 L1495.0,196.79 L1597.7,195.53 L1700.3,194.26 L1803.0,193.00" fill="none" stroke="#000" stroke-width="2.6"/>
<path d="M981.6,203.10 L1084.3,201.84 L1187.0,200.57 L1289.6,199.31 L1392.3,198.05 L1495.0,196.79 L1597.7,195.53 L1700.3,194.26 L1803.0,193.00" fill="none" stroke="#fff" stroke-width="2.6" stroke-dasharray="10.15 9.85"/>
<path d="M981.6,218.80 L1084.3,217.58 L1187.0,216.35 L1289.6,215.12 L1392.3,213.90 L1495.0,212.68 L1597.7,211.45 L1700.3,210.22 L1803.0,209.00" fill="none" stroke="#000" stroke-width="2.6"/>
<path d="M981.6,218.80 L1084.3,217.58 L1187.0,216.35 L1289.6,215.12 L1392.3,213.90 L1495.0,212.68 L1597.7,211.45 L1700.3,210.22 L1803.0,209.00" fill="none" stroke="#fff" stroke-width="2.6" stroke-dasharray="10.15 9.85"/>
<path d="M981.6,249.40 L1084.3,248.26 L1187.0,247.12 L1289.6,245.99 L1392.3,244.85 L1495.0,243.71 L1597.7,242.58 L1700.3,241.44 L1803.0,240.30" fill="none" stroke="#000" stroke-width="2.6"/>
<path d="M981.6,249.40 L1084.3,248.26 L1187.0,247.12 L1289.6,245.99 L1392.3,244.85 L1495.0,243.71 L1597.7,242.58 L1700.3,241.44 L1803.0,240.30" fill="none" stroke="#fff" stroke-width="2.6" stroke-dasharray="10.15 9.85"/>
<path d="M981.6,265.70 L1084.3,264.52 L1187.0,263.35 L1289.6,262.18 L1392.3,261.00 L1495.0,259.82 L1597.7,258.65 L1700.3,257.48 L1803.0,256.30" fill="none" stroke="#000" stroke-width="2.6"/>
<path d="M981.6,265.70 L1084.3,264.52 L1187.0,263.35 L1289.6,262.18 L1392.3,261.00 L1495.0,259.82 L1597.7,258.65 L1700.3,257.48 L1803.0,256.30" fill="none" stroke="#fff" stroke-width="2.6" stroke-dasharray="10.15 9.85"/>
<path d="M981.6,286.00 L1084.3,284.81 L1187.0,283.62 L1289.6,282.44 L1392.3,281.25 L1495.0,280.06 L1597.7,278.88 L1700.3,277.69 L1803.0,276.50" fill="none" stroke="#000" stroke-width="2.6"/>
<path d="M981.6,286.00 L1084.3,284.81 L1187.0,283.62 L1289.6,282.44 L1392.3,281.25 L1495.0,280.06 L1597.7,278.88 L1700.3,277.69 L1803.0,276.50" fill="none" stroke="#fff" stroke-width="2.6" stroke-dasharray="10.15 9.85"/>
<path d="M981.6,301.60 L1084.3,300.46 L1187.0,299.33 L1289.6,298.19 L1392.3,297.05 L1495.0,295.91 L1597.7,294.77 L1700.3,293.64 L1803.0,292.50" fill="none" stroke="#000" stroke-width="2.6"/>
<path d="M981.6,301.60 L1084.3,300.46 L1187.0,299.33 L1289.6,298.19 L1392.3,297.05 L1495.0,295.91 L1597.7,294.77 L1700.3,293.64 L1803.0,292.50" fill="none" stroke="#fff" stroke-width="2.6" stroke-dasharray="10.15 9.85"/>
<path d="M981.6,345.30 L1084.3,344.40 L1187.0,343.50 L1289.6,342.60 L1392.3,341.70 L1495.0,340.80 L1597.7,339.90 L1700.3,339.00 L1803.0,338.10" fill="none" stroke="#000" stroke-width="2.6"/>
<path d="M981.6,345.30 L1084.3,344.40 L1187.0,343.50 L1289.6,342.60 L1392.3,341.70 L1495.0,340.80 L1597.7,339.90 L1700.3,339.00 L1803.0,338.10" fill="none" stroke="#fff" stroke-width="2.6" stroke-dasharray="10.15 9.85"/>
<path d="M981.6,361.30 L1084.3,360.36 L1187.0,359.43 L1289.6,358.49 L1392.3,357.55 L1495.0,356.61 L1597.7,355.68 L1700.3,354.74 L1803.0,353.80" fill="none" stroke="#000" stroke-width="2.6"/>
<path d="M981.6,361.30 L1084.3,360.36 L1187.0,359.43 L1289.6,358.49 L1392.3,357.55 L1495.0,356.61 L1597.7,355.68 L1700.3,354.74 L1803.0,353.80" fill="none" stroke="#fff" stroke-width="2.6" stroke-dasharray="10.15 9.85"/>
<path d="M981.6,382.10 L1084.3,381.16 L1187.0,380.23 L1289.6,379.29 L1392.3,378.35 L1495.0,377.41 L1597.7,376.48 L1700.3,375.54 L1803.0,374.60" fill="none" stroke="#000" stroke-width="2.6"/>
<path d="M981.6,382.10 L1084.3,381.16 L1187.0,380.23 L1289.6,379.29 L1392.3,378.35 L1495.0,377.41 L1597.7,376.48 L1700.3,375.54 L1803.0,374.60" fill="none" stroke="#fff" stroke-width="2.6" stroke-dasharray="10.15 9.85"/>
<path d="M981.6,397.80 L1084.3,396.90 L1187.0,396.00 L1289.6,395.10 L1392.3,394.20 L1495.0,393.30 L1597.7,392.40 L1700.3,391.50 L1803.0,390.60" fill="none" stroke="#000" stroke-width="2.6"/>
<path d="M981.6,397.80 L1084.3,396.90 L1187.0,396.00 L1289.6,395.10 L1392.3,394.20 L1495.0,393.30 L1597.7,392.40 L1700.3,391.50 L1803.0,390.60" fill="none" stroke="#fff" stroke-width="2.6" stroke-dasharray="10.15 9.85"/>
<path d="M981.6,455.30 L1084.3,454.29 L1187.0,453.27 L1289.6,452.26 L1392.3,451.25 L1495.0,450.24 L1597.7,449.23 L1700.3,448.21 L1803.0,447.20" fill="none" stroke="#000" stroke-width="2.6"/>
<path d="M981.6,455.30 L1084.3,454.29 L1187.0,453.27 L1289.6,452.26 L1392.3,451.25 L1495.0,450.24 L1597.7,449.23 L1700.3,448.21 L1803.0,447.20" fill="none" stroke="#fff" stroke-width="2.6" stroke-dasharray="10.15 9.85"/>
<path d="M981.6,471.60 L1084.3,470.59 L1187.0,469.58 L1289.6,468.56 L1392.3,467.55 L1495.0,466.54 L1597.7,465.52 L1700.3,464.51 L1803.0,463.50" fill="none" stroke="#000" stroke-width="2.6"/>
<path d="M981.6,471.60 L1084.3,470.59 L1187.0,469.58 L1289.6,468.56 L1392.3,467.55 L1495.0,466.54 L1597.7,465.52 L1700.3,464.51 L1803.0,463.50" fill="none" stroke="#fff" stroke-width="2.6" stroke-dasharray="10.15 9.85"/>
<path d="M981.6,492.20 L1084.3,491.18 L1187.0,490.15 L1289.6,489.12 L1392.3,488.10 L1495.0,487.07 L1597.7,486.05 L1700.3,485.02 L1803.0,484.00" fill="none" stroke="#000" stroke-width="2.6"/>
<path d="M981.6,492.20 L1084.3,491.18 L1187.0,490.15 L1289.6,489.12 L1392.3,488.10 L1495.0,487.07 L1597.7,486.05 L1700.3,485.02 L1803.0,484.00" fill="none" stroke="#fff" stroke-width="2.6" stroke-dasharray="10.15 9.85"/>
<path d="M981.6,508.50 L1084.3,507.48 L1187.0,506.45 L1289.6,505.43 L1392.3,504.40 L1495.0,503.38 L1597.7,502.35 L1700.3,501.32 L1803.0,500.30" fill="none" stroke="#000" stroke-width="2.6"/>
<path d="M981.6,508.50 L1084.3,507.48 L1187.0,506.45 L1289.6,505.43 L1392.3,504.40 L1495.0,503.38 L1597.7,502.35 L1700.3,501.32 L1803.0,500.30" fill="none" stroke="#fff" stroke-width="2.6" stroke-dasharray="10.15 9.85"/>
<path d="M981.6,585.70 L1084.3,584.89 L1187.0,584.08 L1289.6,583.26 L1392.3,582.45 L1495.0,581.64 L1597.7,580.83 L1700.3,580.01 L1803.0,579.20" fill="none" stroke="#000" stroke-width="2.6"/>
<path d="M981.6,585.70 L1084.3,584.89 L1187.0,584.08 L1289.6,583.26 L1392.3,582.45 L1495.0,581.64 L1597.7,580.83 L1700.3,580.01 L1803.0,579.20" fill="none" stroke="#fff" stroke-width="2.6" stroke-dasharray="10.15 9.85"/>
<path d="M981.6,602.00 L1084.3,601.19 L1187.0,600.38 L1289.6,599.56 L1392.3,598.75 L1495.0,597.94 L1597.7,597.12 L1700.3,596.31 L1803.0,595.50" fill="none" stroke="#000" stroke-width="2.6"/>
<path d="M981.6,602.00 L1084.3,601.19 L1187.0,600.38 L1289.6,599.56 L1392.3,598.75 L1495.0,597.94 L1597.7,597.12 L1700.3,596.31 L1803.0,595.50" fill="none" stroke="#fff" stroke-width="2.6" stroke-dasharray="10.15 9.85"/>
<path d="M981.6,622.90 L1084.3,622.09 L1187.0,621.27 L1289.6,620.46 L1392.3,619.65 L1495.0,618.84 L1597.7,618.02 L1700.3,617.21 L1803.0,616.40" fill="none" stroke="#000" stroke-width="2.6"/>
<path d="M981.6,622.90 L1084.3,622.09 L1187.0,621.27 L1289.6,620.46 L1392.3,619.65 L1495.0,618.84 L1597.7,618.02 L1700.3,617.21 L1803.0,616.40" fill="none" stroke="#fff" stroke-width="2.6" stroke-dasharray="10.15 9.85"/>
<path d="M981.6,638.90 L1084.3,638.09 L1187.0,637.27 L1289.6,636.46 L1392.3,635.65 L1495.0,634.84 L1597.7,634.02 L1700.3,633.21 L1803.0,632.40" fill="none" stroke="#000" stroke-width="2.6"/>
<path d="M981.6,638.90 L1084.3,638.09 L1187.0,637.27 L1289.6,636.46 L1392.3,635.65 L1495.0,634.84 L1597.7,634.02 L1700.3,633.21 L1803.0,632.40" fill="none" stroke="#fff" stroke-width="2.6" stroke-dasharray="10.15 9.85"/>
<path d="M981.6,742.20 L1084.3,741.55 L1187.0,740.90 L1289.6,740.25 L1392.3,739.60 L1495.0,738.95 L1597.7,738.30 L1700.3,737.65 L1803.0,737.00" fill="none" stroke="#000" stroke-width="2.6"/>
<path d="M981.6,742.20 L1084.3,741.55 L1187.0,740.90 L1289.6,740.25 L1392.3,739.60 L1495.0,738.95 L1597.7,738.30 L1700.3,737.65 L1803.0,737.00" fill="none" stroke="#fff" stroke-width="2.6" stroke-dasharray="10.15 9.85"/>
<path d="M981.6,758.10 L1084.3,757.38 L1187.0,756.65 L1289.6,755.92 L1392.3,755.20 L1495.0,754.48 L1597.7,753.75 L1700.3,753.02 L1803.0,752.30" fill="none" stroke="#000" stroke-width="2.6"/>
<path d="M981.6,758.10 L1084.3,757.38 L1187.0,756.65 L1289.6,755.92 L1392.3,755.20 L1495.0,754.48 L1597.7,753.75 L1700.3,753.02 L1803.0,752.30" fill="none" stroke="#fff" stroke-width="2.6" stroke-dasharray="10.15 9.85"/>
<path d="M981.6,779.00 L1084.3,778.31 L1187.0,777.62 L1289.6,776.94 L1392.3,776.25 L1495.0,775.56 L1597.7,774.88 L1700.3,774.19 L1803.0,773.50" fill="none" stroke="#000" stroke-width="2.6"/>
<path d="M981.6,779.00 L1084.3,778.31 L1187.0,777.62 L1289.6,776.94 L1392.3,776.25 L1495.0,775.56 L1597.7,774.88 L1700.3,774.19 L1803.0,773.50" fill="none" stroke="#fff" stroke-width="2.6" stroke-dasharray="10.15 9.85"/>
<path d="M981.6,795.00 L1084.3,794.23 L1187.0,793.45 L1289.6,792.67 L1392.3,791.90 L1495.0,791.12 L1597.7,790.35 L1700.3,789.57 L1803.0,788.80" fill="none" stroke="#000" stroke-width="2.6"/>
<path d="M981.6,795.00 L1084.3,794.23 L1187.0,793.45 L1289.6,792.67 L1392.3,791.90 L1495.0,791.12 L1597.7,790.35 L1700.3,789.57 L1803.0,788.80" fill="none" stroke="#fff" stroke-width="2.6" stroke-dasharray="10.15 9.85"/>
</g>
<g clip-path="url(#ca2)">
<clipPath id="cb20"><path d="M1845.0,152.20 L1947.6,150.97 L2050.1,149.75 L2152.7,148.53 L2255.2,147.30 L2357.8,146.07 L2460.4,144.85 L2562.9,143.62 L2665.5,142.40 L2665.5,202.40 L2562.9,203.54 L2460.4,204.68 L2357.8,205.81 L2255.2,206.95 L2152.7,208.09 L2050.1,209.22 L1947.6,210.36 L1845.0,211.50Z"/></clipPath>
<filter id="f20" filterUnits="userSpaceOnUse" x="1843.0" y="139.4" width="824.5" height="75.1" color-interpolation-filters="sRGB">
<feTurbulence type="fractalNoise" baseFrequency="2.37 2.71" numOctaves="1" seed="17" result="t0"/>
<feTurbulence type="fractalNoise" baseFrequency="2.53 2.29" numOctaves="1" seed="28" result="t1"/>
<feColorMatrix in="t0" type="matrix" values="1 0 0 0 0 1 0 0 0 0 1 0 0 0 0 0 0 0 0 1" result="n0"/>
<feComposite in="SourceGraphic" in2="n0" operator="arithmetic" k1="2.3364" k2="-0.1682" k3="0.2056" k4="-0.1028" result="v0"/>
<feComponentTransfer in="v0" result="c0"><feFuncR type="table" tableValues="0.050 0.132 0.193 0.248 0.300 0.350 0.399 0.448 0.495 0.541 0.584 0.626 0.665 0.702 0.736 0.768 0.798 0.827 0.853 0.878 0.902 0.923 0.943 0.959 0.973 0.984 0.991 0.994 0.993 0.987 0.974 0.957 0.940"/><feFuncG type="table" tableValues="0.030 0.022 0.018 0.014 0.010 0.004 0.001 0.002 0.012 0.035 0.069 0.103 0.139 0.174 0.209 0.245 0.280 0.316 0.352 0.388 0.425 0.463 0.503 0.543 0.586 0.630 0.675 0.723 0.772 0.822 0.875 0.928 0.975"/><feFuncB type="table" tableValues="0.528 0.563 0.590 0.613 0.632 0.646 0.656 0.660 0.658 0.649 0.633 0.611 0.586 0.557 0.528 0.498 0.470 0.441 0.414 0.387 0.360 0.333 0.306 0.279 0.252 0.225 0.198 0.174 0.155 0.144 0.144 0.152 0.131"/><feFuncA type="linear" slope="0" intercept="1"/></feComponentTransfer>
<feColorMatrix in="t0" type="matrix" values="0 1 0 0 0 0 1 0 0 0 0 1 0 0 0 0 0 0 0 1" result="n1"/>
<feComposite in="SourceGraphic" in2="n1" operator="arithmetic" k1="2.3364" k2="-0.1682" k3="0.2056" k4="-0.1028" result="v1"/>
<feComponentTransfer in="v1" result="c1"><feFuncR type="table" tableValues="0.050 0.132 0.193 0.248 0.300 0.350 0.399 0.448 0.495 0.541 0.584 0.626 0.665 0.702 0.736 0.768 0.798 0.827 0.853 0.878 0.902 0.923 0.943 0.959 0.973 0.984 0.991 0.994 0.993 0.987 0.974 0.957 0.940"/><feFuncG type="table" tableValues="0.030 0.022 0.018 0.014 0.010 0.004 0.001 0.002 0.012 0.035 0.069 0.103 0.139 0.174 0.209 0.245 0.280 0.316 0.352 0.388 0.425 0.463 0.503 0.543 0.586 0.630 0.675 0.723 0.772 0.822 0.875 0.928 0.975"/><feFuncB type="table" tableValues="0.528 0.563 0.590 0.613 0.632 0.646 0.656 0.660 0.658 0.649 0.633 0.611 0.586 0.557 0.528 0.498 0.470 0.441 0.414 0.387 0.360 0.333 0.306 0.279 0.252 0.225 0.198 0.174 0.155 0.144 0.144 0.152 0.131"/><feFuncA type="linear" slope="0" intercept="1"/></feComponentTransfer>
<feColorMatrix in="t0" type="matrix" values="0 0 1 0 0 0 0 1 0 0 0 0 1 0 0 0 0 0 0 1" result="n2"/>
<feComposite in="SourceGraphic" in2="n2" operator="arithmetic" k1="2.3364" k2="-0.1682" k3="0.2056" k4="-0.1028" result="v2"/>
<feComponentTransfer in="v2" result="c2"><feFuncR type="table" tableValues="0.050 0.132 0.193 0.248 0.300 0.350 0.399 0.448 0.495 0.541 0.584 0.626 0.665 0.702 0.736 0.768 0.798 0.827 0.853 0.878 0.902 0.923 0.943 0.959 0.973 0.984 0.991 0.994 0.993 0.987 0.974 0.957 0.940"/><feFuncG type="table" tableValues="0.030 0.022 0.018 0.014 0.010 0.004 0.001 0.002 0.012 0.035 0.069 0.103 0.139 0.174 0.209 0.245 0.280 0.316 0.352 0.388 0.425 0.463 0.503 0.543 0.586 0.630 0.675 0.723 0.772 0.822 0.875 0.928 0.975"/><feFuncB type="table" tableValues="0.528 0.563 0.590 0.613 0.632 0.646 0.656 0.660 0.658 0.649 0.633 0.611 0.586 0.557 0.528 0.498 0.470 0.441 0.414 0.387 0.360 0.333 0.306 0.279 0.252 0.225 0.198 0.174 0.155 0.144 0.144 0.152 0.131"/><feFuncA type="linear" slope="0" intercept="1"/></feComponentTransfer>
<feColorMatrix in="t1" type="matrix" values="1 0 0 0 0 1 0 0 0 0 1 0 0 0 0 0 0 0 0 1" result="n3"/>
<feComposite in="SourceGraphic" in2="n3" operator="arithmetic" k1="2.3364" k2="-0.1682" k3="0.2056" k4="-0.1028" result="v3"/>
<feComponentTransfer in="v3" result="c3"><feFuncR type="table" tableValues="0.050 0.132 0.193 0.248 0.300 0.350 0.399 0.448 0.495 0.541 0.584 0.626 0.665 0.702 0.736 0.768 0.798 0.827 0.853 0.878 0.902 0.923 0.943 0.959 0.973 0.984 0.991 0.994 0.993 0.987 0.974 0.957 0.940"/><feFuncG type="table" tableValues="0.030 0.022 0.018 0.014 0.010 0.004 0.001 0.002 0.012 0.035 0.069 0.103 0.139 0.174 0.209 0.245 0.280 0.316 0.352 0.388 0.425 0.463 0.503 0.543 0.586 0.630 0.675 0.723 0.772 0.822 0.875 0.928 0.975"/><feFuncB type="table" tableValues="0.528 0.563 0.590 0.613 0.632 0.646 0.656 0.660 0.658 0.649 0.633 0.611 0.586 0.557 0.528 0.498 0.470 0.441 0.414 0.387 0.360 0.333 0.306 0.279 0.252 0.225 0.198 0.174 0.155 0.144 0.144 0.152 0.131"/><feFuncA type="linear" slope="0" intercept="1"/></feComponentTransfer>
<feColorMatrix in="t1" type="matrix" values="0 1 0 0 0 0 1 0 0 0 0 1 0 0 0 0 0 0 0 1" result="n4"/>
<feComposite in="SourceGraphic" in2="n4" operator="arithmetic" k1="2.3364" k2="-0.1682" k3="0.2056" k4="-0.1028" result="v4"/>
<feComponentTransfer in="v4" result="c4"><feFuncR type="table" tableValues="0.050 0.132 0.193 0.248 0.300 0.350 0.399 0.448 0.495 0.541 0.584 0.626 0.665 0.702 0.736 0.768 0.798 0.827 0.853 0.878 0.902 0.923 0.943 0.959 0.973 0.984 0.991 0.994 0.993 0.987 0.974 0.957 0.940"/><feFuncG type="table" tableValues="0.030 0.022 0.018 0.014 0.010 0.004 0.001 0.002 0.012 0.035 0.069 0.103 0.139 0.174 0.209 0.245 0.280 0.316 0.352 0.388 0.425 0.463 0.503 0.543 0.586 0.630 0.675 0.723 0.772 0.822 0.875 0.928 0.975"/><feFuncB type="table" tableValues="0.528 0.563 0.590 0.613 0.632 0.646 0.656 0.660 0.658 0.649 0.633 0.611 0.586 0.557 0.528 0.498 0.470 0.441 0.414 0.387 0.360 0.333 0.306 0.279 0.252 0.225 0.198 0.174 0.155 0.144 0.144 0.152 0.131"/><feFuncA type="linear" slope="0" intercept="1"/></feComponentTransfer>
<feColorMatrix in="t1" type="matrix" values="0 0 1 0 0 0 0 1 0 0 0 0 1 0 0 0 0 0 0 1" result="n5"/>
<feComposite in="SourceGraphic" in2="n5" operator="arithmetic" k1="2.3364" k2="-0.1682" k3="0.2056" k4="-0.1028" result="v5"/>
<feComponentTransfer in="v5" result="c5"><feFuncR type="table" tableValues="0.050 0.132 0.193 0.248 0.300 0.350 0.399 0.448 0.495 0.541 0.584 0.626 0.665 0.702 0.736 0.768 0.798 0.827 0.853 0.878 0.902 0.923 0.943 0.959 0.973 0.984 0.991 0.994 0.993 0.987 0.974 0.957 0.940"/><feFuncG type="table" tableValues="0.030 0.022 0.018 0.014 0.010 0.004 0.001 0.002 0.012 0.035 0.069 0.103 0.139 0.174 0.209 0.245 0.280 0.316 0.352 0.388 0.425 0.463 0.503 0.543 0.586 0.630 0.675 0.723 0.772 0.822 0.875 0.928 0.975"/><feFuncB type="table" tableValues="0.528 0.563 0.590 0.613 0.632 0.646 0.656 0.660 0.658 0.649 0.633 0.611 0.586 0.557 0.528 0.498 0.470 0.441 0.414 0.387 0.360 0.333 0.306 0.279 0.252 0.225 0.198 0.174 0.155 0.144 0.144 0.152 0.131"/><feFuncA type="linear" slope="0" intercept="1"/></feComponentTransfer>
<feComposite in="c0" in2="c1" operator="arithmetic" k2="0.5" k3="0.5" result="m0"/>
<feComposite in="m0" in2="c2" operator="arithmetic" k2="0.6667" k3="0.3333" result="ma"/>
<feComposite in="c3" in2="c4" operator="arithmetic" k2="0.5" k3="0.5" result="m1"/>
<feComposite in="m1" in2="c5" operator="arithmetic" k2="0.6667" k3="0.3333" result="mb"/>
<feComposite in="ma" in2="mb" operator="arithmetic" k2="0.5" k3="0.5" result="m"/>
<feConvolveMatrix in="m" order="3" kernelMatrix="0.00903 0.07695 0.00903 0.07695 0.65610 0.07695 0.00903 0.07695 0.00903" divisor="1" edgeMode="duplicate" preserveAlpha="true" result="bl"/>

<feComposite in="bl" in2="SourceGraphic" operator="in"/>
</filter>
<g clip-path="url(#cb20)" filter="url(#f20)">
<linearGradient id="g20" gradientUnits="userSpaceOnUse" x1="1845.0" y1="0" x2="2665.5" y2="0"><stop offset="0" stop-color="rgb(24,24,24)"/><stop offset="1" stop-color="rgb(24,24,24)"/></linearGradient>
<rect x="1843.0" y="139.4" width="824.5" height="75.1" fill="url(#g20)"/>
<linearGradient id="ht20_12_50" gradientUnits="userSpaceOnUse" x1="1845.0" y1="0" x2="2665.5" y2="0"><stop offset="0.000" stop-color="#fff" stop-opacity="0.400"/><stop offset="1.000" stop-color="#fff" stop-opacity="0.400"/></linearGradient><path d="M1845.0,164.10 L1947.6,162.96 L2050.1,161.81 L2152.7,160.67 L2255.2,159.53 L2357.8,158.38 L2460.4,157.24 L2562.9,156.09 L2665.5,154.95" fill="none" stroke="url(#ht20_12_50)" stroke-width="6.72" stroke-opacity="0.12"/><path d="M1845.0,164.10 L1947.6,162.96 L2050.1,161.81 L2152.7,160.67 L2255.2,159.53 L2357.8,158.38 L2460.4,157.24 L2562.9,156.09 L2665.5,154.95" fill="none" stroke="url(#ht20_12_50)" stroke-width="4.20" stroke-opacity="0.2"/><path d="M1845.0,164.10 L1947.6,162.96 L2050.1,161.81 L2152.7,160.67 L2255.2,159.53 L2357.8,158.38 L2460.4,157.24 L2562.9,156.09 L2665.5,154.95" fill="none" stroke="url(#ht20_12_50)" stroke-width="2.52" stroke-opacity="0.3"/><path d="M1845.0,164.10 L1947.6,162.96 L2050.1,161.81 L2152.7,160.67 L2255.2,159.53 L2357.8,158.38 L2460.4,157.24 L2562.9,156.09 L2665.5,154.95" fill="none" stroke="url(#ht20_12_50)" stroke-width="1.40" stroke-opacity="0.38"/>
<linearGradient id="ht20_34_50" gradientUnits="userSpaceOnUse" x1="1845.0" y1="0" x2="2665.5" y2="0"><stop offset="0.000" stop-color="#fff" stop-opacity="0.400"/><stop offset="1.000" stop-color="#fff" stop-opacity="0.400"/></linearGradient><path d="M1845.0,200.10 L1947.6,198.96 L2050.1,197.81 L2152.7,196.67 L2255.2,195.53 L2357.8,194.38 L2460.4,193.24 L2562.9,192.09 L2665.5,190.95" fill="none" stroke="url(#ht20_34_50)" stroke-width="6.72" stroke-opacity="0.12"/><path d="M1845.0,200.10 L1947.6,198.96 L2050.1,197.81 L2152.7,196.67 L2255.2,195.53 L2357.8,194.38 L2460.4,193.24 L2562.9,192.09 L2665.5,190.95" fill="none" stroke="url(#ht20_34_50)" stroke-width="4.20" stroke-opacity="0.2"/><path d="M1845.0,200.10 L1947.6,198.96 L2050.1,197.81 L2152.7,196.67 L2255.2,195.53 L2357.8,194.38 L2460.4,193.24 L2562.9,192.09 L2665.5,190.95" fill="none" stroke="url(#ht20_34_50)" stroke-width="2.52" stroke-opacity="0.3"/><path d="M1845.0,200.10 L1947.6,198.96 L2050.1,197.81 L2152.7,196.67 L2255.2,195.53 L2357.8,194.38 L2460.4,193.24 L2562.9,192.09 L2665.5,190.95" fill="none" stroke="url(#ht20_34_50)" stroke-width="1.40" stroke-opacity="0.38"/>
<path d="M1845.0,153.20 L1947.6,151.97 L2050.1,150.75 L2152.7,149.53 L2255.2,148.30 L2357.8,147.07 L2460.4,145.85 L2562.9,144.62 L2665.5,143.40" fill="none" stroke="#000" stroke-width="3.0" stroke-opacity="0.45"/>
</g>
<clipPath id="cb21"><path d="M1845.0,235.00 L1947.6,233.94 L2050.1,232.88 L2152.7,231.81 L2255.2,230.75 L2357.8,229.69 L2460.4,228.62 L2562.9,227.56 L2665.5,226.50 L2665.5,286.50 L2562.9,287.60 L2460.4,288.70 L2357.8,289.80 L2255.2,290.90 L2152.7,292.00 L2050.1,293.10 L1947.6,294.20 L1845.0,295.30Z"/></clipPath>
<filter id="f21" filterUnits="userSpaceOnUse" x="1843.0" y="223.5" width="824.5" height="74.8" color-interpolation-filters="sRGB">
<feTurbulence type="fractalNoise" baseFrequency="2.37 2.71" numOctaves="1" seed="30" result="t0"/>
<feTurbulence type="fractalNoise" baseFrequency="2.53 2.29" numOctaves="1" seed="41" result="t1"/>
<feColorMatrix in="t0" type="matrix" values="1 0 0 0 0 1 0 0 0 0 1 0 0 0 0 0 0 0 0 1" result="n0"/>
<feComposite in="SourceGraphic" in2="n0" operator="arithmetic" k1="2.3364" k2="-0.1682" k3="0.2617" k4="-0.1308" result="v0"/>
<feComponentTransfer in="v0" result="c0"><feFuncR type="table" tableValues="0.050 0.132 0.193 0.248 0.300 0.350 0.399 0.448 0.495 0.541 0.584 0.626 0.665 0.702 0.736 0.768 0.798 0.827 0.853 0.878 0.902 0.923 0.943 0.959 0.973 0.984 0.991 0.994 0.993 0.987 0.974 0.957 0.940"/><feFuncG type="table" tableValues="0.030 0.022 0.018 0.014 0.010 0.004 0.001 0.002 0.012 0.035 0.069 0.103 0.139 0.174 0.209 0.245 0.280 0.316 0.352 0.388 0.425 0.463 0.503 0.543 0.586 0.630 0.675 0.723 0.772 0.822 0.875 0.928 0.975"/><feFuncB type="table" tableValues="0.528 0.563 0.590 0.613 0.632 0.646 0.656 0.660 0.658 0.649 0.633 0.611 0.586 0.557 0.528 0.498 0.470 0.441 0.414 0.387 0.360 0.333 0.306 0.279 0.252 0.225 0.198 0.174 0.155 0.144 0.144 0.152 0.131"/><feFuncA type="linear" slope="0" intercept="1"/></feComponentTransfer>
<feColorMatrix in="t0" type="matrix" values="0 1 0 0 0 0 1 0 0 0 0 1 0 0 0 0 0 0 0 1" result="n1"/>
<feComposite in="SourceGraphic" in2="n1" operator="arithmetic" k1="2.3364" k2="-0.1682" k3="0.2617" k4="-0.1308" result="v1"/>
<feComponentTransfer in="v1" result="c1"><feFuncR type="table" tableValues="0.050 0.132 0.193 0.248 0.300 0.350 0.399 0.448 0.495 0.541 0.584 0.626 0.665 0.702 0.736 0.768 0.798 0.827 0.853 0.878 0.902 0.923 0.943 0.959 0.973 0.984 0.991 0.994 0.993 0.987 0.974 0.957 0.940"/><feFuncG type="table" tableValues="0.030 0.022 0.018 0.014 0.010 0.004 0.001 0.002 0.012 0.035 0.069 0.103 0.139 0.174 0.209 0.245 0.280 0.316 0.352 0.388 0.425 0.463 0.503 0.543 0.586 0.630 0.675 0.723 0.772 0.822 0.875 0.928 0.975"/><feFuncB type="table" tableValues="0.528 0.563 0.590 0.613 0.632 0.646 0.656 0.660 0.658 0.649 0.633 0.611 0.586 0.557 0.528 0.498 0.470 0.441 0.414 0.387 0.360 0.333 0.306 0.279 0.252 0.225 0.198 0.174 0.155 0.144 0.144 0.152 0.131"/><feFuncA type="linear" slope="0" intercept="1"/></feComponentTransfer>
<feColorMatrix in="t0" type="matrix" values="0 0 1 0 0 0 0 1 0 0 0 0 1 0 0 0 0 0 0 1" result="n2"/>
<feComposite in="SourceGraphic" in2="n2" operator="arithmetic" k1="2.3364" k2="-0.1682" k3="0.2617" k4="-0.1308" result="v2"/>
<feComponentTransfer in="v2" result="c2"><feFuncR type="table" tableValues="0.050 0.132 0.193 0.248 0.300 0.350 0.399 0.448 0.495 0.541 0.584 0.626 0.665 0.702 0.736 0.768 0.798 0.827 0.853 0.878 0.902 0.923 0.943 0.959 0.973 0.984 0.991 0.994 0.993 0.987 0.974 0.957 0.940"/><feFuncG type="table" tableValues="0.030 0.022 0.018 0.014 0.010 0.004 0.001 0.002 0.012 0.035 0.069 0.103 0.139 0.174 0.209 0.245 0.280 0.316 0.352 0.388 0.425 0.463 0.503 0.543 0.586 0.630 0.675 0.723 0.772 0.822 0.875 0.928 0.975"/><feFuncB type="table" tableValues="0.528 0.563 0.590 0.613 0.632 0.646 0.656 0.660 0.658 0.649 0.633 0.611 0.586 0.557 0.528 0.498 0.470 0.441 0.414 0.387 0.360 0.333 0.306 0.279 0.252 0.225 0.198 0.174 0.155 0.144 0.144 0.152 0.131"/><feFuncA type="linear" slope="0" intercept="1"/></feComponentTransfer>
<feColorMatrix in="t1" type="matrix" values="1 0 0 0 0 1 0 0 0 0 1 0 0 0 0 0 0 0 0 1" result="n3"/>
<feComposite in="SourceGraphic" in2="n3" operator="arithmetic" k1="2.3364" k2="-0.1682" k3="0.2617" k4="-0.1308" result="v3"/>
<feComponentTransfer in="v3" result="c3"><feFuncR type="table" tableValues="0.050 0.132 0.193 0.248 0.300 0.350 0.399 0.448 0.495 0.541 0.584 0.626 0.665 0.702 0.736 0.768 0.798 0.827 0.853 0.878 0.902 0.923 0.943 0.959 0.973 0.984 0.991 0.994 0.993 0.987 0.974 0.957 0.940"/><feFuncG type="table" tableValues="0.030 0.022 0.018 0.014 0.010 0.004 0.001 0.002 0.012 0.035 0.069 0.103 0.139 0.174 0.209 0.245 0.280 0.316 0.352 0.388 0.425 0.463 0.503 0.543 0.586 0.630 0.675 0.723 0.772 0.822 0.875 0.928 0.975"/><feFuncB type="table" tableValues="0.528 0.563 0.590 0.613 0.632 0.646 0.656 0.660 0.658 0.649 0.633 0.611 0.586 0.557 0.528 0.498 0.470 0.441 0.414 0.387 0.360 0.333 0.306 0.279 0.252 0.225 0.198 0.174 0.155 0.144 0.144 0.152 0.131"/><feFuncA type="linear" slope="0" intercept="1"/></feComponentTransfer>
<feColorMatrix in="t1" type="matrix" values="0 1 0 0 0 0 1 0 0 0 0 1 0 0 0 0 0 0 0 1" result="n4"/>
<feComposite in="SourceGraphic" in2="n4" operator="arithmetic" k1="2.3364" k2="-0.1682" k3="0.2617" k4="-0.1308" result="v4"/>
<feComponentTransfer in="v4" result="c4"><feFuncR type="table" tableValues="0.050 0.132 0.193 0.248 0.300 0.350 0.399 0.448 0.495 0.541 0.584 0.626 0.665 0.702 0.736 0.768 0.798 0.827 0.853 0.878 0.902 0.923 0.943 0.959 0.973 0.984 0.991 0.994 0.993 0.987 0.974 0.957 0.940"/><feFuncG type="table" tableValues="0.030 0.022 0.018 0.014 0.010 0.004 0.001 0.002 0.012 0.035 0.069 0.103 0.139 0.174 0.209 0.245 0.280 0.316 0.352 0.388 0.425 0.463 0.503 0.543 0.586 0.630 0.675 0.723 0.772 0.822 0.875 0.928 0.975"/><feFuncB type="table" tableValues="0.528 0.563 0.590 0.613 0.632 0.646 0.656 0.660 0.658 0.649 0.633 0.611 0.586 0.557 0.528 0.498 0.470 0.441 0.414 0.387 0.360 0.333 0.306 0.279 0.252 0.225 0.198 0.174 0.155 0.144 0.144 0.152 0.131"/><feFuncA type="linear" slope="0" intercept="1"/></feComponentTransfer>
<feColorMatrix in="t1" type="matrix" values="0 0 1 0 0 0 0 1 0 0 0 0 1 0 0 0 0 0 0 1" result="n5"/>
<feComposite in="SourceGraphic" in2="n5" operator="arithmetic" k1="2.3364" k2="-0.1682" k3="0.2617" k4="-0.1308" result="v5"/>
<feComponentTransfer in="v5" result="c5"><feFuncR type="table" tableValues="0.050 0.132 0.193 0.248 0.300 0.350 0.399 0.448 0.495 0.541 0.584 0.626 0.665 0.702 0.736 0.768 0.798 0.827 0.853 0.878 0.902 0.923 0.943 0.959 0.973 0.984 0.991 0.994 0.993 0.987 0.974 0.957 0.940"/><feFuncG type="table" tableValues="0.030 0.022 0.018 0.014 0.010 0.004 0.001 0.002 0.012 0.035 0.069 0.103 0.139 0.174 0.209 0.245 0.280 0.316 0.352 0.388 0.425 0.463 0.503 0.543 0.586 0.630 0.675 0.723 0.772 0.822 0.875 0.928 0.975"/><feFuncB type="table" tableValues="0.528 0.563 0.590 0.613 0.632 0.646 0.656 0.660 0.658 0.649 0.633 0.611 0.586 0.557 0.528 0.498 0.470 0.441 0.414 0.387 0.360 0.333 0.306 0.279 0.252 0.225 0.198 0.174 0.155 0.144 0.144 0.152 0.131"/><feFuncA type="linear" slope="0" intercept="1"/></feComponentTransfer>
<feComposite in="c0" in2="c1" operator="arithmetic" k2="0.5" k3="0.5" result="m0"/>
<feComposite in="m0" in2="c2" operator="arithmetic" k2="0.6667" k3="0.3333" result="ma"/>
<feComposite in="c3" in2="c4" operator="arithmetic" k2="0.5" k3="0.5" result="m1"/>
<feComposite in="m1" in2="c5" operator="arithmetic" k2="0.6667" k3="0.3333" result="mb"/>
<feComposite in="ma" in2="mb" operator="arithmetic" k2="0.5" k3="0.5" result="m"/>
<feConvolveMatrix in="m" order="3" kernelMatrix="0.00903 0.07695 0.00903 0.07695 0.65610 0.07695 0.00903 0.07695 0.00903" divisor="1" edgeMode="duplicate" preserveAlpha="true" result="bl"/>

<feComposite in="bl" in2="SourceGraphic" operator="in"/>
</filter>
<g clip-path="url(#cb21)" filter="url(#f21)">
<linearGradient id="g21" gradientUnits="userSpaceOnUse" x1="1845.0" y1="0" x2="2665.5" y2="0"><stop offset="0" stop-color="rgb(32,32,32)"/><stop offset="1" stop-color="rgb(32,32,32)"/></linearGradient>
<rect x="1843.0" y="223.5" width="824.5" height="74.8" fill="url(#g21)"/>
<linearGradient id="ht21_12_50" gradientUnits="userSpaceOnUse" x1="1845.0" y1="0" x2="2665.5" y2="0"><stop offset="0.000" stop-color="#fff" stop-opacity="0.300"/><stop offset="1.000" stop-color="#fff" stop-opacity="0.300"/></linearGradient><path d="M1845.0,247.90 L1947.6,246.82 L2050.1,245.74 L2152.7,244.66 L2255.2,243.57 L2357.8,242.49 L2460.4,241.41 L2562.9,240.33 L2665.5,239.25" fill="none" stroke="url(#ht21_12_50)" stroke-width="6.72" stroke-opacity="0.12"/><path d="M1845.0,247.90 L1947.6,246.82 L2050.1,245.74 L2152.7,244.66 L2255.2,243.57 L2357.8,242.49 L2460.4,241.41 L2562.9,240.33 L2665.5,239.25" fill="none" stroke="url(#ht21_12_50)" stroke-width="4.20" stroke-opacity="0.2"/><path d="M1845.0,247.90 L1947.6,246.82 L2050.1,245.74 L2152.7,244.66 L2255.2,243.57 L2357.8,242.49 L2460.4,241.41 L2562.9,240.33 L2665.5,239.25" fill="none" stroke="url(#ht21_12_50)" stroke-width="2.52" stroke-opacity="0.3"/><path d="M1845.0,247.90 L1947.6,246.82 L2050.1,245.74 L2152.7,244.66 L2255.2,243.57 L2357.8,242.49 L2460.4,241.41 L2562.9,240.33 L2665.5,239.25" fill="none" stroke="url(#ht21_12_50)" stroke-width="1.40" stroke-opacity="0.38"/>
<linearGradient id="ht21_34_50" gradientUnits="userSpaceOnUse" x1="1845.0" y1="0" x2="2665.5" y2="0"><stop offset="0.000" stop-color="#fff" stop-opacity="0.300"/><stop offset="1.000" stop-color="#fff" stop-opacity="0.300"/></linearGradient><path d="M1845.0,283.70 L1947.6,282.66 L2050.1,281.62 L2152.7,280.59 L2255.2,279.55 L2357.8,278.51 L2460.4,277.48 L2562.9,276.44 L2665.5,275.40" fill="none" stroke="url(#ht21_34_50)" stroke-width="6.72" stroke-opacity="0.12"/><path d="M1845.0,283.70 L1947.6,282.66 L2050.1,281.62 L2152.7,280.59 L2255.2,279.55 L2357.8,278.51 L2460.4,277.48 L2562.9,276.44 L2665.5,275.40" fill="none" stroke="url(#ht21_34_50)" stroke-width="4.20" stroke-opacity="0.2"/><path d="M1845.0,283.70 L1947.6,282.66 L2050.1,281.62 L2152.7,280.59 L2255.2,279.55 L2357.8,278.51 L2460.4,277.48 L2562.9,276.44 L2665.5,275.40" fill="none" stroke="url(#ht21_34_50)" stroke-width="2.52" stroke-opacity="0.3"/><path d="M1845.0,283.70 L1947.6,282.66 L2050.1,281.62 L2152.7,280.59 L2255.2,279.55 L2357.8,278.51 L2460.4,277.48 L2562.9,276.44 L2665.5,275.40" fill="none" stroke="url(#ht21_34_50)" stroke-width="1.40" stroke-opacity="0.38"/>
<path d="M1845.0,236.00 L1947.6,234.94 L2050.1,233.88 L2152.7,232.81 L2255.2,231.75 L2357.8,230.69 L2460.4,229.62 L2562.9,228.56 L2665.5,227.50" fill="none" stroke="#000" stroke-width="3.0" stroke-opacity="0.45"/>
</g>
<clipPath id="cb22"><path d="M1845.0,331.00 L1947.6,330.07 L2050.1,329.15 L2152.7,328.23 L2255.2,327.30 L2357.8,326.38 L2460.4,325.45 L2562.9,324.53 L2665.5,323.60 L2665.5,383.60 L2562.9,384.56 L2460.4,385.53 L2357.8,386.49 L2255.2,387.45 L2152.7,388.41 L2050.1,389.38 L1947.6,390.34 L1845.0,391.30Z"/></clipPath>
<filter id="f22" filterUnits="userSpaceOnUse" x="1843.0" y="320.6" width="824.5" height="73.7" color-interpolation-filters="sRGB">
<feTurbulence type="fractalNoise" baseFrequency="2.37 2.71" numOctaves="1" seed="43" result="t0"/>
<feTurbulence type="fractalNoise" baseFrequency="2.53 2.29" numOctaves="1" seed="54" result="t1"/>
<feColorMatrix in="t0" type="matrix" values="1 0 0 0 0 1 0 0 0 0 1 0 0 0 0 0 0 0 0 1" result="n0"/>
<feComposite in="SourceGraphic" in2="n0" operator="arithmetic" k1="2.7103" k2="-0.3551" k3="1.2150" k4="-0.6075" result="v0"/>
<feComponentTransfer in="v0" result="c0"><feFuncR type="table" tableValues="0.050 0.132 0.193 0.248 0.300 0.350 0.399 0.448 0.495 0.541 0.584 0.626 0.665 0.702 0.736 0.768 0.798 0.827 0.853 0.878 0.902 0.923 0.943 0.959 0.973 0.984 0.991 0.994 0.993 0.987 0.974 0.957 0.940"/><feFuncG type="table" tableValues="0.030 0.022 0.018 0.014 0.010 0.004 0.001 0.002 0.012 0.035 0.069 0.103 0.139 0.174 0.209 0.245 0.280 0.316 0.352 0.388 0.425 0.463 0.503 0.543 0.586 0.630 0.675 0.723 0.772 0.822 0.875 0.928 0.975"/><feFuncB type="table" tableValues="0.528 0.563 0.590 0.613 0.632 0.646 0.656 0.660 0.658 0.649 0.633 0.611 0.586 0.557 0.528 0.498 0.470 0.441 0.414 0.387 0.360 0.333 0.306 0.279 0.252 0.225 0.198 0.174 0.155 0.144 0.144 0.152 0.131"/><feFuncA type="linear" slope="0" intercept="1"/></feComponentTransfer>
<feColorMatrix in="t0" type="matrix" values="0 1 0 0 0 0 1 0 0 0 0 1 0 0 0 0 0 0 0 1" result="n1"/>
<feComposite in="SourceGraphic" in2="n1" operator="arithmetic" k1="2.7103" k2="-0.3551" k3="1.2150" k4="-0.6075" result="v1"/>
<feComponentTransfer in="v1" result="c1"><feFuncR type="table" tableValues="0.050 0.132 0.193 0.248 0.300 0.350 0.399 0.448 0.495 0.541 0.584 0.626 0.665 0.702 0.736 0.768 0.798 0.827 0.853 0.878 0.902 0.923 0.943 0.959 0.973 0.984 0.991 0.994 0.993 0.987 0.974 0.957 0.940"/><feFuncG type="table" tableValues="0.030 0.022 0.018 0.014 0.010 0.004 0.001 0.002 0.012 0.035 0.069 0.103 0.139 0.174 0.209 0.245 0.280 0.316 0.352 0.388 0.425 0.463 0.503 0.543 0.586 0.630 0.675 0.723 0.772 0.822 0.875 0.928 0.975"/><feFuncB type="table" tableValues="0.528 0.563 0.590 0.613 0.632 0.646 0.656 0.660 0.658 0.649 0.633 0.611 0.586 0.557 0.528 0.498 0.470 0.441 0.414 0.387 0.360 0.333 0.306 0.279 0.252 0.225 0.198 0.174 0.155 0.144 0.144 0.152 0.131"/><feFuncA type="linear" slope="0" intercept="1"/></feComponentTransfer>
<feColorMatrix in="t0" type="matrix" values="0 0 1 0 0 0 0 1 0 0 0 0 1 0 0 0 0 0 0 1" result="n2"/>
<feComposite in="SourceGraphic" in2="n2" operator="arithmetic" k1="2.7103" k2="-0.3551" k3="1.2150" k4="-0.6075" result="v2"/>
<feComponentTransfer in="v2" result="c2"><feFuncR type="table" tableValues="0.050 0.132 0.193 0.248 0.300 0.350 0.399 0.448 0.495 0.541 0.584 0.626 0.665 0.702 0.736 0.768 0.798 0.827 0.853 0.878 0.902 0.923 0.943 0.959 0.973 0.984 0.991 0.994 0.993 0.987 0.974 0.957 0.940"/><feFuncG type="table" tableValues="0.030 0.022 0.018 0.014 0.010 0.004 0.001 0.002 0.012 0.035 0.069 0.103 0.139 0.174 0.209 0.245 0.280 0.316 0.352 0.388 0.425 0.463 0.503 0.543 0.586 0.630 0.675 0.723 0.772 0.822 0.875 0.928 0.975"/><feFuncB type="table" tableValues="0.528 0.563 0.590 0.613 0.632 0.646 0.656 0.660 0.658 0.649 0.633 0.611 0.586 0.557 0.528 0.498 0.470 0.441 0.414 0.387 0.360 0.333 0.306 0.279 0.252 0.225 0.198 0.174 0.155 0.144 0.144 0.152 0.131"/><feFuncA type="linear" slope="0" intercept="1"/></feComponentTransfer>
<feColorMatrix in="t1" type="matrix" values="1 0 0 0 0 1 0 0 0 0 1 0 0 0 0 0 0 0 0 1" result="n3"/>
<feComposite in="SourceGraphic" in2="n3" operator="arithmetic" k1="2.7103" k2="-0.3551" k3="1.2150" k4="-0.6075" result="v3"/>
<feComponentTransfer in="v3" result="c3"><feFuncR type="table" tableValues="0.050 0.132 0.193 0.248 0.300 0.350 0.399 0.448 0.495 0.541 0.584 0.626 0.665 0.702 0.736 0.768 0.798 0.827 0.853 0.878 0.902 0.923 0.943 0.959 0.973 0.984 0.991 0.994 0.993 0.987 0.974 0.957 0.940"/><feFuncG type="table" tableValues="0.030 0.022 0.018 0.014 0.010 0.004 0.001 0.002 0.012 0.035 0.069 0.103 0.139 0.174 0.209 0.245 0.280 0.316 0.352 0.388 0.425 0.463 0.503 0.543 0.586 0.630 0.675 0.723 0.772 0.822 0.875 0.928 0.975"/><feFuncB type="table" tableValues="0.528 0.563 0.590 0.613 0.632 0.646 0.656 0.660 0.658 0.649 0.633 0.611 0.586 0.557 0.528 0.498 0.470 0.441 0.414 0.387 0.360 0.333 0.306 0.279 0.252 0.225 0.198 0.174 0.155 0.144 0.144 0.152 0.131"/><feFuncA type="linear" slope="0" intercept="1"/></feComponentTransfer>
<feColorMatrix in="t1" type="matrix" values="0 1 0 0 0 0 1 0 0 0 0 1 0 0 0 0 0 0 0 1" result="n4"/>
<feComposite in="SourceGraphic" in2="n4" operator="arithmetic" k1="2.7103" k2="-0.3551" k3="1.2150" k4="-0.6075" result="v4"/>
<feComponentTransfer in="v4" result="c4"><feFuncR type="table" tableValues="0.050 0.132 0.193 0.248 0.300 0.350 0.399 0.448 0.495 0.541 0.584 0.626 0.665 0.702 0.736 0.768 0.798 0.827 0.853 0.878 0.902 0.923 0.943 0.959 0.973 0.984 0.991 0.994 0.993 0.987 0.974 0.957 0.940"/><feFuncG type="table" tableValues="0.030 0.022 0.018 0.014 0.010 0.004 0.001 0.002 0.012 0.035 0.069 0.103 0.139 0.174 0.209 0.245 0.280 0.316 0.352 0.388 0.425 0.463 0.503 0.543 0.586 0.630 0.675 0.723 0.772 0.822 0.875 0.928 0.975"/><feFuncB type="table" tableValues="0.528 0.563 0.590 0.613 0.632 0.646 0.656 0.660 0.658 0.649 0.633 0.611 0.586 0.557 0.528 0.498 0.470 0.441 0.414 0.387 0.360 0.333 0.306 0.279 0.252 0.225 0.198 0.174 0.155 0.144 0.144 0.152 0.131"/><feFuncA type="linear" slope="0" intercept="1"/></feComponentTransfer>
<feColorMatrix in="t1" type="matrix" values="0 0 1 0 0 0 0 1 0 0 0 0 1 0 0 0 0 0 0 1" result="n5"/>
<feComposite in="SourceGraphic" in2="n5" operator="arithmetic" k1="2.7103" k2="-0.3551" k3="1.2150" k4="-0.6075" result="v5"/>
<feComponentTransfer in="v5" result="c5"><feFuncR type="table" tableValues="0.050 0.132 0.193 0.248 0.300 0.350 0.399 0.448 0.495 0.541 0.584 0.626 0.665 0.702 0.736 0.768 0.798 0.827 0.853 0.878 0.902 0.923 0.943 0.959 0.973 0.984 0.991 0.994 0.993 0.987 0.974 0.957 0.940"/><feFuncG type="table" tableValues="0.030 0.022 0.018 0.014 0.010 0.004 0.001 0.002 0.012 0.035 0.069 0.103 0.139 0.174 0.209 0.245 0.280 0.316 0.352 0.388 0.425 0.463 0.503 0.543 0.586 0.630 0.675 0.723 0.772 0.822 0.875 0.928 0.975"/><feFuncB type="table" tableValues="0.528 0.563 0.590 0.613 0.632 0.646 0.656 0.660 0.658 0.649 0.633 0.611 0.586 0.557 0.528 0.498 0.470 0.441 0.414 0.387 0.360 0.333 0.306 0.279 0.252 0.225 0.198 0.174 0.155 0.144 0.144 0.152 0.131"/><feFuncA type="linear" slope="0" intercept="1"/></feComponentTransfer>
<feComposite in="c0" in2="c1" operator="arithmetic" k2="0.5" k3="0.5" result="m0"/>
<feComposite in="m0" in2="c2" operator="arithmetic" k2="0.6667" k3="0.3333" result="ma"/>
<feComposite in="c3" in2="c4" operator="arithmetic" k2="0.5" k3="0.5" result="m1"/>
<feComposite in="m1" in2="c5" operator="arithmetic" k2="0.6667" k3="0.3333" result="mb"/>
<feComposite in="ma" in2="mb" operator="arithmetic" k2="0.5" k3="0.5" result="m"/>
<feConvolveMatrix in="m" order="3" kernelMatrix="0.00903 0.07695 0.00903 0.07695 0.65610 0.07695 0.00903 0.07695 0.00903" divisor="1" edgeMode="duplicate" preserveAlpha="true" result="bl"/>

<feComposite in="bl" in2="SourceGraphic" operator="in"/>
</filter>
<g clip-path="url(#cb22)" filter="url(#f22)">
<linearGradient id="g22" gradientUnits="userSpaceOnUse" x1="1845.0" y1="0" x2="2665.5" y2="0"><stop offset="0" stop-color="rgb(61,61,61)"/><stop offset="1" stop-color="rgb(59,59,59)"/></linearGradient>
<rect x="1843.0" y="320.6" width="824.5" height="73.7" fill="url(#g22)"/>
<rect x="1870.5" y="328.6" width="40.0" height="64.3" fill="url(#sg)" opacity="0.2" transform="translate(1890.5,360.7) skewX(4) translate(-1890.5,-360.7)"/>
<rect x="1934.1" y="328.0" width="40.0" height="64.3" fill="url(#sg)" opacity="0.2" transform="translate(1954.1,360.1) skewX(4) translate(-1954.1,-360.1)"/>
<rect x="1999.4" y="327.4" width="40.0" height="64.2" fill="url(#sg)" opacity="0.2" transform="translate(2019.4,359.5) skewX(4) translate(-2019.4,-359.5)"/>
<rect x="2064.6" y="326.8" width="40.0" height="64.2" fill="url(#sg)" opacity="0.2" transform="translate(2084.6,358.9) skewX(4) translate(-2084.6,-358.9)"/>
<rect x="2133.1" y="326.2" width="40.0" height="64.2" fill="url(#sg)" opacity="0.2" transform="translate(2153.1,358.3) skewX(4) translate(-2153.1,-358.3)"/>
<rect x="2201.5" y="325.6" width="40.0" height="64.2" fill="url(#sg)" opacity="0.2" transform="translate(2221.5,357.7) skewX(4) translate(-2221.5,-357.7)"/>
<rect x="2275.7" y="324.9" width="40.0" height="64.1" fill="url(#sg)" opacity="0.24" transform="translate(2295.7,357.0) skewX(4) translate(-2295.7,-357.0)"/>
<rect x="2349.0" y="324.3" width="40.0" height="64.1" fill="url(#sg)" opacity="0.24" transform="translate(2369.0,356.3) skewX(4) translate(-2369.0,-356.3)"/>
<rect x="2425.7" y="323.6" width="40.0" height="64.1" fill="url(#sg)" opacity="0.24" transform="translate(2445.7,355.6) skewX(4) translate(-2445.7,-355.6)"/>
<rect x="2406.0" y="323.9" width="14.0" height="64.1" fill="url(#sg)" opacity="0.35" transform="translate(2413.0,355.9) skewX(4) translate(-2413.0,-355.9)"/>
<rect x="2497.0" y="323.0" width="24.0" height="64.1" fill="url(#sg)" opacity="0.4" transform="translate(2509.0,355.0) skewX(4) translate(-2509.0,-355.0)"/>
<rect x="2516.0" y="322.8" width="22.0" height="64.1" fill="url(#sg)" opacity="0.4" transform="translate(2527.0,354.9) skewX(4) translate(-2527.0,-354.9)"/>
<rect x="2534.0" y="322.7" width="12.0" height="64.0" fill="url(#sg)" opacity="0.3" transform="translate(2540.0,354.8) skewX(4) translate(-2540.0,-354.8)"/>
<rect x="2567.0" y="322.4" width="18.0" height="64.0" fill="url(#sg)" opacity="0.42" transform="translate(2576.0,354.4) skewX(4) translate(-2576.0,-354.4)"/>
<rect x="2586.0" y="322.2" width="16.0" height="64.0" fill="url(#sg)" opacity="0.4" transform="translate(2594.0,354.3) skewX(4) translate(-2594.0,-354.3)"/>
<rect x="2604.6" y="322.1" width="18.0" height="64.0" fill="url(#sg)" opacity="0.42" transform="translate(2613.6,354.1) skewX(4) translate(-2613.6,-354.1)"/>
<rect x="2638.0" y="321.8" width="16.0" height="64.0" fill="url(#sg)" opacity="0.42" transform="translate(2646.0,353.8) skewX(4) translate(-2646.0,-353.8)"/>
</g>
<clipPath id="cb23"><path d="M1845.0,442.20 L1947.6,441.26 L2050.1,440.32 L2152.7,439.39 L2255.2,438.45 L2357.8,437.51 L2460.4,436.57 L2562.9,435.64 L2665.5,434.70 L2665.5,496.30 L2562.9,497.20 L2460.4,498.10 L2357.8,499.00 L2255.2,499.90 L2152.7,500.80 L2050.1,501.70 L1947.6,502.60 L1845.0,503.50Z"/></clipPath>
<filter id="f23" filterUnits="userSpaceOnUse" x="1843.0" y="431.7" width="824.5" height="74.8" color-interpolation-filters="sRGB">
<feTurbulence type="fractalNoise" baseFrequency="2.37 2.71" numOctaves="1" seed="56" result="t0"/>
<feTurbulence type="fractalNoise" baseFrequency="2.53 2.29" numOctaves="1" seed="67" result="t1"/>
<feColorMatrix in="t0" type="matrix" values="1 0 0 0 0 1 0 0 0 0 1 0 0 0 0 0 0 0 0 1" result="n0"/>
<feComposite in="SourceGraphic" in2="n0" operator="arithmetic" k1="0.0000" k2="1.0000" k3="2.8037" k4="-1.4019" result="v0"/>
<feComponentTransfer in="v0" result="c0"><feFuncR type="table" tableValues="0.050 0.132 0.193 0.248 0.300 0.350 0.399 0.448 0.495 0.541 0.584 0.626 0.665 0.702 0.736 0.768 0.798 0.827 0.853 0.878 0.902 0.923 0.943 0.959 0.973 0.984 0.991 0.994 0.993 0.987 0.974 0.957 0.940"/><feFuncG type="table" tableValues="0.030 0.022 0.018 0.014 0.010 0.004 0.001 0.002 0.012 0.035 0.069 0.103 0.139 0.174 0.209 0.245 0.280 0.316 0.352 0.388 0.425 0.463 0.503 0.543 0.586 0.630 0.675 0.723 0.772 0.822 0.875 0.928 0.975"/><feFuncB type="table" tableValues="0.528 0.563 0.590 0.613 0.632 0.646 0.656 0.660 0.658 0.649 0.633 0.611 0.586 0.557 0.528 0.498 0.470 0.441 0.414 0.387 0.360 0.333 0.306 0.279 0.252 0.225 0.198 0.174 0.155 0.144 0.144 0.152 0.131"/><feFuncA type="linear" slope="0" intercept="1"/></feComponentTransfer>
<feColorMatrix in="t0" type="matrix" values="0 1 0 0 0 0 1 0 0 0 0 1 0 0 0 0 0 0 0 1" result="n1"/>
<feComposite in="SourceGraphic" in2="n1" operator="arithmetic" k1="0.0000" k2="1.0000" k3="2.8037" k4="-1.4019" result="v1"/>
<feComponentTransfer in="v1" result="c1"><feFuncR type="table" tableValues="0.050 0.132 0.193 0.248 0.300 0.350 0.399 0.448 0.495 0.541 0.584 0.626 0.665 0.702 0.736 0.768 0.798 0.827 0.853 0.878 0.902 0.923 0.943 0.959 0.973 0.984 0.991 0.994 0.993 0.987 0.974 0.957 0.940"/><feFuncG type="table" tableValues="0.030 0.022 0.018 0.014 0.010 0.004 0.001 0.002 0.012 0.035 0.069 0.103 0.139 0.174 0.209 0.245 0.280 0.316 0.352 0.388 0.425 0.463 0.503 0.543 0.586 0.630 0.675 0.723 0.772 0.822 0.875 0.928 0.975"/><feFuncB type="table" tableValues="0.528 0.563 0.590 0.613 0.632 0.646 0.656 0.660 0.658 0.649 0.633 0.611 0.586 0.557 0.528 0.498 0.470 0.441 0.414 0.387 0.360 0.333 0.306 0.279 0.252 0.225 0.198 0.174 0.155 0.144 0.144 0.152 0.131"/><feFuncA type="linear" slope="0" intercept="1"/></feComponentTransfer>
<feColorMatrix in="t0" type="matrix" values="0 0 1 0 0 0 0 1 0 0 0 0 1 0 0 0 0 0 0 1" result="n2"/>
<feComposite in="SourceGraphic" in2="n2" operator="arithmetic" k1="0.0000" k2="1.0000" k3="2.8037" k4="-1.4019" result="v2"/>
<feComponentTransfer in="v2" result="c2"><feFuncR type="table" tableValues="0.050 0.132 0.193 0.248 0.300 0.350 0.399 0.448 0.495 0.541 0.584 0.626 0.665 0.702 0.736 0.768 0.798 0.827 0.853 0.878 0.902 0.923 0.943 0.959 0.973 0.984 0.991 0.994 0.993 0.987 0.974 0.957 0.940"/><feFuncG type="table" tableValues="0.030 0.022 0.018 0.014 0.010 0.004 0.001 0.002 0.012 0.035 0.069 0.103 0.139 0.174 0.209 0.245 0.280 0.316 0.352 0.388 0.425 0.463 0.503 0.543 0.586 0.630 0.675 0.723 0.772 0.822 0.875 0.928 0.975"/><feFuncB type="table" tableValues="0.528 0.563 0.590 0.613 0.632 0.646 0.656 0.660 0.658 0.649 0.633 0.611 0.586 0.557 0.528 0.498 0.470 0.441 0.414 0.387 0.360 0.333 0.306 0.279 0.252 0.225 0.198 0.174 0.155 0.144 0.144 0.152 0.131"/><feFuncA type="linear" slope="0" intercept="1"/></feComponentTransfer>
<feColorMatrix in="t1" type="matrix" values="1 0 0 0 0 1 0 0 0 0 1 0 0 0 0 0 0 0 0 1" result="n3"/>
<feComposite in="SourceGraphic" in2="n3" operator="arithmetic" k1="0.0000" k2="1.0000" k3="2.8037" k4="-1.4019" result="v3"/>
<feComponentTransfer in="v3" result="c3"><feFuncR type="table" tableValues="0.050 0.132 0.193 0.248 0.300 0.350 0.399 0.448 0.495 0.541 0.584 0.626 0.665 0.702 0.736 0.768 0.798 0.827 0.853 0.878 0.902 0.923 0.943 0.959 0.973 0.984 0.991 0.994 0.993 0.987 0.974 0.957 0.940"/><feFuncG type="table" tableValues="0.030 0.022 0.018 0.014 0.010 0.004 0.001 0.002 0.012 0.035 0.069 0.103 0.139 0.174 0.209 0.245 0.280 0.316 0.352 0.388 0.425 0.463 0.503 0.543 0.586 0.630 0.675 0.723 0.772 0.822 0.875 0.928 0.975"/><feFuncB type="table" tableValues="0.528 0.563 0.590 0.613 0.632 0.646 0.656 0.660 0.658 0.649 0.633 0.611 0.586 0.557 0.528 0.498 0.470 0.441 0.414 0.387 0.360 0.333 0.306 0.279 0.252 0.225 0.198 0.174 0.155 0.144 0.144 0.152 0.131"/><feFuncA type="linear" slope="0" intercept="1"/></feComponentTransfer>
<feColorMatrix in="t1" type="matrix" values="0 1 0 0 0 0 1 0 0 0 0 1 0 0 0 0 0 0 0 1" result="n4"/>
<feComposite in="SourceGraphic" in2="n4" operator="arithmetic" k1="0.0000" k2="1.0000" k3="2.8037" k4="-1.4019" result="v4"/>
<feComponentTransfer in="v4" result="c4"><feFuncR type="table" tableValues="0.050 0.132 0.193 0.248 0.300 0.350 0.399 0.448 0.495 0.541 0.584 0.626 0.665 0.702 0.736 0.768 0.798 0.827 0.853 0.878 0.902 0.923 0.943 0.959 0.973 0.984 0.991 0.994 0.993 0.987 0.974 0.957 0.940"/><feFuncG type="table" tableValues="0.030 0.022 0.018 0.014 0.010 0.004 0.001 0.002 0.012 0.035 0.069 0.103 0.139 0.174 0.209 0.245 0.280 0.316 0.352 0.388 0.425 0.463 0.503 0.543 0.586 0.630 0.675 0.723 0.772 0.822 0.875 0.928 0.975"/><feFuncB type="table" tableValues="0.528 0.563 0.590 0.613 0.632 0.646 0.656 0.660 0.658 0.649 0.633 0.611 0.586 0.557 0.528 0.498 0.470 0.441 0.414 0.387 0.360 0.333 0.306 0.279 0.252 0.225 0.198 0.174 0.155 0.144 0.144 0.152 0.131"/><feFuncA type="linear" slope="0" intercept="1"/></feComponentTransfer>
<feColorMatrix in="t1" type="matrix" values="0 0 1 0 0 0 0 1 0 0 0 0 1 0 0 0 0 0 0 1" result="n5"/>
<feComposite in="SourceGraphic" in2="n5" operator="arithmetic" k1="0.0000" k2="1.0000" k3="2.8037" k4="-1.4019" result="v5"/>
<feComponentTransfer in="v5" result="c5"><feFuncR type="table" tableValues="0.050 0.132 0.193 0.248 0.300 0.350 0.399 0.448 0.495 0.541 0.584 0.626 0.665 0.702 0.736 0.768 0.798 0.827 0.853 0.878 0.902 0.923 0.943 0.959 0.973 0.984 0.991 0.994 0.993 0.987 0.974 0.957 0.940"/><feFuncG type="table" tableValues="0.030 0.022 0.018 0.014 0.010 0.004 0.001 0.002 0.012 0.035 0.069 0.103 0.139 0.174 0.209 0.245 0.280 0.316 0.352 0.388 0.425 0.463 0.503 0.543 0.586 0.630 0.675 0.723 0.772 0.822 0.875 0.928 0.975"/><feFuncB type="table" tableValues="0.528 0.563 0.590 0.613 0.632 0.646 0.656 0.660 0.658 0.649 0.633 0.611 0.586 0.557 0.528 0.498 0.470 0.441 0.414 0.387 0.360 0.333 0.306 0.279 0.252 0.225 0.198 0.174 0.155 0.144 0.144 0.152 0.131"/><feFuncA type="linear" slope="0" intercept="1"/></feComponentTransfer>
<feComposite in="c0" in2="c1" operator="arithmetic" k2="0.5" k3="0.5" result="m0"/>
<feComposite in="m0" in2="c2" operator="arithmetic" k2="0.6667" k3="0.3333" result="ma"/>
<feComposite in="c3" in2="c4" operator="arithmetic" k2="0.5" k3="0.5" result="m1"/>
<feComposite in="m1" in2="c5" operator="arithmetic" k2="0.6667" k3="0.3333" result="mb"/>
<feComposite in="ma" in2="mb" operator="arithmetic" k2="0.5" k3="0.5" result="m"/>
<feConvolveMatrix in="m" order="3" kernelMatrix="0.00903 0.07695 0.00903 0.07695 0.65610 0.07695 0.00903 0.07695 0.00903" divisor="1" edgeMode="duplicate" preserveAlpha="true" result="bl"/>

<feComposite in="bl" in2="SourceGraphic" operator="in"/>
</filter>
<g clip-path="url(#cb23)" filter="url(#f23)">
<linearGradient id="g23" gradientUnits="userSpaceOnUse" x1="1845.0" y1="0" x2="2665.5" y2="0"><stop offset="0" stop-color="rgb(94,94,94)"/><stop offset="0.5" stop-color="rgb(87,87,87)"/><stop offset="1" stop-color="rgb(87,87,87)"/></linearGradient>
<rect x="1843.0" y="431.7" width="824.5" height="74.8" fill="url(#g23)"/>
<rect x="1933.0" y="439.3" width="14.0" height="65.3" fill="url(#sg)" opacity="0.2"/>
<rect x="2482.0" y="434.3" width="10.0" height="65.5" fill="url(#sg)" opacity="0.25"/>
<linearGradient id="ht23_34_55" gradientUnits="userSpaceOnUse" x1="1845.0" y1="0" x2="2665.5" y2="0"><stop offset="0.000" stop-color="#fff" stop-opacity="0.120"/><stop offset="1.000" stop-color="#fff" stop-opacity="0.150"/></linearGradient><path d="M1845.0,492.40 L1947.6,491.54 L2050.1,490.68 L2152.7,489.81 L2255.2,488.95 L2357.8,488.09 L2460.4,487.23 L2562.9,486.36 L2665.5,485.50" fill="none" stroke="url(#ht23_34_55)" stroke-width="9.60" stroke-opacity="0.12"/><path d="M1845.0,492.40 L1947.6,491.54 L2050.1,490.68 L2152.7,489.81 L2255.2,488.95 L2357.8,488.09 L2460.4,487.23 L2562.9,486.36 L2665.5,485.50" fill="none" stroke="url(#ht23_34_55)" stroke-width="6.00" stroke-opacity="0.2"/><path d="M1845.0,492.40 L1947.6,491.54 L2050.1,490.68 L2152.7,489.81 L2255.2,488.95 L2357.8,488.09 L2460.4,487.23 L2562.9,486.36 L2665.5,485.50" fill="none" stroke="url(#ht23_34_55)" stroke-width="3.60" stroke-opacity="0.3"/><path d="M1845.0,492.40 L1947.6,491.54 L2050.1,490.68 L2152.7,489.81 L2255.2,488.95 L2357.8,488.09 L2460.4,487.23 L2562.9,486.36 L2665.5,485.50" fill="none" stroke="url(#ht23_34_55)" stroke-width="2.00" stroke-opacity="0.38"/>
</g>
<clipPath id="cb24"><path d="M1845.0,572.60 L1947.6,571.99 L2050.1,571.38 L2152.7,570.76 L2255.2,570.15 L2357.8,569.54 L2460.4,568.93 L2562.9,568.31 L2665.5,567.70 L2665.5,629.70 L2562.9,630.39 L2460.4,631.08 L2357.8,631.76 L2255.2,632.45 L2152.7,633.14 L2050.1,633.83 L1947.6,634.51 L1845.0,635.20Z"/></clipPath>
<filter id="f24" filterUnits="userSpaceOnUse" x="1843.0" y="564.7" width="824.5" height="73.5" color-interpolation-filters="sRGB">
<feTurbulence type="fractalNoise" baseFrequency="2.37 2.71" numOctaves="1" seed="69" result="t0"/>
<feTurbulence type="fractalNoise" baseFrequency="2.53 2.29" numOctaves="1" seed="80" result="t1"/>
<feColorMatrix in="t0" type="matrix" values="1 0 0 0 0 1 0 0 0 0 1 0 0 0 0 0 0 0 0 1" result="n0"/>
<feComposite in="SourceGraphic" in2="n0" operator="arithmetic" k1="0.0000" k2="1.0000" k3="3.0841" k4="-1.5421" result="v0"/>
<feComponentTransfer in="v0" result="c0"><feFuncR type="table" tableValues="0.050 0.132 0.193 0.248 0.300 0.350 0.399 0.448 0.495 0.541 0.584 0.626 0.665 0.702 0.736 0.768 0.798 0.827 0.853 0.878 0.902 0.923 0.943 0.959 0.973 0.984 0.991 0.994 0.993 0.987 0.974 0.957 0.940"/><feFuncG type="table" tableValues="0.030 0.022 0.018 0.014 0.010 0.004 0.001 0.002 0.012 0.035 0.069 0.103 0.139 0.174 0.209 0.245 0.280 0.316 0.352 0.388 0.425 0.463 0.503 0.543 0.586 0.630 0.675 0.723 0.772 0.822 0.875 0.928 0.975"/><feFuncB type="table" tableValues="0.528 0.563 0.590 0.613 0.632 0.646 0.656 0.660 0.658 0.649 0.633 0.611 0.586 0.557 0.528 0.498 0.470 0.441 0.414 0.387 0.360 0.333 0.306 0.279 0.252 0.225 0.198 0.174 0.155 0.144 0.144 0.152 0.131"/><feFuncA type="linear" slope="0" intercept="1"/></feComponentTransfer>
<feColorMatrix in="t0" type="matrix" values="0 1 0 0 0 0 1 0 0 0 0 1 0 0 0 0 0 0 0 1" result="n1"/>
<feComposite in="SourceGraphic" in2="n1" operator="arithmetic" k1="0.0000" k2="1.0000" k3="3.0841" k4="-1.5421" result="v1"/>
<feComponentTransfer in="v1" result="c1"><feFuncR type="table" tableValues="0.050 0.132 0.193 0.248 0.300 0.350 0.399 0.448 0.495 0.541 0.584 0.626 0.665 0.702 0.736 0.768 0.798 0.827 0.853 0.878 0.902 0.923 0.943 0.959 0.973 0.984 0.991 0.994 0.993 0.987 0.974 0.957 0.940"/><feFuncG type="table" tableValues="0.030 0.022 0.018 0.014 0.010 0.004 0.001 0.002 0.012 0.035 0.069 0.103 0.139 0.174 0.209 0.245 0.280 0.316 0.352 0.388 0.425 0.463 0.503 0.543 0.586 0.630 0.675 0.723 0.772 0.822 0.875 0.928 0.975"/><feFuncB type="table" tableValues="0.528 0.563 0.590 0.613 0.632 0.646 0.656 0.660 0.658 0.649 0.633 0.611 0.586 0.557 0.528 0.498 0.470 0.441 0.414 0.387 0.360 0.333 0.306 0.279 0.252 0.225 0.198 0.174 0.155 0.144 0.144 0.152 0.131"/><feFuncA type="linear" slope="0" intercept="1"/></feComponentTransfer>
<feColorMatrix in="t0" type="matrix" values="0 0 1 0 0 0 0 1 0 0 0 0 1 0 0 0 0 0 0 1" result="n2"/>
<feComposite in="SourceGraphic" in2="n2" operator="arithmetic" k1="0.0000" k2="1.0000" k3="3.0841" k4="-1.5421" result="v2"/>
<feComponentTransfer in="v2" result="c2"><feFuncR type="table" tableValues="0.050 0.132 0.193 0.248 0.300 0.350 0.399 0.448 0.495 0.541 0.584 0.626 0.665 0.702 0.736 0.768 0.798 0.827 0.853 0.878 0.902 0.923 0.943 0.959 0.973 0.984 0.991 0.994 0.993 0.987 0.974 0.957 0.940"/><feFuncG type="table" tableValues="0.030 0.022 0.018 0.014 0.010 0.004 0.001 0.002 0.012 0.035 0.069 0.103 0.139 0.174 0.209 0.245 0.280 0.316 0.352 0.388 0.425 0.463 0.503 0.543 0.586 0.630 0.675 0.723 0.772 0.822 0.875 0.928 0.975"/><feFuncB type="table" tableValues="0.528 0.563 0.590 0.613 0.632 0.646 0.656 0.660 0.658 0.649 0.633 0.611 0.586 0.557 0.528 0.498 0.470 0.441 0.414 0.387 0.360 0.333 0.306 0.279 0.252 0.225 0.198 0.174 0.155 0.144 0.144 0.152 0.131"/><feFuncA type="linear" slope="0" intercept="1"/></feComponentTransfer>
<feColorMatrix in="t1" type="matrix" values="1 0 0 0 0 1 0 0 0 0 1 0 0 0 0 0 0 0 0 1" result="n3"/>
<feComposite in="SourceGraphic" in2="n3" operator="arithmetic" k1="0.0000" k2="1.0000" k3="3.0841" k4="-1.5421" result="v3"/>
<feComponentTransfer in="v3" result="c3"><feFuncR type="table" tableValues="0.050 0.132 0.193 0.248 0.300 0.350 0.399 0.448 0.495 0.541 0.584 0.626 0.665 0.702 0.736 0.768 0.798 0.827 0.853 0.878 0.902 0.923 0.943 0.959 0.973 0.984 0.991 0.994 0.993 0.987 0.974 0.957 0.940"/><feFuncG type="table" tableValues="0.030 0.022 0.018 0.014 0.010 0.004 0.001 0.002 0.012 0.035 0.069 0.103 0.139 0.174 0.209 0.245 0.280 0.316 0.352 0.388 0.425 0.463 0.503 0.543 0.586 0.630 0.675 0.723 0.772 0.822 0.875 0.928 0.975"/><feFuncB type="table" tableValues="0.528 0.563 0.590 0.613 0.632 0.646 0.656 0.660 0.658 0.649 0.633 0.611 0.586 0.557 0.528 0.498 0.470 0.441 0.414 0.387 0.360 0.333 0.306 0.279 0.252 0.225 0.198 0.174 0.155 0.144 0.144 0.152 0.131"/><feFuncA type="linear" slope="0" intercept="1"/></feComponentTransfer>
<feColorMatrix in="t1" type="matrix" values="0 1 0 0 0 0 1 0 0 0 0 1 0 0 0 0 0 0 0 1" result="n4"/>
<feComposite in="SourceGraphic" in2="n4" operator="arithmetic" k1="0.0000" k2="1.0000" k3="3.0841" k4="-1.5421" result="v4"/>
<feComponentTransfer in="v4" result="c4"><feFuncR type="table" tableValues="0.050 0.132 0.193 0.248 0.300 0.350 0.399 0.448 0.495 0.541 0.584 0.626 0.665 0.702 0.736 0.768 0.798 0.827 0.853 0.878 0.902 0.923 0.943 0.959 0.973 0.984 0.991 0.994 0.993 0.987 0.974 0.957 0.940"/><feFuncG type="table" tableValues="0.030 0.022 0.018 0.014 0.010 0.004 0.001 0.002 0.012 0.035 0.069 0.103 0.139 0.174 0.209 0.245 0.280 0.316 0.352 0.388 0.425 0.463 0.503 0.543 0.586 0.630 0.675 0.723 0.772 0.822 0.875 0.928 0.975"/><feFuncB type="table" tableValues="0.528 0.563 0.590 0.613 0.632 0.646 0.656 0.660 0.658 0.649 0.633 0.611 0.586 0.557 0.528 0.498 0.470 0.441 0.414 0.387 0.360 0.333 0.306 0.279 0.252 0.225 0.198 0.174 0.155 0.144 0.144 0.152 0.131"/><feFuncA type="linear" slope="0" intercept="1"/></feComponentTransfer>
<feColorMatrix in="t1" type="matrix" values="0 0 1 0 0 0 0 1 0 0 0 0 1 0 0 0 0 0 0 1" result="n5"/>
<feComposite in="SourceGraphic" in2="n5" operator="arithmetic" k1="0.0000" k2="1.0000" k3="3.0841" k4="-1.5421" result="v5"/>
<feComponentTransfer in="v5" result="c5"><feFuncR type="table" tableValues="0.050 0.132 0.193 0.248 0.300 0.350 0.399 0.448 0.495 0.541 0.584 0.626 0.665 0.702 0.736 0.768 0.798 0.827 0.853 0.878 0.902 0.923 0.943 0.959 0.973 0.984 0.991 0.994 0.993 0.987 0.974 0.957 0.940"/><feFuncG type="table" tableValues="0.030 0.022 0.018 0.014 0.010 0.004 0.001 0.002 0.012 0.035 0.069 0.103 0.139 0.174 0.209 0.245 0.280 0.316 0.352 0.388 0.425 0.463 0.503 0.543 0.586 0.630 0.675 0.723 0.772 0.822 0.875 0.928 0.975"/><feFuncB type="table" tableValues="0.528 0.563 0.590 0.613 0.632 0.646 0.656 0.660 0.658 0.649 0.633 0.611 0.586 0.557 0.528 0.498 0.470 0.441 0.414 0.387 0.360 0.333 0.306 0.279 0.252 0.225 0.198 0.174 0.155 0.144 0.144 0.152 0.131"/><feFuncA type="linear" slope="0" intercept="1"/></feComponentTransfer>
<feComposite in="c0" in2="c1" operator="arithmetic" k2="0.5" k3="0.5" result="m0"/>
<feComposite in="m0" in2="c2" operator="arithmetic" k2="0.6667" k3="0.3333" result="ma"/>
<feComposite in="c3" in2="c4" operator="arithmetic" k2="0.5" k3="0.5" result="m1"/>
<feComposite in="m1" in2="c5" operator="arithmetic" k2="0.6667" k3="0.3333" result="mb"/>
<feComposite in="ma" in2="mb" operator="arithmetic" k2="0.5" k3="0.5" result="m"/>
<feConvolveMatrix in="m" order="3" kernelMatrix="0.00903 0.07695 0.00903 0.07695 0.65610 0.07695 0.00903 0.07695 0.00903" divisor="1" edgeMode="duplicate" preserveAlpha="true" result="bl"/>

<feComposite in="bl" in2="SourceGraphic" operator="in"/>
</filter>
<g clip-path="url(#cb24)" filter="url(#f24)">
<linearGradient id="g24" gradientUnits="userSpaceOnUse" x1="1845.0" y1="0" x2="2665.5" y2="0"><stop offset="0.0" stop-color="rgb(115,115,115)"/><stop offset="0.0817" stop-color="rgb(122,122,122)"/><stop offset="0.0963" stop-color="rgb(178,178,178)"/><stop offset="0.1499" stop-color="rgb(189,189,189)"/><stop offset="0.1548" stop-color="rgb(110,110,110)"/><stop offset="0.1816" stop-color="rgb(110,110,110)"/><stop offset="0.1865" stop-color="rgb(199,199,199)"/><stop offset="0.2255" stop-color="rgb(178,178,178)"/><stop offset="0.262" stop-color="rgb(148,148,148)"/><stop offset="0.3473" stop-color="rgb(138,138,138)"/><stop offset="0.4936" stop-color="rgb(153,153,153)"/><stop offset="0.5082" stop-color="rgb(184,184,184)"/><stop offset="0.5545" stop-color="rgb(194,194,194)"/><stop offset="0.5594" stop-color="rgb(115,115,115)"/><stop offset="0.7191" stop-color="rgb(110,110,110)"/><stop offset="0.7313" stop-color="rgb(168,168,168)"/><stop offset="0.8897" stop-color="rgb(178,178,178)"/><stop offset="0.9019" stop-color="rgb(133,133,133)"/><stop offset="1.0" stop-color="rgb(128,128,128)"/></linearGradient>
<rect x="1843.0" y="564.7" width="824.5" height="73.5" fill="url(#g24)"/>
<linearGradient id="ht24_34_60" gradientUnits="userSpaceOnUse" x1="1845.0" y1="0" x2="2665.5" y2="0"><stop offset="0.000" stop-color="#fff" stop-opacity="0.300"/><stop offset="1.000" stop-color="#fff" stop-opacity="0.200"/></linearGradient><path d="M1845.0,625.02 L1947.6,624.31 L2050.1,623.60 L2152.7,622.89 L2255.2,622.18 L2357.8,621.47 L2460.4,620.76 L2562.9,620.05 L2665.5,619.34" fill="none" stroke="url(#ht24_34_60)" stroke-width="9.60" stroke-opacity="0.12"/><path d="M1845.0,625.02 L1947.6,624.31 L2050.1,623.60 L2152.7,622.89 L2255.2,622.18 L2357.8,621.47 L2460.4,620.76 L2562.9,620.05 L2665.5,619.34" fill="none" stroke="url(#ht24_34_60)" stroke-width="6.00" stroke-opacity="0.2"/><path d="M1845.0,625.02 L1947.6,624.31 L2050.1,623.60 L2152.7,622.89 L2255.2,622.18 L2357.8,621.47 L2460.4,620.76 L2562.9,620.05 L2665.5,619.34" fill="none" stroke="url(#ht24_34_60)" stroke-width="3.60" stroke-opacity="0.3"/><path d="M1845.0,625.02 L1947.6,624.31 L2050.1,623.60 L2152.7,622.89 L2255.2,622.18 L2357.8,621.47 L2460.4,620.76 L2562.9,620.05 L2665.5,619.34" fill="none" stroke="url(#ht24_34_60)" stroke-width="2.00" stroke-opacity="0.38"/>
</g>
<clipPath id="cb25"><path d="M1845.0,731.10 L1947.6,730.52 L2050.1,729.95 L2152.7,729.38 L2255.2,728.80 L2357.8,728.23 L2460.4,727.65 L2562.9,727.08 L2665.5,726.50 L2665.5,787.80 L2562.9,788.41 L2460.4,789.02 L2357.8,789.64 L2255.2,790.25 L2152.7,790.86 L2050.1,791.48 L1947.6,792.09 L1845.0,792.70Z"/></clipPath>
<filter id="f25" filterUnits="userSpaceOnUse" x="1843.0" y="723.5" width="824.5" height="72.2" color-interpolation-filters="sRGB">
<feTurbulence type="fractalNoise" baseFrequency="2.37 2.71" numOctaves="1" seed="82" result="t0"/>
<feTurbulence type="fractalNoise" baseFrequency="2.53 2.29" numOctaves="1" seed="93" result="t1"/>
<feColorMatrix in="t0" type="matrix" values="1 0 0 0 0 1 0 0 0 0 1 0 0 0 0 0 0 0 0 1" result="n0"/>
<feComposite in="SourceGraphic" in2="n0" operator="arithmetic" k1="5.4206" k2="-1.7103" k3="0.4673" k4="-0.2336" result="v0"/>
<feComponentTransfer in="v0" result="c0"><feFuncR type="table" tableValues="0.050 0.132 0.193 0.248 0.300 0.350 0.399 0.448 0.495 0.541 0.584 0.626 0.665 0.702 0.736 0.768 0.798 0.827 0.853 0.878 0.902 0.923 0.943 0.959 0.973 0.984 0.991 0.994 0.993 0.987 0.974 0.957 0.940"/><feFuncG type="table" tableValues="0.030 0.022 0.018 0.014 0.010 0.004 0.001 0.002 0.012 0.035 0.069 0.103 0.139 0.174 0.209 0.245 0.280 0.316 0.352 0.388 0.425 0.463 0.503 0.543 0.586 0.630 0.675 0.723 0.772 0.822 0.875 0.928 0.975"/><feFuncB type="table" tableValues="0.528 0.563 0.590 0.613 0.632 0.646 0.656 0.660 0.658 0.649 0.633 0.611 0.586 0.557 0.528 0.498 0.470 0.441 0.414 0.387 0.360 0.333 0.306 0.279 0.252 0.225 0.198 0.174 0.155 0.144 0.144 0.152 0.131"/><feFuncA type="linear" slope="0" intercept="1"/></feComponentTransfer>
<feColorMatrix in="t0" type="matrix" values="0 1 0 0 0 0 1 0 0 0 0 1 0 0 0 0 0 0 0 1" result="n1"/>
<feComposite in="SourceGraphic" in2="n1" operator="arithmetic" k1="5.4206" k2="-1.7103" k3="0.4673" k4="-0.2336" result="v1"/>
<feComponentTransfer in="v1" result="c1"><feFuncR type="table" tableValues="0.050 0.132 0.193 0.248 0.300 0.350 0.399 0.448 0.495 0.541 0.584 0.626 0.665 0.702 0.736 0.768 0.798 0.827 0.853 0.878 0.902 0.923 0.943 0.959 0.973 0.984 0.991 0.994 0.993 0.987 0.974 0.957 0.940"/><feFuncG type="table" tableValues="0.030 0.022 0.018 0.014 0.010 0.004 0.001 0.002 0.012 0.035 0.069 0.103 0.139 0.174 0.209 0.245 0.280 0.316 0.352 0.388 0.425 0.463 0.503 0.543 0.586 0.630 0.675 0.723 0.772 0.822 0.875 0.928 0.975"/><feFuncB type="table" tableValues="0.528 0.563 0.590 0.613 0.632 0.646 0.656 0.660 0.658 0.649 0.633 0.611 0.586 0.557 0.528 0.498 0.470 0.441 0.414 0.387 0.360 0.333 0.306 0.279 0.252 0.225 0.198 0.174 0.155 0.144 0.144 0.152 0.131"/><feFuncA type="linear" slope="0" intercept="1"/></feComponentTransfer>
<feColorMatrix in="t0" type="matrix" values="0 0 1 0 0 0 0 1 0 0 0 0 1 0 0 0 0 0 0 1" result="n2"/>
<feComposite in="SourceGraphic" in2="n2" operator="arithmetic" k1="5.4206" k2="-1.7103" k3="0.4673" k4="-0.2336" result="v2"/>
<feComponentTransfer in="v2" result="c2"><feFuncR type="table" tableValues="0.050 0.132 0.193 0.248 0.300 0.350 0.399 0.448 0.495 0.541 0.584 0.626 0.665 0.702 0.736 0.768 0.798 0.827 0.853 0.878 0.902 0.923 0.943 0.959 0.973 0.984 0.991 0.994 0.993 0.987 0.974 0.957 0.940"/><feFuncG type="table" tableValues="0.030 0.022 0.018 0.014 0.010 0.004 0.001 0.002 0.012 0.035 0.069 0.103 0.139 0.174 0.209 0.245 0.280 0.316 0.352 0.388 0.425 0.463 0.503 0.543 0.586 0.630 0.675 0.723 0.772 0.822 0.875 0.928 0.975"/><feFuncB type="table" tableValues="0.528 0.563 0.590 0.613 0.632 0.646 0.656 0.660 0.658 0.649 0.633 0.611 0.586 0.557 0.528 0.498 0.470 0.441 0.414 0.387 0.360 0.333 0.306 0.279 0.252 0.225 0.198 0.174 0.155 0.144 0.144 0.152 0.131"/><feFuncA type="linear" slope="0" intercept="1"/></feComponentTransfer>
<feColorMatrix in="t1" type="matrix" values="1 0 0 0 0 1 0 0 0 0 1 0 0 0 0 0 0 0 0 1" result="n3"/>
<feComposite in="SourceGraphic" in2="n3" operator="arithmetic" k1="5.4206" k2="-1.7103" k3="0.4673" k4="-0.2336" result="v3"/>
<feComponentTransfer in="v3" result="c3"><feFuncR type="table" tableValues="0.050 0.132 0.193 0.248 0.300 0.350 0.399 0.448 0.495 0.541 0.584 0.626 0.665 0.702 0.736 0.768 0.798 0.827 0.853 0.878 0.902 0.923 0.943 0.959 0.973 0.984 0.991 0.994 0.993 0.987 0.974 0.957 0.940"/><feFuncG type="table" tableValues="0.030 0.022 0.018 0.014 0.010 0.004 0.001 0.002 0.012 0.035 0.069 0.103 0.139 0.174 0.209 0.245 0.280 0.316 0.352 0.388 0.425 0.463 0.503 0.543 0.586 0.630 0.675 0.723 0.772 0.822 0.875 0.928 0.975"/><feFuncB type="table" tableValues="0.528 0.563 0.590 0.613 0.632 0.646 0.656 0.660 0.658 0.649 0.633 0.611 0.586 0.557 0.528 0.498 0.470 0.441 0.414 0.387 0.360 0.333 0.306 0.279 0.252 0.225 0.198 0.174 0.155 0.144 0.144 0.152 0.131"/><feFuncA type="linear" slope="0" intercept="1"/></feComponentTransfer>
<feColorMatrix in="t1" type="matrix" values="0 1 0 0 0 0 1 0 0 0 0 1 0 0 0 0 0 0 0 1" result="n4"/>
<feComposite in="SourceGraphic" in2="n4" operator="arithmetic" k1="5.4206" k2="-1.7103" k3="0.4673" k4="-0.2336" result="v4"/>
<feComponentTransfer in="v4" result="c4"><feFuncR type="table" tableValues="0.050 0.132 0.193 0.248 0.300 0.350 0.399 0.448 0.495 0.541 0.584 0.626 0.665 0.702 0.736 0.768 0.798 0.827 0.853 0.878 0.902 0.923 0.943 0.959 0.973 0.984 0.991 0.994 0.993 0.987 0.974 0.957 0.940"/><feFuncG type="table" tableValues="0.030 0.022 0.018 0.014 0.010 0.004 0.001 0.002 0.012 0.035 0.069 0.103 0.139 0.174 0.209 0.245 0.280 0.316 0.352 0.388 0.425 0.463 0.503 0.543 0.586 0.630 0.675 0.723 0.772 0.822 0.875 0.928 0.975"/><feFuncB type="table" tableValues="0.528 0.563 0.590 0.613 0.632 0.646 0.656 0.660 0.658 0.649 0.633 0.611 0.586 0.557 0.528 0.498 0.470 0.441 0.414 0.387 0.360 0.333 0.306 0.279 0.252 0.225 0.198 0.174 0.155 0.144 0.144 0.152 0.131"/><feFuncA type="linear" slope="0" intercept="1"/></feComponentTransfer>
<feColorMatrix in="t1" type="matrix" values="0 0 1 0 0 0 0 1 0 0 0 0 1 0 0 0 0 0 0 1" result="n5"/>
<feComposite in="SourceGraphic" in2="n5" operator="arithmetic" k1="5.4206" k2="-1.7103" k3="0.4673" k4="-0.2336" result="v5"/>
<feComponentTransfer in="v5" result="c5"><feFuncR type="table" tableValues="0.050 0.132 0.193 0.248 0.300 0.350 0.399 0.448 0.495 0.541 0.584 0.626 0.665 0.702 0.736 0.768 0.798 0.827 0.853 0.878 0.902 0.923 0.943 0.959 0.973 0.984 0.991 0.994 0.993 0.987 0.974 0.957 0.940"/><feFuncG type="table" tableValues="0.030 0.022 0.018 0.014 0.010 0.004 0.001 0.002 0.012 0.035 0.069 0.103 0.139 0.174 0.209 0.245 0.280 0.316 0.352 0.388 0.425 0.463 0.503 0.543 0.586 0.630 0.675 0.723 0.772 0.822 0.875 0.928 0.975"/><feFuncB type="table" tableValues="0.528 0.563 0.590 0.613 0.632 0.646 0.656 0.660 0.658 0.649 0.633 0.611 0.586 0.557 0.528 0.498 0.470 0.441 0.414 0.387 0.360 0.333 0.306 0.279 0.252 0.225 0.198 0.174 0.155 0.144 0.144 0.152 0.131"/><feFuncA type="linear" slope="0" intercept="1"/></feComponentTransfer>
<feComposite in="c0" in2="c1" operator="arithmetic" k2="0.5" k3="0.5" result="m0"/>
<feComposite in="m0" in2="c2" operator="arithmetic" k2="0.6667" k3="0.3333" result="ma"/>
<feComposite in="c3" in2="c4" operator="arithmetic" k2="0.5" k3="0.5" result="m1"/>
<feComposite in="m1" in2="c5" operator="arithmetic" k2="0.6667" k3="0.3333" result="mb"/>
<feComposite in="ma" in2="mb" operator="arithmetic" k2="0.5" k3="0.5" result="m"/>
<feConvolveMatrix in="m" order="3" kernelMatrix="0.00903 0.07695 0.00903 0.07695 0.65610 0.07695 0.00903 0.07695 0.00903" divisor="1" edgeMode="duplicate" preserveAlpha="true" result="bl"/>

<feComposite in="bl" in2="SourceGraphic" operator="in"/>
</filter>
<g clip-path="url(#cb25)" filter="url(#f25)">
<linearGradient id="g25" gradientUnits="userSpaceOnUse" x1="1845.0" y1="0" x2="2665.5" y2="0"><stop offset="0.0" stop-color="rgb(138,138,138)"/><stop offset="0.0427" stop-color="rgb(128,128,128)"/><stop offset="0.0914" stop-color="rgb(117,117,117)"/><stop offset="0.1572" stop-color="rgb(107,107,107)"/><stop offset="0.1621" stop-color="rgb(97,97,97)"/><stop offset="0.4327" stop-color="rgb(89,89,89)"/><stop offset="0.7008" stop-color="rgb(76,76,76)"/><stop offset="0.7105" stop-color="rgb(64,64,64)"/><stop offset="1.0" stop-color="rgb(54,54,54)"/></linearGradient>
<rect x="1843.0" y="723.5" width="824.5" height="72.2" fill="url(#g25)"/>
<rect x="1973.0" y="728.4" width="6.0" height="65.6" fill="url(#sg)" opacity="0.2"/>
<rect x="2153.6" y="736.2" width="11.6" height="11.6" rx="3.5" fill="#000" opacity="0.92"/><circle cx="2159.9" cy="742.0" r="0.9" fill="#fff" opacity="0.5"/>
<path d="M1845.0,731.60 L1947.6,731.02 L2050.1,730.45 L2152.7,729.88 L2255.2,729.30 L2357.8,728.73 L2460.4,728.15 L2562.9,727.58 L2665.5,727.00" fill="none" stroke="#000" stroke-width="2.0" stroke-opacity="0.6"/>
</g>
<path d="M1844.5,156.10 L1947.2,154.96 L2049.8,153.82 L2152.4,152.69 L2255.0,151.55 L2357.6,150.41 L2460.3,149.28 L2562.9,148.14 L2665.5,147.00" fill="none" stroke="#000" stroke-width="2.6"/>
<path d="M1844.5,156.10 L1947.2,154.96 L2049.8,153.82 L2152.4,152.69 L2255.0,151.55 L2357.6,150.41 L2460.3,149.28 L2562.9,148.14 L2665.5,147.00" fill="none" stroke="#fff" stroke-width="2.6" stroke-dasharray="10.15 9.85"/>
<path d="M1844.5,172.10 L1947.2,170.95 L2049.8,169.80 L2152.4,168.65 L2255.0,167.50 L2357.6,166.35 L2460.3,165.20 L2562.9,164.05 L2665.5,162.90" fill="none" stroke="#000" stroke-width="2.6"/>
<path d="M1844.5,172.10 L1947.2,170.95 L2049.8,169.80 L2152.4,168.65 L2255.0,167.50 L2357.6,166.35 L2460.3,165.20 L2562.9,164.05 L2665.5,162.90" fill="none" stroke="#fff" stroke-width="2.6" stroke-dasharray="10.15 9.85"/>
<path d="M1844.5,192.30 L1947.2,191.15 L2049.8,190.00 L2152.4,188.85 L2255.0,187.70 L2357.6,186.55 L2460.3,185.40 L2562.9,184.25 L2665.5,183.10" fill="none" stroke="#000" stroke-width="2.6"/>
<path d="M1844.5,192.30 L1947.2,191.15 L2049.8,190.00 L2152.4,188.85 L2255.0,187.70 L2357.6,186.55 L2460.3,185.40 L2562.9,184.25 L2665.5,183.10" fill="none" stroke="#fff" stroke-width="2.6" stroke-dasharray="10.15 9.85"/>
<path d="M1844.5,207.90 L1947.2,206.76 L2049.8,205.62 L2152.4,204.49 L2255.0,203.35 L2357.6,202.21 L2460.3,201.08 L2562.9,199.94 L2665.5,198.80" fill="none" stroke="#000" stroke-width="2.6"/>
<path d="M1844.5,207.90 L1947.2,206.76 L2049.8,205.62 L2152.4,204.49 L2255.0,203.35 L2357.6,202.21 L2460.3,201.08 L2562.9,199.94 L2665.5,198.80" fill="none" stroke="#fff" stroke-width="2.6" stroke-dasharray="10.15 9.85"/>
<path d="M1844.5,239.90 L1947.2,238.84 L2049.8,237.78 L2152.4,236.71 L2255.0,235.65 L2357.6,234.59 L2460.3,233.53 L2562.9,232.46 L2665.5,231.40" fill="none" stroke="#000" stroke-width="2.6"/>
<path d="M1844.5,239.90 L1947.2,238.84 L2049.8,237.78 L2152.4,236.71 L2255.0,235.65 L2357.6,234.59 L2460.3,233.53 L2562.9,232.46 L2665.5,231.40" fill="none" stroke="#fff" stroke-width="2.6" stroke-dasharray="10.15 9.85"/>
<path d="M1844.5,255.90 L1947.2,254.80 L2049.8,253.70 L2152.4,252.60 L2255.0,251.50 L2357.6,250.40 L2460.3,249.30 L2562.9,248.20 L2665.5,247.10" fill="none" stroke="#000" stroke-width="2.6"/>
<path d="M1844.5,255.90 L1947.2,254.80 L2049.8,253.70 L2152.4,252.60 L2255.0,251.50 L2357.6,250.40 L2460.3,249.30 L2562.9,248.20 L2665.5,247.10" fill="none" stroke="#fff" stroke-width="2.6" stroke-dasharray="10.15 9.85"/>
<path d="M1844.5,275.70 L1947.2,274.69 L2049.8,273.68 L2152.4,272.66 L2255.0,271.65 L2357.6,270.64 L2460.3,269.62 L2562.9,268.61 L2665.5,267.60" fill="none" stroke="#000" stroke-width="2.6"/>
<path d="M1844.5,275.70 L1947.2,274.69 L2049.8,273.68 L2152.4,272.66 L2255.0,271.65 L2357.6,270.64 L2460.3,269.62 L2562.9,268.61 L2665.5,267.60" fill="none" stroke="#fff" stroke-width="2.6" stroke-dasharray="10.15 9.85"/>
<path d="M1844.5,291.70 L1947.2,290.64 L2049.8,289.57 L2152.4,288.51 L2255.0,287.45 L2357.6,286.39 L2460.3,285.32 L2562.9,284.26 L2665.5,283.20" fill="none" stroke="#000" stroke-width="2.6"/>
<path d="M1844.5,291.70 L1947.2,290.64 L2049.8,289.57 L2152.4,288.51 L2255.0,287.45 L2357.6,286.39 L2460.3,285.32 L2562.9,284.26 L2665.5,283.20" fill="none" stroke="#fff" stroke-width="2.6" stroke-dasharray="10.15 9.85"/>
<path d="M1844.5,341.20 L1947.2,340.59 L2049.8,339.74 L2152.4,338.63 L2255.0,337.27 L2357.6,335.67 L2460.3,333.81 L2562.9,331.71 L2665.5,329.35" fill="none" stroke="#000" stroke-width="2.6"/>
<path d="M1844.5,341.20 L1947.2,340.59 L2049.8,339.74 L2152.4,338.63 L2255.0,337.27 L2357.6,335.67 L2460.3,333.81 L2562.9,331.71 L2665.5,329.35" fill="none" stroke="#fff" stroke-width="2.6" stroke-dasharray="10.15 9.85"/>
<path d="M1844.5,356.90 L1947.2,356.30 L2049.8,355.45 L2152.4,354.35 L2255.0,353.00 L2357.6,351.40 L2460.3,349.55 L2562.9,347.45 L2665.5,345.10" fill="none" stroke="#000" stroke-width="2.6"/>
<path d="M1844.5,356.90 L1947.2,356.30 L2049.8,355.45 L2152.4,354.35 L2255.0,353.00 L2357.6,351.40 L2460.3,349.55 L2562.9,347.45 L2665.5,345.10" fill="none" stroke="#fff" stroke-width="2.6" stroke-dasharray="10.15 9.85"/>
<path d="M1844.5,372.65 L1947.2,372.04 L2049.8,371.19 L2152.4,370.08 L2255.0,368.73 L2357.6,367.12 L2460.3,365.26 L2562.9,363.16 L2665.5,360.80" fill="none" stroke="#000" stroke-width="2.6"/>
<path d="M1844.5,372.65 L1947.2,372.04 L2049.8,371.19 L2152.4,370.08 L2255.0,368.73 L2357.6,367.12 L2460.3,365.26 L2562.9,363.16 L2665.5,360.80" fill="none" stroke="#fff" stroke-width="2.6" stroke-dasharray="10.15 9.85"/>
<path d="M1844.5,388.30 L1947.2,387.70 L2049.8,386.85 L2152.4,385.75 L2255.0,384.40 L2357.6,382.80 L2460.3,380.95 L2562.9,378.85 L2665.5,376.50" fill="none" stroke="#000" stroke-width="2.6"/>
<path d="M1844.5,388.30 L1947.2,387.70 L2049.8,386.85 L2152.4,385.75 L2255.0,384.40 L2357.6,382.80 L2460.3,380.95 L2562.9,378.85 L2665.5,376.50" fill="none" stroke="#fff" stroke-width="2.6" stroke-dasharray="10.15 9.85"/>
<path d="M1844.5,446.70 L1947.2,445.85 L2049.8,445.00 L2152.4,444.15 L2255.0,443.30 L2357.6,442.45 L2460.3,441.60 L2562.9,440.75 L2665.5,439.90" fill="none" stroke="#000" stroke-width="2.6"/>
<path d="M1844.5,446.70 L1947.2,445.85 L2049.8,445.00 L2152.4,444.15 L2255.0,443.30 L2357.6,442.45 L2460.3,441.60 L2562.9,440.75 L2665.5,439.90" fill="none" stroke="#fff" stroke-width="2.6" stroke-dasharray="10.15 9.85"/>
<path d="M1844.5,462.70 L1947.2,461.85 L2049.8,461.00 L2152.4,460.15 L2255.0,459.30 L2357.6,458.45 L2460.3,457.60 L2562.9,456.75 L2665.5,455.90" fill="none" stroke="#000" stroke-width="2.6"/>
<path d="M1844.5,462.70 L1947.2,461.85 L2049.8,461.00 L2152.4,460.15 L2255.0,459.30 L2357.6,458.45 L2460.3,457.60 L2562.9,456.75 L2665.5,455.90" fill="none" stroke="#fff" stroke-width="2.6" stroke-dasharray="10.15 9.85"/>
<path d="M1844.5,483.60 L1947.2,482.74 L2049.8,481.88 L2152.4,481.01 L2255.0,480.15 L2357.6,479.29 L2460.3,478.43 L2562.9,477.56 L2665.5,476.70" fill="none" stroke="#000" stroke-width="2.6"/>
<path d="M1844.5,483.60 L1947.2,482.74 L2049.8,481.88 L2152.4,481.01 L2255.0,480.15 L2357.6,479.29 L2460.3,478.43 L2562.9,477.56 L2665.5,476.70" fill="none" stroke="#fff" stroke-width="2.6" stroke-dasharray="10.15 9.85"/>
<path d="M1844.5,499.60 L1947.2,498.74 L2049.8,497.88 L2152.4,497.01 L2255.0,496.15 L2357.6,495.29 L2460.3,494.43 L2562.9,493.56 L2665.5,492.70" fill="none" stroke="#000" stroke-width="2.6"/>
<path d="M1844.5,499.60 L1947.2,498.74 L2049.8,497.88 L2152.4,497.01 L2255.0,496.15 L2357.6,495.29 L2460.3,494.43 L2562.9,493.56 L2665.5,492.70" fill="none" stroke="#fff" stroke-width="2.6" stroke-dasharray="10.15 9.85"/>
<path d="M1844.5,578.80 L1947.2,578.02 L2049.8,577.25 L2152.4,576.48 L2255.0,575.70 L2357.6,574.92 L2460.3,574.15 L2562.9,573.38 L2665.5,572.60" fill="none" stroke="#000" stroke-width="2.6"/>
<path d="M1844.5,578.80 L1947.2,578.02 L2049.8,577.25 L2152.4,576.48 L2255.0,575.70 L2357.6,574.92 L2460.3,574.15 L2562.9,573.38 L2665.5,572.60" fill="none" stroke="#fff" stroke-width="2.6" stroke-dasharray="10.15 9.85"/>
<path d="M1844.5,594.80 L1947.2,594.06 L2049.8,593.32 L2152.4,592.59 L2255.0,591.85 L2357.6,591.11 L2460.3,590.38 L2562.9,589.64 L2665.5,588.90" fill="none" stroke="#000" stroke-width="2.6"/>
<path d="M1844.5,594.80 L1947.2,594.06 L2049.8,593.32 L2152.4,592.59 L2255.0,591.85 L2357.6,591.11 L2460.3,590.38 L2562.9,589.64 L2665.5,588.90" fill="none" stroke="#fff" stroke-width="2.6" stroke-dasharray="10.15 9.85"/>
<path d="M1844.5,615.60 L1947.2,614.88 L2049.8,614.15 L2152.4,613.42 L2255.0,612.70 L2357.6,611.98 L2460.3,611.25 L2562.9,610.52 L2665.5,609.80" fill="none" stroke="#000" stroke-width="2.6"/>
<path d="M1844.5,615.60 L1947.2,614.88 L2049.8,614.15 L2152.4,613.42 L2255.0,612.70 L2357.6,611.98 L2460.3,611.25 L2562.9,610.52 L2665.5,609.80" fill="none" stroke="#fff" stroke-width="2.6" stroke-dasharray="10.15 9.85"/>
<path d="M1844.5,631.30 L1947.2,630.60 L2049.8,629.90 L2152.4,629.20 L2255.0,628.50 L2357.6,627.80 L2460.3,627.10 L2562.9,626.40 L2665.5,625.70" fill="none" stroke="#000" stroke-width="2.6"/>
<path d="M1844.5,631.30 L1947.2,630.60 L2049.8,629.90 L2152.4,629.20 L2255.0,628.50 L2357.6,627.80 L2460.3,627.10 L2562.9,626.40 L2665.5,625.70" fill="none" stroke="#fff" stroke-width="2.6" stroke-dasharray="10.15 9.85"/>
<path d="M1844.5,736.60 L1947.2,736.04 L2049.8,735.48 L2152.4,734.91 L2255.0,734.35 L2357.6,733.79 L2460.3,733.23 L2562.9,732.66 L2665.5,732.10" fill="none" stroke="#000" stroke-width="2.6"/>
<path d="M1844.5,736.60 L1947.2,736.04 L2049.8,735.48 L2152.4,734.91 L2255.0,734.35 L2357.6,733.79 L2460.3,733.23 L2562.9,732.66 L2665.5,732.10" fill="none" stroke="#fff" stroke-width="2.6" stroke-dasharray="10.15 9.85"/>
<path d="M1844.5,752.00 L1947.2,751.46 L2049.8,750.92 L2152.4,750.39 L2255.0,749.85 L2357.6,749.31 L2460.3,748.78 L2562.9,748.24 L2665.5,747.70" fill="none" stroke="#000" stroke-width="2.6"/>
<path d="M1844.5,752.00 L1947.2,751.46 L2049.8,750.92 L2152.4,750.39 L2255.0,749.85 L2357.6,749.31 L2460.3,748.78 L2562.9,748.24 L2665.5,747.70" fill="none" stroke="#fff" stroke-width="2.6" stroke-dasharray="10.15 9.85"/>
<path d="M1844.5,772.80 L1947.2,772.27 L2049.8,771.75 L2152.4,771.23 L2255.0,770.70 L2357.6,770.17 L2460.3,769.65 L2562.9,769.12 L2665.5,768.60" fill="none" stroke="#000" stroke-width="2.6"/>
<path d="M1844.5,772.80 L1947.2,772.27 L2049.8,771.75 L2152.4,771.23 L2255.0,770.70 L2357.6,770.17 L2460.3,769.65 L2562.9,769.12 L2665.5,768.60" fill="none" stroke="#fff" stroke-width="2.6" stroke-dasharray="10.15 9.85"/>
<path d="M1844.5,788.50 L1947.2,787.96 L2049.8,787.42 L2152.4,786.89 L2255.0,786.35 L2357.6,785.81 L2460.3,785.28 L2562.9,784.74 L2665.5,784.20" fill="none" stroke="#000" stroke-width="2.6"/>
<path d="M1844.5,788.50 L1947.2,787.96 L2049.8,787.42 L2152.4,786.89 L2255.0,786.35 L2357.6,785.81 L2460.3,785.28 L2562.9,784.74 L2665.5,784.20" fill="none" stroke="#fff" stroke-width="2.6" stroke-dasharray="10.15 9.85"/>
</g>
<rect x="119.0" y="100.0" width="821.0" height="713.0" fill="none" stroke="#000" stroke-width="1.67"/>
<line x1="119.10" y1="813.0" x2="119.10" y2="820.3" stroke="#000" stroke-width="1.67"/>
<text x="119.10" y="843.1" font-size="20.833" text-anchor="middle">0</text>
<line x1="119.0" y1="813.00" x2="111.7" y2="813.00" stroke="#000" stroke-width="1.67"/>
<text x="104.60" y="821.70" font-size="20.833" text-anchor="end">0</text>
<line x1="219.32" y1="813.0" x2="219.32" y2="820.3" stroke="#000" stroke-width="1.67"/>
<text x="219.32" y="843.1" font-size="20.833" text-anchor="middle">250</text>
<line x1="119.0" y1="725.84" x2="111.7" y2="725.84" stroke="#000" stroke-width="1.67"/>
<text x="104.60" y="734.54" font-size="20.833" text-anchor="end">250</text>
<line x1="319.54" y1="813.0" x2="319.54" y2="820.3" stroke="#000" stroke-width="1.67"/>
<text x="319.54" y="843.1" font-size="20.833" text-anchor="middle">500</text>
<line x1="119.0" y1="638.67" x2="111.7" y2="638.67" stroke="#000" stroke-width="1.67"/>
<text x="104.60" y="647.38" font-size="20.833" text-anchor="end">500</text>
<line x1="419.76" y1="813.0" x2="419.76" y2="820.3" stroke="#000" stroke-width="1.67"/>
<text x="419.76" y="843.1" font-size="20.833" text-anchor="middle">750</text>
<line x1="119.0" y1="551.51" x2="111.7" y2="551.51" stroke="#000" stroke-width="1.67"/>
<text x="104.60" y="560.21" font-size="20.833" text-anchor="end">750</text>
<line x1="519.98" y1="813.0" x2="519.98" y2="820.3" stroke="#000" stroke-width="1.67"/>
<text x="519.98" y="843.1" font-size="20.833" text-anchor="middle">1000</text>
<line x1="119.0" y1="464.35" x2="111.7" y2="464.35" stroke="#000" stroke-width="1.67"/>
<text x="104.60" y="473.05" font-size="20.833" text-anchor="end">1000</text>
<line x1="620.20" y1="813.0" x2="620.20" y2="820.3" stroke="#000" stroke-width="1.67"/>
<text x="620.20" y="843.1" font-size="20.833" text-anchor="middle">1250</text>
<line x1="119.0" y1="377.19" x2="111.7" y2="377.19" stroke="#000" stroke-width="1.67"/>
<text x="104.60" y="385.89" font-size="20.833" text-anchor="end">1250</text>
<line x1="720.42" y1="813.0" x2="720.42" y2="820.3" stroke="#000" stroke-width="1.67"/>
<text x="720.42" y="843.1" font-size="20.833" text-anchor="middle">1500</text>
<line x1="119.0" y1="290.03" x2="111.7" y2="290.03" stroke="#000" stroke-width="1.67"/>
<text x="104.60" y="298.73" font-size="20.833" text-anchor="end">1500</text>
<line x1="820.64" y1="813.0" x2="820.64" y2="820.3" stroke="#000" stroke-width="1.67"/>
<text x="820.64" y="843.1" font-size="20.833" text-anchor="middle">1750</text>
<line x1="119.0" y1="202.86" x2="111.7" y2="202.86" stroke="#000" stroke-width="1.67"/>
<text x="104.60" y="211.56" font-size="20.833" text-anchor="end">1750</text>
<line x1="920.86" y1="813.0" x2="920.86" y2="820.3" stroke="#000" stroke-width="1.67"/>
<text x="920.86" y="843.1" font-size="20.833" text-anchor="middle">2000</text>
<line x1="119.0" y1="115.70" x2="111.7" y2="115.70" stroke="#000" stroke-width="1.67"/>
<text x="104.60" y="124.40" font-size="20.833" text-anchor="end">2000</text>
<text x="529.50" y="86.9" font-size="25" text-anchor="middle">CHIP1</text>
<text x="530.50" y="872" font-size="20.833" text-anchor="middle">pixel</text>
<rect x="982.0" y="100.0" width="821.0" height="713.0" fill="none" stroke="#000" stroke-width="1.67"/>
<line x1="982.10" y1="813.0" x2="982.10" y2="820.3" stroke="#000" stroke-width="1.67"/>
<text x="982.10" y="843.1" font-size="20.833" text-anchor="middle">0</text>
<line x1="982.0" y1="813.00" x2="974.7" y2="813.00" stroke="#000" stroke-width="1.67"/>
<line x1="1082.32" y1="813.0" x2="1082.32" y2="820.3" stroke="#000" stroke-width="1.67"/>
<text x="1082.32" y="843.1" font-size="20.833" text-anchor="middle">250</text>
<line x1="982.0" y1="725.84" x2="974.7" y2="725.84" stroke="#000" stroke-width="1.67"/>
<line x1="1182.54" y1="813.0" x2="1182.54" y2="820.3" stroke="#000" stroke-width="1.67"/>
<text x="1182.54" y="843.1" font-size="20.833" text-anchor="middle">500</text>
<line x1="982.0" y1="638.67" x2="974.7" y2="638.67" stroke="#000" stroke-width="1.67"/>
<line x1="1282.76" y1="813.0" x2="1282.76" y2="820.3" stroke="#000" stroke-width="1.67"/>
<text x="1282.76" y="843.1" font-size="20.833" text-anchor="middle">750</text>
<line x1="982.0" y1="551.51" x2="974.7" y2="551.51" stroke="#000" stroke-width="1.67"/>
<line x1="1382.98" y1="813.0" x2="1382.98" y2="820.3" stroke="#000" stroke-width="1.67"/>
<text x="1382.98" y="843.1" font-size="20.833" text-anchor="middle">1000</text>
<line x1="982.0" y1="464.35" x2="974.7" y2="464.35" stroke="#000" stroke-width="1.67"/>
<line x1="1483.20" y1="813.0" x2="1483.20" y2="820.3" stroke="#000" stroke-width="1.67"/>
<text x="1483.20" y="843.1" font-size="20.833" text-anchor="middle">1250</text>
<line x1="982.0" y1="377.19" x2="974.7" y2="377.19" stroke="#000" stroke-width="1.67"/>
<line x1="1583.42" y1="813.0" x2="1583.42" y2="820.3" stroke="#000" stroke-width="1.67"/>
<text x="1583.42" y="843.1" font-size="20.833" text-anchor="middle">1500</text>
<line x1="982.0" y1="290.03" x2="974.7" y2="290.03" stroke="#000" stroke-width="1.67"/>
<line x1="1683.64" y1="813.0" x2="1683.64" y2="820.3" stroke="#000" stroke-width="1.67"/>
<text x="1683.64" y="843.1" font-size="20.833" text-anchor="middle">1750</text>
<line x1="982.0" y1="202.86" x2="974.7" y2="202.86" stroke="#000" stroke-width="1.67"/>
<line x1="1783.86" y1="813.0" x2="1783.86" y2="820.3" stroke="#000" stroke-width="1.67"/>
<text x="1783.86" y="843.1" font-size="20.833" text-anchor="middle">2000</text>
<line x1="982.0" y1="115.70" x2="974.7" y2="115.70" stroke="#000" stroke-width="1.67"/>
<text x="1392.50" y="86.9" font-size="25" text-anchor="middle">CHIP2</text>
<text x="1393.50" y="872" font-size="20.833" text-anchor="middle">pixel</text>
<rect x="1845.0" y="100.0" width="820.5" height="713.0" fill="none" stroke="#000" stroke-width="1.67"/>
<line x1="1845.10" y1="813.0" x2="1845.10" y2="820.3" stroke="#000" stroke-width="1.67"/>
<text x="1845.10" y="843.1" font-size="20.833" text-anchor="middle">0</text>
<line x1="1845.0" y1="813.00" x2="1837.7" y2="813.00" stroke="#000" stroke-width="1.67"/>
<line x1="1945.32" y1="813.0" x2="1945.32" y2="820.3" stroke="#000" stroke-width="1.67"/>
<text x="1945.32" y="843.1" font-size="20.833" text-anchor="middle">250</text>
<line x1="1845.0" y1="725.84" x2="1837.7" y2="725.84" stroke="#000" stroke-width="1.67"/>
<line x1="2045.54" y1="813.0" x2="2045.54" y2="820.3" stroke="#000" stroke-width="1.67"/>
<text x="2045.54" y="843.1" font-size="20.833" text-anchor="middle">500</text>
<line x1="1845.0" y1="638.67" x2="1837.7" y2="638.67" stroke="#000" stroke-width="1.67"/>
<line x1="2145.76" y1="813.0" x2="2145.76" y2="820.3" stroke="#000" stroke-width="1.67"/>
<text x="2145.76" y="843.1" font-size="20.833" text-anchor="middle">750</text>
<line x1="1845.0" y1="551.51" x2="1837.7" y2="551.51" stroke="#000" stroke-width="1.67"/>
<line x1="2245.98" y1="813.0" x2="2245.98" y2="820.3" stroke="#000" stroke-width="1.67"/>
<text x="2245.98" y="843.1" font-size="20.833" text-anchor="middle">1000</text>
<line x1="1845.0" y1="464.35" x2="1837.7" y2="464.35" stroke="#000" stroke-width="1.67"/>
<line x1="2346.20" y1="813.0" x2="2346.20" y2="820.3" stroke="#000" stroke-width="1.67"/>
<text x="2346.20" y="843.1" font-size="20.833" text-anchor="middle">1250</text>
<line x1="1845.0" y1="377.19" x2="1837.7" y2="377.19" stroke="#000" stroke-width="1.67"/>
<line x1="2446.42" y1="813.0" x2="2446.42" y2="820.3" stroke="#000" stroke-width="1.67"/>
<text x="2446.42" y="843.1" font-size="20.833" text-anchor="middle">1500</text>
<line x1="1845.0" y1="290.03" x2="1837.7" y2="290.03" stroke="#000" stroke-width="1.67"/>
<line x1="2546.64" y1="813.0" x2="2546.64" y2="820.3" stroke="#000" stroke-width="1.67"/>
<text x="2546.64" y="843.1" font-size="20.833" text-anchor="middle">1750</text>
<line x1="1845.0" y1="202.86" x2="1837.7" y2="202.86" stroke="#000" stroke-width="1.67"/>
<line x1="2646.86" y1="813.0" x2="2646.86" y2="820.3" stroke="#000" stroke-width="1.67"/>
<text x="2646.86" y="843.1" font-size="20.833" text-anchor="middle">2000</text>
<line x1="1845.0" y1="115.70" x2="1837.7" y2="115.70" stroke="#000" stroke-width="1.67"/>
<text x="2255.25" y="86.9" font-size="25" text-anchor="middle">CHIP3</text>
<text x="2256.25" y="872" font-size="20.833" text-anchor="middle">pixel</text>
<text transform="translate(40.4,458.5) rotate(-90)" font-size="20.833" text-anchor="middle">pixel</text>
<text x="1350.5" y="33.5" font-size="20.833" text-anchor="middle" xml:space="preserve" style="white-space:pre">V_XX_Cha_M4211_2023-04-15_00162  (extract_height=45)</text>
</svg></body></html>
